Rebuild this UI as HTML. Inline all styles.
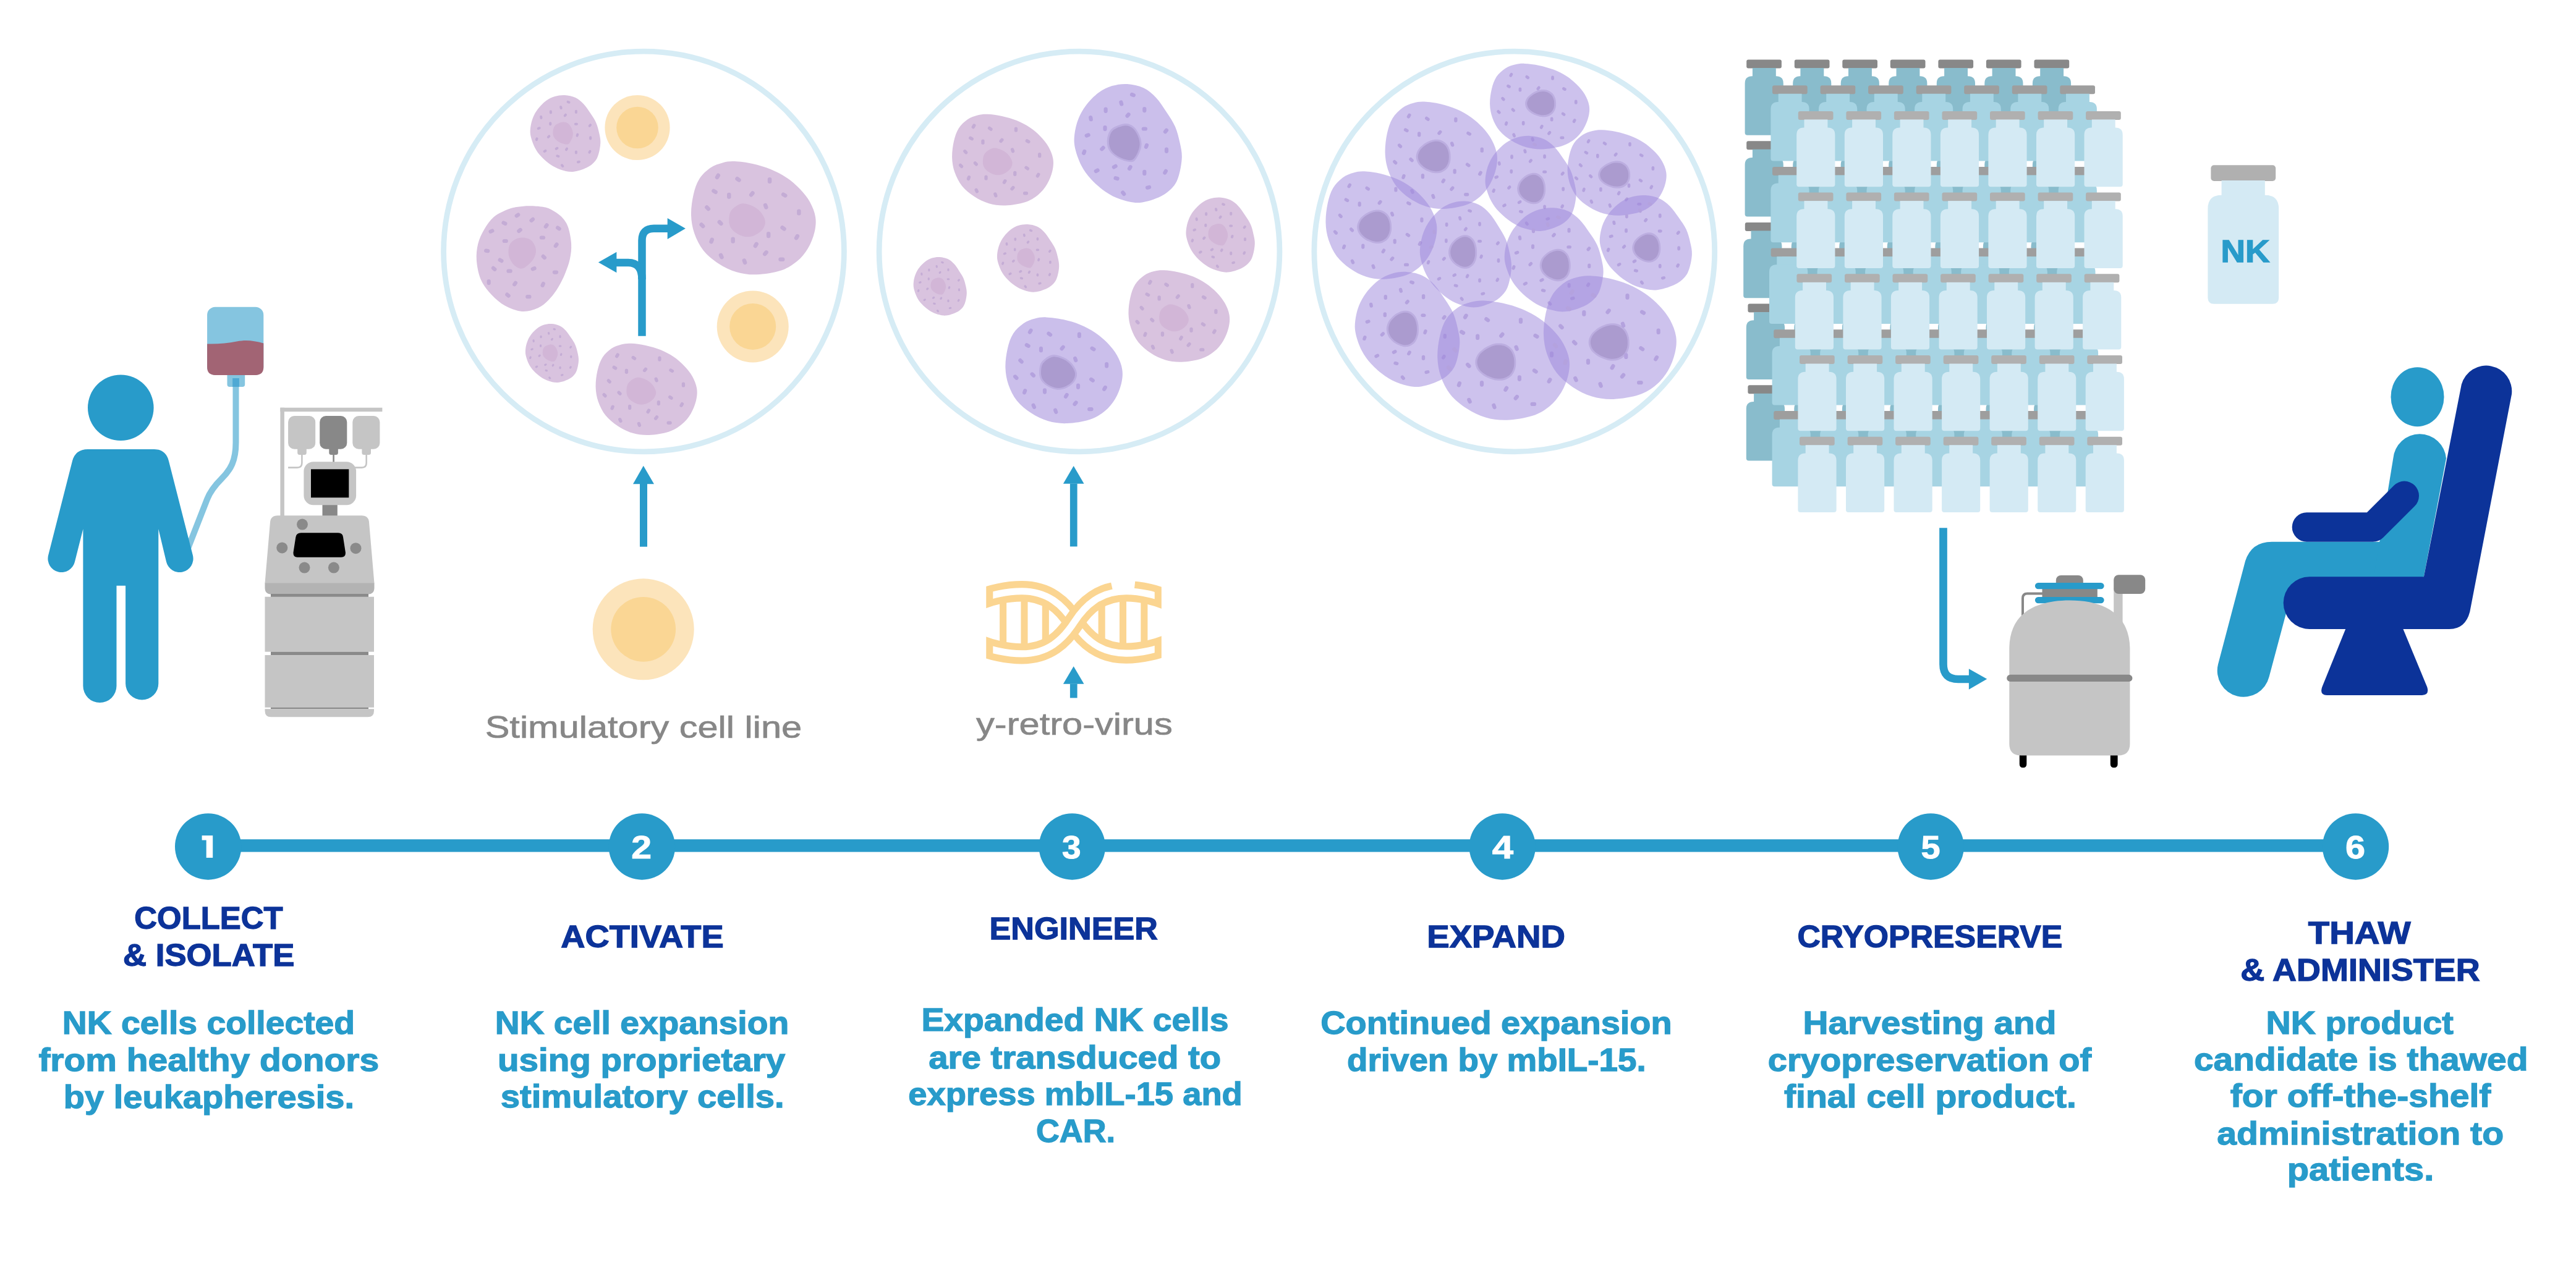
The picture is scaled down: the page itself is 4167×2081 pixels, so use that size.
<!DOCTYPE html><html><head><meta charset="utf-8"><title>NK cell manufacturing process</title>
<style>html,body{margin:0;padding:0;background:#fff;}svg{display:block;}text{font-family:"Liberation Sans",sans-serif;}</style></head><body>
<svg width="4167" height="2081" viewBox="0 0 4167 2081">
<rect width="4167" height="2081" fill="#fff"/>
<path d="M 381.5 620 L 381.5 716 C 381.5 746 373 760 359 774 C 347 786 340 795 335 808 L 303 890" fill="none" stroke="#85c5e0" stroke-width="10"/>
<rect x="367.5" y="603" width="28.7" height="23" rx="4" fill="#85c5e0"/>
<rect x="376.2" y="612" width="10.7" height="14" fill="#4ea9d4"/>
<rect x="335.1" y="496.7" width="91.2" height="110.2" rx="13" fill="#85c5e0"/>
<path d="M 335.1 556.5 C 352 557 368 555.5 383 552.5 C 398 549.5 410 551 426.3 555.5 L 426.3 594 Q 426.3 606.9 413.3 606.9 L 348.1 606.9 Q 335.1 606.9 335.1 594 Z" fill="#a26474"/>
<circle cx="195.3" cy="659.8" r="53.3" fill="#289bca"/>
<path d="M 142 727 L 249 727 Q 268 727 273 746 L 312 899 A 22 22 0 0 1 269 909 L 256.3 856 L 256.3 1106 A 26.6 26.6 0 0 1 203.1 1106 L 203.1 947.7 L 188.5 947.7 L 188.5 1110 A 27 27 0 0 1 134.4 1110 L 134.4 856 L 121 909 A 22 22 0 0 1 78 899 L 117 746 Q 122 727 142 727 Z" fill="#289bca"/>
<rect x="453.4" y="659.7" width="6.5" height="176" fill="#c5c5c5"/>
<rect x="453.4" y="659.7" width="165" height="6.4" fill="#c5c5c5"/>
<rect x="466.1" y="673" width="44.1" height="53.8" rx="10" fill="#c5c5c5"/>
<rect x="481.2" y="722" width="14.6" height="14" rx="3.5" fill="#c5c5c5"/>
<rect x="517.2" y="673" width="44.1" height="53.8" rx="10" fill="#888888"/>
<rect x="532.3" y="722" width="14.6" height="14" rx="3.5" fill="#888888"/>
<rect x="570.3" y="673" width="44.1" height="53.8" rx="10" fill="#c5c5c5"/>
<rect x="585.4" y="722" width="14.6" height="14" rx="3.5" fill="#c5c5c5"/>
<path d="M 488.4 736 L 488.4 749 Q 488.4 756.6 480.8 756.6 L 466.1 756.6" fill="none" stroke="#c5c5c5" stroke-width="2.6"/>
<path d="M 539.6 736 L 539.6 748" fill="none" stroke="#888888" stroke-width="2.6"/>
<path d="M 592.7 736 L 592.7 749 Q 592.7 756.6 585.1 756.6 L 573.6 756.6" fill="none" stroke="#c5c5c5" stroke-width="2.6"/>
<rect x="521.5" y="812" width="24.3" height="24" fill="#888888"/>
<rect x="491.4" y="747.2" width="84.7" height="70" rx="15.5" fill="#c5c5c5"/>
<rect x="503" y="759.3" width="61.3" height="45.9" fill="#000"/>
<path d="M 449 834.2 L 585 834.2 Q 596 834.2 597 845 L 605.5 944 L 428.5 944 L 437 845 Q 438 834.2 449 834.2 Z" fill="#c5c5c5"/>
<path d="M 428.5 943.5 L 605.5 943.5 L 605.5 951 Q 605.5 961.6 595 961.6 L 439 961.6 Q 428.5 961.6 428.5 951 Z" fill="#b3b3b3"/>
<rect x="438" y="961" width="158" height="5" fill="#8a8a8a"/>
<rect x="428.5" y="965.7" width="176.5" height="89" fill="#c5c5c5"/>
<rect x="438" y="1054.7" width="158" height="5.4" fill="#8a8a8a"/>
<rect x="428.5" y="1060.1" width="176.5" height="84.7" fill="#c5c5c5"/>
<rect x="438" y="1144.8" width="158" height="2.6" fill="#8a8a8a"/>
<path d="M 428.5 1147.3 L 605 1147.3 L 605 1150.3 Q 605 1160.3 595 1160.3 L 438.5 1160.3 Q 428.5 1160.3 428.5 1150.3 Z" fill="#c5c5c5"/>
<path d="M 487 862.2 L 547 862.2 Q 554.3 862.2 555 869 L 558.9 894 Q 559.5 901.7 552 901.7 L 481 901.7 Q 474 901.7 474.5 894 L 478.4 869 Q 479.4 862.2 487 862.2 Z" fill="#000"/>
<circle cx="489" cy="848.6" r="9" fill="#8a8a8a"/>
<circle cx="456.3" cy="886.4" r="9" fill="#8a8a8a"/>
<circle cx="575.5" cy="887.2" r="9" fill="#8a8a8a"/>
<circle cx="492.5" cy="918.6" r="9" fill="#8a8a8a"/>
<circle cx="539.9" cy="918.6" r="9" fill="#8a8a8a"/>
<circle cx="1041.5" cy="407" r="323.9" fill="none" stroke="#d6ecf5" stroke-width="8.8"/>
<circle cx="1746" cy="407" r="323.9" fill="none" stroke="#d6ecf5" stroke-width="8.8"/>
<circle cx="2449.8" cy="407" r="323.9" fill="none" stroke="#d6ecf5" stroke-width="8.8"/>
<g><path d="M 913.7 154 C 919.2 154.3 925.8 155.7 930.9 158 C 935.9 160.4 940 163.9 944 168.2 C 948.1 172.4 951.8 178.3 955.1 183.3 C 958.5 188.4 961.9 193.1 964.2 198.5 C 966.6 203.9 968.1 210.3 969.3 215.7 C 970.5 221.1 971.5 225.3 971.3 230.9 C 971.1 236.4 969.8 244 968.3 249.1 C 966.8 254.1 965.4 257.5 962.2 261.2 C 959 264.9 955 268.5 949.1 271.3 C 943.2 274.1 933.9 277.4 926.8 277.9 C 919.8 278.4 912.7 276.3 906.6 274.4 C 900.6 272.4 895.7 269.8 890.4 266.3 C 885.2 262.7 879.5 257.7 875.3 253.1 C 871.1 248.6 868 244.4 865.2 239 C 862.4 233.6 859.8 226.1 858.6 220.8 C 857.4 215.4 857.5 211.7 858.1 206.6 C 858.7 201.5 860.1 195.5 862.1 190.4 C 864.2 185.4 866.7 180.8 870.2 176.3 C 873.8 171.7 878.8 166.5 883.4 163.1 C 887.9 159.7 892.5 157.5 897.5 156 C 902.6 154.5 908.1 153.7 913.7 154 Z" fill="#d9c3df"/><path d="M 910.7 197.5 C 914.2 197.2 917.2 198.3 919.8 200.5 C 922.3 202.7 924.7 207.3 925.8 210.6 C 926.9 214 927.2 217.2 926.3 220.8 C 925.5 224.3 922.7 229.8 920.8 231.9 C 918.8 234 917.4 233.7 914.7 233.4 C 912 233.1 907.6 231.6 904.6 229.9 C 901.6 228.1 898.2 225.6 896.5 222.8 C 894.8 219.9 894.1 216 894.5 212.7 C 894.8 209.3 895.8 205.1 898.5 202.5 C 901.2 200 907.1 197.8 910.7 197.5 Z" fill="#d2b6d7"/><rect x="916.5" y="163.3" width="6.1" height="4" rx="2" transform="rotate(20 919.6 165.3)" fill="#c4acd5"/><rect x="904.4" y="171.9" width="6.1" height="4" rx="2" transform="rotate(75 907.4 173.9)" fill="#c4acd5"/><rect x="887.9" y="179.3" width="6.1" height="4" rx="2" transform="rotate(90 890.9 181.3)" fill="#c4acd5"/><rect x="928.9" y="178.8" width="6.1" height="4" rx="2" transform="rotate(90 931.9 180.8)" fill="#c4acd5"/><rect x="872.2" y="187.9" width="6.1" height="4" rx="2" transform="rotate(80 875.3 189.9)" fill="#c4acd5"/><rect x="911.4" y="184.5" width="6.1" height="4" rx="2" transform="rotate(-50 914.4 186.6)" fill="#c4acd5"/><rect x="887.2" y="198.2" width="6.1" height="4" rx="2" transform="rotate(90 890.2 200.2)" fill="#c4acd5"/><rect x="928.9" y="198.8" width="6.1" height="4" rx="2" transform="rotate(0 931.9 200.8)" fill="#c4acd5"/><rect x="951.4" y="201" width="6.1" height="4" rx="2" transform="rotate(-50 954.4 203.1)" fill="#c4acd5"/><rect x="868.7" y="205.6" width="6.1" height="4" rx="2" transform="rotate(-20 871.7 207.6)" fill="#c4acd5"/><rect x="884.6" y="219.2" width="6.1" height="4" rx="2" transform="rotate(-45 887.6 221.3)" fill="#c4acd5"/><rect x="930.9" y="216.7" width="6.1" height="4" rx="2" transform="rotate(-70 933.9 218.7)" fill="#c4acd5"/><rect x="952.1" y="221.3" width="6.1" height="4" rx="2" transform="rotate(90 955.1 223.3)" fill="#c4acd5"/><rect x="865.2" y="223.3" width="6.1" height="4" rx="2" transform="rotate(-70 868.2 225.3)" fill="#c4acd5"/><rect x="897.5" y="238.3" width="6.1" height="4" rx="2" transform="rotate(-30 900.5 240.3)" fill="#c4acd5"/><rect x="913.5" y="239.5" width="6.1" height="4" rx="2" transform="rotate(-60 916.5 241.5)" fill="#c4acd5"/><rect x="878.5" y="242.5" width="6.1" height="4" rx="2" transform="rotate(-30 881.5 244.5)" fill="#c4acd5"/><rect x="928.9" y="244.5" width="6.1" height="4" rx="2" transform="rotate(90 931.9 246.5)" fill="#c4acd5"/><rect x="950.9" y="243.8" width="6.1" height="4" rx="2" transform="rotate(-60 953.9 245.8)" fill="#c4acd5"/><rect x="899.3" y="250.6" width="6.1" height="4" rx="2" transform="rotate(15 902.4 252.6)" fill="#c4acd5"/><rect x="932.9" y="260" width="6.1" height="4" rx="2" transform="rotate(-15 935.9 262)" fill="#c4acd5"/><rect x="906.6" y="266.1" width="6.1" height="4" rx="2" transform="rotate(50 909.6 268.1)" fill="#c4acd5"/></g>
<circle cx="1031" cy="206.5" r="52.6" fill="#fce4bb"/><circle cx="1031" cy="206.5" r="33.8" fill="#fad694"/>
<g><path d="M 856.4 333.2 C 863.2 333.2 872.3 333.7 878.2 334.8 C 884.2 335.8 887.3 336.8 892.2 339.4 C 897.1 342 903.4 345.8 907.8 350.3 C 912.2 354.9 915.9 359.3 918.7 366.7 C 921.4 374 923.6 385.9 924.1 394.7 C 924.6 403.5 923.5 411.5 921.8 419.6 C 920.1 427.6 917.1 435.4 914 442.9 C 910.9 450.4 907 458.2 903.1 464.7 C 899.2 471.2 895.3 476.6 890.7 481.8 C 886 487 881.3 492.2 875.1 495.8 C 868.9 499.5 860.1 502.6 853.3 503.6 C 846.6 504.6 841.7 504.1 834.7 502 C 827.7 500 818.6 496.1 811.3 491.2 C 804.1 486.2 796.8 479.2 791.1 472.5 C 785.4 465.7 780.5 459.2 777.1 450.7 C 773.8 442.1 771.5 430.5 770.9 421.1 C 770.3 411.8 771.2 403 773.2 394.7 C 775.3 386.4 779.1 378.6 783.3 371.3 C 787.6 364.1 792.4 356.5 798.9 351.1 C 805.4 345.6 815.7 341.4 822.2 338.6 C 828.7 335.9 832.1 335.7 837.8 334.8 C 843.5 333.8 849.7 333.2 856.4 333.2 Z" fill="#d9c3df"/><path d="M 845.6 384.6 C 850.2 384.7 856 386 859.6 389.2 C 863.1 392.5 866.5 398.9 867 404 C 867.5 409.1 865.5 414.9 862.7 419.6 C 859.9 424.2 853.9 429.6 850.2 432 C 846.6 434.5 844.3 435.1 840.9 434.4 C 837.5 433.6 833 430.8 830 427.3 C 827 423.8 824 418.3 823 413.3 C 822 408.4 822.4 401.9 823.8 397.8 C 825.2 393.6 827.9 390.6 831.6 388.4 C 835.2 386.2 840.9 384.4 845.6 384.6 Z" fill="#d2b6d7"/><rect x="832.3" y="345.2" width="9.3" height="6.2" rx="3.1" transform="rotate(-35 837 348.3)" fill="#c4acd5"/><rect x="856.1" y="352.7" width="9.3" height="6.2" rx="3.1" transform="rotate(-40 860.8 355.8)" fill="#c4acd5"/><rect x="811.3" y="358.1" width="9.3" height="6.2" rx="3.1" transform="rotate(25 816 361.2)" fill="#c4acd5"/><rect x="790.3" y="371" width="9.3" height="6.2" rx="3.1" transform="rotate(-25 795 374.1)" fill="#c4acd5"/><rect x="835.9" y="369.8" width="9.3" height="6.2" rx="3.1" transform="rotate(-40 840.6 372.9)" fill="#c4acd5"/><rect x="879" y="362.3" width="9.3" height="6.2" rx="3.1" transform="rotate(-55 883.7 365.4)" fill="#c4acd5"/><rect x="898.7" y="366.3" width="9.3" height="6.2" rx="3.1" transform="rotate(35 903.4 369.5)" fill="#c4acd5"/><rect x="872.8" y="381.4" width="9.3" height="6.2" rx="3.1" transform="rotate(0 877.4 384.6)" fill="#c4acd5"/><rect x="812.6" y="386.9" width="9.3" height="6.2" rx="3.1" transform="rotate(0 817.2 390)" fill="#c4acd5"/><rect x="783" y="402.8" width="9.3" height="6.2" rx="3.1" transform="rotate(10 787.7 405.9)" fill="#c4acd5"/><rect x="895" y="393.6" width="9.3" height="6.2" rx="3.1" transform="rotate(-55 899.7 396.7)" fill="#c4acd5"/><rect x="805.4" y="418.3" width="9.3" height="6.2" rx="3.1" transform="rotate(30 810.1 421.4)" fill="#c4acd5"/><rect x="875.1" y="412.9" width="9.3" height="6.2" rx="3.1" transform="rotate(45 879.8 416)" fill="#c4acd5"/><rect x="794.5" y="431.7" width="9.3" height="6.2" rx="3.1" transform="rotate(40 799.2 434.8)" fill="#c4acd5"/><rect x="819.4" y="435.6" width="9.3" height="6.2" rx="3.1" transform="rotate(0 824.1 438.7)" fill="#c4acd5"/><rect x="858.5" y="431.7" width="9.3" height="6.2" rx="3.1" transform="rotate(-20 863.1 434.8)" fill="#c4acd5"/><rect x="893.8" y="437.5" width="9.3" height="6.2" rx="3.1" transform="rotate(0 898.4 440.6)" fill="#c4acd5"/><rect x="786" y="453.5" width="9.3" height="6.2" rx="3.1" transform="rotate(90 790.7 456.6)" fill="#c4acd5"/><rect x="828.4" y="455.8" width="9.3" height="6.2" rx="3.1" transform="rotate(-55 833.1 458.9)" fill="#c4acd5"/><rect x="873.6" y="457.4" width="9.3" height="6.2" rx="3.1" transform="rotate(-65 878.2 460.5)" fill="#c4acd5"/><rect x="816.8" y="474.5" width="9.3" height="6.2" rx="3.1" transform="rotate(40 821.4 477.6)" fill="#c4acd5"/><rect x="850.2" y="477.1" width="9.3" height="6.2" rx="3.1" transform="rotate(0 854.9 480.3)" fill="#c4acd5"/></g>
<g><path d="M 1188.2 261.1 C 1196.4 261.4 1207.7 262.9 1217.5 265 C 1227.3 267.2 1237.6 270.2 1246.8 274 C 1256 277.8 1264.9 282.5 1272.8 287.8 C 1280.6 293.1 1287.7 299.2 1293.9 305.8 C 1300.1 312.3 1306 319.3 1310.2 326.9 C 1314.4 334.6 1317.9 343.2 1319.1 351.4 C 1320.3 359.5 1319.5 367.4 1317.5 375.8 C 1315.5 384.3 1311.7 394 1306.9 401.9 C 1302.2 409.8 1296.4 417.1 1289 423.1 C 1281.7 429.1 1273.9 434.2 1263 437.8 C 1252.2 441.3 1235.9 443.9 1224 444.3 C 1212.1 444.7 1201.8 443.2 1191.5 440.2 C 1181.2 437.2 1171.2 432.2 1162.2 426.4 C 1153.3 420.5 1144.3 413.3 1137.8 405.2 C 1131.3 397 1126.5 387 1123.2 377.5 C 1119.9 368 1118.3 358.5 1118 348.1 C 1117.7 337.8 1119.4 325.3 1121.6 315.5 C 1123.8 305.8 1126.7 296.8 1131.3 289.5 C 1135.9 282.1 1143 275.9 1149.2 271.5 C 1155.4 267.2 1162.2 265.1 1168.7 263.4 C 1175.2 261.6 1180.1 260.8 1188.2 261.1 Z" fill="#d9c3df"/><path d="M 1199.6 329.4 C 1205.3 328.3 1212.4 331.2 1217.5 333.5 C 1222.6 335.8 1227.1 339.2 1230.5 343.2 C 1233.9 347.3 1237.3 353.3 1237.8 357.9 C 1238.4 362.5 1236.6 367.2 1233.8 371 C 1230.9 374.8 1225.4 378.7 1220.8 380.7 C 1216.1 382.8 1211 383.7 1206.1 383.2 C 1201.2 382.6 1195.6 380.1 1191.5 377.5 C 1187.4 374.9 1183.8 371.5 1181.7 367.7 C 1179.7 363.9 1179 359.3 1179.3 354.7 C 1179.6 350 1180 344.2 1183.4 340 C 1186.7 335.8 1193.9 330.5 1199.6 329.4 Z" fill="#d2b6d7"/><rect x="1155.9" y="282.1" width="10.1" height="6.5" rx="3.3" transform="rotate(-60 1160.9 285.4)" fill="#c4acd5"/><rect x="1188.9" y="287" width="10.1" height="6.5" rx="3.3" transform="rotate(35 1193.9 290.3)" fill="#c4acd5"/><rect x="1240.1" y="288.7" width="10.1" height="6.5" rx="3.3" transform="rotate(90 1245.1 291.9)" fill="#c4acd5"/><rect x="1151" y="306.6" width="10.1" height="6.5" rx="3.3" transform="rotate(30 1156 309.8)" fill="#c4acd5"/><rect x="1174.3" y="313.6" width="10.1" height="6.5" rx="3.3" transform="rotate(90 1179.3 316.8)" fill="#c4acd5"/><rect x="1211.2" y="310.7" width="10.1" height="6.5" rx="3.3" transform="rotate(-50 1216.2 313.9)" fill="#c4acd5"/><rect x="1263.7" y="312.3" width="10.1" height="6.5" rx="3.3" transform="rotate(30 1268.7 315.5)" fill="#c4acd5"/><rect x="1139.6" y="333.5" width="10.1" height="6.5" rx="3.3" transform="rotate(45 1144.7 336.7)" fill="#c4acd5"/><rect x="1233.6" y="330.5" width="10.1" height="6.5" rx="3.3" transform="rotate(70 1238.6 333.8)" fill="#c4acd5"/><rect x="1287.2" y="340.3" width="10.1" height="6.5" rx="3.3" transform="rotate(90 1292.3 343.6)" fill="#c4acd5"/><rect x="1130.8" y="361.5" width="10.1" height="6.5" rx="3.3" transform="rotate(45 1135.9 364.8)" fill="#c4acd5"/><rect x="1160.1" y="357.3" width="10.1" height="6.5" rx="3.3" transform="rotate(45 1165.1 360.5)" fill="#c4acd5"/><rect x="1262" y="366.1" width="10.1" height="6.5" rx="3.3" transform="rotate(35 1267.1 369.3)" fill="#c4acd5"/><rect x="1238.1" y="377" width="10.1" height="6.5" rx="3.3" transform="rotate(90 1243.2 380.2)" fill="#c4acd5"/><rect x="1284" y="380.4" width="10.1" height="6.5" rx="3.3" transform="rotate(-60 1289 383.7)" fill="#c4acd5"/><rect x="1146.1" y="386.1" width="10.1" height="6.5" rx="3.3" transform="rotate(-70 1151.2 389.4)" fill="#c4acd5"/><rect x="1180.6" y="385.3" width="10.1" height="6.5" rx="3.3" transform="rotate(90 1185.6 388.6)" fill="#c4acd5"/><rect x="1217.7" y="393.3" width="10.1" height="6.5" rx="3.3" transform="rotate(-60 1222.7 396.5)" fill="#c4acd5"/><rect x="1233.3" y="406.5" width="10.1" height="6.5" rx="3.3" transform="rotate(-50 1238.3 409.7)" fill="#c4acd5"/><rect x="1161.7" y="411.4" width="10.1" height="6.5" rx="3.3" transform="rotate(65 1166.8 414.6)" fill="#c4acd5"/><rect x="1199.5" y="419.9" width="10.1" height="6.5" rx="3.3" transform="rotate(70 1204.5 423.1)" fill="#c4acd5"/><rect x="1259.3" y="416.6" width="10.1" height="6.5" rx="3.3" transform="rotate(0 1264.3 419.9)" fill="#c4acd5"/></g>
<circle cx="1217.7" cy="528.4" r="58" fill="#fce4bb"/><circle cx="1217.7" cy="528.4" r="37.5" fill="#fad694"/>
<g><path d="M 892.3 524.1 C 896.5 524.4 901.5 525.4 905.4 527.2 C 909.2 529 912.3 531.7 915.3 534.9 C 918.4 538.2 921.2 542.7 923.7 546.6 C 926.3 550.4 928.9 554.1 930.6 558.2 C 932.4 562.3 933.6 567.2 934.5 571.4 C 935.4 575.5 936.1 578.7 936 583 C 935.9 587.2 934.9 593 933.7 596.9 C 932.6 600.8 931.5 603.4 929.1 606.2 C 926.7 609.1 923.6 611.8 919.1 614 C 914.7 616.1 907.7 618.6 902.3 619 C 896.9 619.4 891.6 617.8 887 616.3 C 882.4 614.8 878.7 612.8 874.7 610.1 C 870.8 607.4 866.4 603.5 863.2 600 C 860 596.5 857.7 593.3 855.6 589.2 C 853.5 585 851.5 579.4 850.6 575.2 C 849.7 571.1 849.8 568.3 850.2 564.4 C 850.6 560.5 851.7 555.9 853.3 552 C 854.8 548.1 856.7 544.6 859.4 541.1 C 862.1 537.7 865.9 533.7 869.4 531.1 C 872.8 528.5 876.2 526.8 880.1 525.6 C 883.9 524.5 888.1 523.8 892.3 524.1 Z" fill="#d9c3df"/><path d="M 890 557.4 C 892.7 557.2 895 558.1 896.9 559.7 C 898.8 561.4 900.7 564.9 901.5 567.5 C 902.4 570.1 902.5 572.5 901.9 575.2 C 901.3 577.9 899.2 582.1 897.7 583.8 C 896.2 585.4 895.1 585.2 893.1 584.9 C 891.1 584.7 887.7 583.6 885.4 582.2 C 883.1 580.8 880.6 579 879.3 576.8 C 878 574.6 877.5 571.6 877.8 569 C 878 566.4 878.8 563.2 880.8 561.3 C 882.9 559.3 887.4 557.7 890 557.4 Z" fill="#d2b6d7"/><rect x="894.5" y="531.2" width="4.6" height="3.1" rx="1.5" transform="rotate(20 896.8 532.8)" fill="#c4acd5"/><rect x="885.3" y="537.8" width="4.6" height="3.1" rx="1.5" transform="rotate(75 887.6 539.4)" fill="#c4acd5"/><rect x="872.8" y="543.5" width="4.6" height="3.1" rx="1.5" transform="rotate(90 875.1 545)" fill="#c4acd5"/><rect x="903.8" y="543.1" width="4.6" height="3.1" rx="1.5" transform="rotate(90 906.1 544.6)" fill="#c4acd5"/><rect x="860.9" y="550.1" width="4.6" height="3.1" rx="1.5" transform="rotate(80 863.2 551.6)" fill="#c4acd5"/><rect x="890.6" y="547.5" width="4.6" height="3.1" rx="1.5" transform="rotate(-50 892.9 549)" fill="#c4acd5"/><rect x="872.3" y="558" width="4.6" height="3.1" rx="1.5" transform="rotate(90 874.6 559.5)" fill="#c4acd5"/><rect x="903.8" y="558.4" width="4.6" height="3.1" rx="1.5" transform="rotate(0 906.1 560)" fill="#c4acd5"/><rect x="920.9" y="560.1" width="4.6" height="3.1" rx="1.5" transform="rotate(-50 923.2 561.7)" fill="#c4acd5"/><rect x="858.2" y="563.6" width="4.6" height="3.1" rx="1.5" transform="rotate(-20 860.5 565.2)" fill="#c4acd5"/><rect x="870.3" y="574.1" width="4.6" height="3.1" rx="1.5" transform="rotate(-45 872.6 575.6)" fill="#c4acd5"/><rect x="905.4" y="572.1" width="4.6" height="3.1" rx="1.5" transform="rotate(-70 907.7 573.7)" fill="#c4acd5"/><rect x="921.4" y="575.6" width="4.6" height="3.1" rx="1.5" transform="rotate(90 923.7 577.2)" fill="#c4acd5"/><rect x="855.6" y="577.2" width="4.6" height="3.1" rx="1.5" transform="rotate(-70 857.9 578.7)" fill="#c4acd5"/><rect x="880.1" y="588.6" width="4.6" height="3.1" rx="1.5" transform="rotate(-30 882.4 590.2)" fill="#c4acd5"/><rect x="892.2" y="589.6" width="4.6" height="3.1" rx="1.5" transform="rotate(-60 894.5 591.1)" fill="#c4acd5"/><rect x="865.7" y="591.9" width="4.6" height="3.1" rx="1.5" transform="rotate(-30 868 593.4)" fill="#c4acd5"/><rect x="903.8" y="593.5" width="4.6" height="3.1" rx="1.5" transform="rotate(90 906.1 595)" fill="#c4acd5"/><rect x="920.5" y="592.9" width="4.6" height="3.1" rx="1.5" transform="rotate(-60 922.8 594.4)" fill="#c4acd5"/><rect x="881.5" y="598.1" width="4.6" height="3.1" rx="1.5" transform="rotate(15 883.8 599.6)" fill="#c4acd5"/><rect x="906.9" y="605.3" width="4.6" height="3.1" rx="1.5" transform="rotate(-15 909.2 606.8)" fill="#c4acd5"/><rect x="887" y="610" width="4.6" height="3.1" rx="1.5" transform="rotate(50 889.3 611.5)" fill="#c4acd5"/></g>
<g><path d="M 1020.7 555.7 C 1027.3 555.9 1036.6 557.1 1044.5 558.9 C 1052.5 560.6 1060.9 563 1068.3 566.1 C 1075.8 569.2 1083.1 573.1 1089.5 577.3 C 1095.9 581.6 1101.6 586.6 1106.7 591.9 C 1111.8 597.1 1116.5 602.8 1119.9 609 C 1123.3 615.2 1126.2 622.2 1127.2 628.8 C 1128.2 635.4 1127.5 641.8 1125.9 648.6 C 1124.2 655.4 1121.1 663.3 1117.3 669.7 C 1113.4 676.1 1108.7 682 1102.7 686.8 C 1096.8 691.7 1090.4 695.9 1081.6 698.7 C 1072.8 701.6 1059.5 703.7 1049.8 704 C 1040.1 704.3 1031.8 703.1 1023.4 700.7 C 1015 698.3 1006.8 694.2 999.6 689.5 C 992.3 684.8 985 678.9 979.7 672.3 C 974.4 665.7 970.5 657.6 967.8 649.9 C 965.1 642.2 963.8 634.5 963.6 626.2 C 963.4 617.8 964.7 607.7 966.5 599.8 C 968.3 591.9 970.7 584.6 974.4 578.7 C 978.2 572.7 983.9 567.7 989 564.1 C 994.1 560.6 999.6 559 1004.9 557.5 C 1010.2 556.1 1014.1 555.5 1020.7 555.7 Z" fill="#d9c3df"/><path d="M 1030 611 C 1034.6 610.1 1040.4 612.4 1044.5 614.3 C 1048.7 616.2 1052.4 618.9 1055.1 622.2 C 1057.9 625.5 1060.6 630.3 1061.1 634.1 C 1061.5 637.8 1060.1 641.5 1057.8 644.6 C 1055.5 647.7 1050.9 650.9 1047.2 652.5 C 1043.4 654.2 1039.3 655 1035.3 654.5 C 1031.3 654.1 1026.7 652 1023.4 649.9 C 1020.1 647.8 1017.1 645.1 1015.4 642 C 1013.8 638.9 1013.2 635.2 1013.5 631.4 C 1013.7 627.7 1014 623 1016.8 619.6 C 1019.5 616.2 1025.4 611.9 1030 611 Z" fill="#d2b6d7"/><rect x="994.4" y="572.7" width="8.2" height="5.3" rx="2.6" transform="rotate(-60 998.5 575.4)" fill="#c4acd5"/><rect x="1021.3" y="576.7" width="8.2" height="5.3" rx="2.6" transform="rotate(35 1025.4 579.3)" fill="#c4acd5"/><rect x="1062.9" y="578" width="8.2" height="5.3" rx="2.6" transform="rotate(90 1067 580.6)" fill="#c4acd5"/><rect x="990.4" y="592.5" width="8.2" height="5.3" rx="2.6" transform="rotate(30 994.5 595.1)" fill="#c4acd5"/><rect x="1009.4" y="598.2" width="8.2" height="5.3" rx="2.6" transform="rotate(90 1013.5 600.8)" fill="#c4acd5"/><rect x="1039.4" y="595.8" width="8.2" height="5.3" rx="2.6" transform="rotate(-50 1043.5 598.4)" fill="#c4acd5"/><rect x="1082.1" y="597.1" width="8.2" height="5.3" rx="2.6" transform="rotate(30 1086.2 599.8)" fill="#c4acd5"/><rect x="981.2" y="614.3" width="8.2" height="5.3" rx="2.6" transform="rotate(45 985.3 616.9)" fill="#c4acd5"/><rect x="1057.6" y="611.9" width="8.2" height="5.3" rx="2.6" transform="rotate(70 1061.7 614.5)" fill="#c4acd5"/><rect x="1101.3" y="619.8" width="8.2" height="5.3" rx="2.6" transform="rotate(90 1105.4 622.5)" fill="#c4acd5"/><rect x="974" y="637" width="8.2" height="5.3" rx="2.6" transform="rotate(45 978.1 639.6)" fill="#c4acd5"/><rect x="997.9" y="633.5" width="8.2" height="5.3" rx="2.6" transform="rotate(45 1002 636.2)" fill="#c4acd5"/><rect x="1080.8" y="640.7" width="8.2" height="5.3" rx="2.6" transform="rotate(35 1084.9 643.3)" fill="#c4acd5"/><rect x="1061.3" y="649.5" width="8.2" height="5.3" rx="2.6" transform="rotate(90 1065.4 652.1)" fill="#c4acd5"/><rect x="1098.6" y="652.3" width="8.2" height="5.3" rx="2.6" transform="rotate(-60 1102.7 654.9)" fill="#c4acd5"/><rect x="986.5" y="656.9" width="8.2" height="5.3" rx="2.6" transform="rotate(-70 990.6 659.5)" fill="#c4acd5"/><rect x="1014.5" y="656.2" width="8.2" height="5.3" rx="2.6" transform="rotate(90 1018.6 658.9)" fill="#c4acd5"/><rect x="1044.7" y="662.7" width="8.2" height="5.3" rx="2.6" transform="rotate(-60 1048.8 665.3)" fill="#c4acd5"/><rect x="1057.4" y="673.4" width="8.2" height="5.3" rx="2.6" transform="rotate(-50 1061.5 676)" fill="#c4acd5"/><rect x="999.2" y="677.3" width="8.2" height="5.3" rx="2.6" transform="rotate(65 1003.3 680)" fill="#c4acd5"/><rect x="1029.9" y="684.2" width="8.2" height="5.3" rx="2.6" transform="rotate(70 1034 686.8)" fill="#c4acd5"/><rect x="1078.5" y="681.6" width="8.2" height="5.3" rx="2.6" transform="rotate(0 1082.6 684.2)" fill="#c4acd5"/></g>
<path d="M 1038.5 543.8 L 1038.5 389 Q 1038.5 369.8 1057.7 369.8 L 1082 369.8" fill="none" stroke="#289bca" stroke-width="12.5"/>
<path d="M 1038.5 452 Q 1038.5 424.9 1016 424.9 L 995 424.9" fill="none" stroke="#289bca" stroke-width="12.5"/>
<path d="M 1079.7 352.9 L 1108.9 369.7 L 1079.7 386.9 Z" fill="#289bca"/>
<path d="M 997.4 407.8 L 967.9 424.5 L 997.4 441.3 Z" fill="#289bca"/>
<g><path d="M 1597.2 184.7 C 1603.8 184.9 1613 186.1 1620.9 187.9 C 1628.9 189.6 1637.2 192 1644.7 195.1 C 1652.2 198.2 1659.5 202 1665.9 206.3 C 1672.2 210.5 1678 215.5 1683 220.7 C 1688.1 226 1692.8 231.7 1696.2 237.8 C 1699.7 244 1702.5 251 1703.5 257.5 C 1704.5 264.1 1703.8 270.5 1702.2 277.3 C 1700.5 284.1 1697.4 292 1693.6 298.3 C 1689.7 304.7 1685 310.6 1679.1 315.4 C 1673.1 320.2 1666.7 324.4 1657.9 327.2 C 1649.1 330.1 1635.9 332.2 1626.2 332.5 C 1616.5 332.8 1608.2 331.6 1599.8 329.2 C 1591.4 326.8 1583.3 322.7 1576 318 C 1568.8 313.3 1561.5 307.5 1556.2 300.9 C 1550.9 294.4 1547 286.3 1544.3 278.6 C 1541.6 270.9 1540.3 263.2 1540.1 254.9 C 1539.9 246.6 1541.2 236.5 1543 228.6 C 1544.8 220.7 1547.2 213.5 1550.9 207.6 C 1554.7 201.7 1560.4 196.6 1565.5 193.1 C 1570.5 189.6 1576 187.9 1581.3 186.5 C 1586.6 185.1 1590.6 184.5 1597.2 184.7 Z" fill="#d9c3df"/><path d="M 1606.4 239.8 C 1611 238.9 1616.8 241.2 1620.9 243.1 C 1625.1 244.9 1628.8 247.7 1631.5 251 C 1634.3 254.3 1637 259.1 1637.5 262.8 C 1637.9 266.5 1636.5 270.3 1634.2 273.3 C 1631.8 276.4 1627.3 279.6 1623.6 281.2 C 1619.8 282.9 1615.7 283.6 1611.7 283.2 C 1607.7 282.8 1603.1 280.7 1599.8 278.6 C 1596.5 276.5 1593.5 273.8 1591.9 270.7 C 1590.2 267.6 1589.7 263.9 1589.9 260.2 C 1590.1 256.5 1590.5 251.7 1593.2 248.3 C 1596 244.9 1601.8 240.7 1606.4 239.8 Z" fill="#d2b6d7"/><rect x="1570.9" y="201.7" width="8.2" height="5.3" rx="2.6" transform="rotate(-60 1575 204.3)" fill="#c4acd5"/><rect x="1597.7" y="205.6" width="8.2" height="5.3" rx="2.6" transform="rotate(35 1601.8 208.2)" fill="#c4acd5"/><rect x="1639.3" y="206.9" width="8.2" height="5.3" rx="2.6" transform="rotate(90 1643.4 209.6)" fill="#c4acd5"/><rect x="1566.9" y="221.4" width="8.2" height="5.3" rx="2.6" transform="rotate(30 1571 224)" fill="#c4acd5"/><rect x="1585.8" y="227" width="8.2" height="5.3" rx="2.6" transform="rotate(90 1589.9 229.7)" fill="#c4acd5"/><rect x="1615.8" y="224.7" width="8.2" height="5.3" rx="2.6" transform="rotate(-50 1619.9 227.3)" fill="#c4acd5"/><rect x="1658.5" y="226" width="8.2" height="5.3" rx="2.6" transform="rotate(30 1662.6 228.6)" fill="#c4acd5"/><rect x="1557.7" y="243.1" width="8.2" height="5.3" rx="2.6" transform="rotate(45 1561.8 245.7)" fill="#c4acd5"/><rect x="1634" y="240.7" width="8.2" height="5.3" rx="2.6" transform="rotate(70 1638.1 243.3)" fill="#c4acd5"/><rect x="1677.6" y="248.6" width="8.2" height="5.3" rx="2.6" transform="rotate(90 1681.7 251.2)" fill="#c4acd5"/><rect x="1550.5" y="265.7" width="8.2" height="5.3" rx="2.6" transform="rotate(45 1554.6 268.3)" fill="#c4acd5"/><rect x="1574.3" y="262.3" width="8.2" height="5.3" rx="2.6" transform="rotate(45 1578.4 264.9)" fill="#c4acd5"/><rect x="1657.1" y="269.4" width="8.2" height="5.3" rx="2.6" transform="rotate(35 1661.2 272)" fill="#c4acd5"/><rect x="1637.7" y="278.2" width="8.2" height="5.3" rx="2.6" transform="rotate(90 1641.8 280.8)" fill="#c4acd5"/><rect x="1675" y="280.9" width="8.2" height="5.3" rx="2.6" transform="rotate(-60 1679.1 283.6)" fill="#c4acd5"/><rect x="1563" y="285.5" width="8.2" height="5.3" rx="2.6" transform="rotate(-70 1567 288.2)" fill="#c4acd5"/><rect x="1591" y="284.9" width="8.2" height="5.3" rx="2.6" transform="rotate(90 1595.1 287.5)" fill="#c4acd5"/><rect x="1621.1" y="291.3" width="8.2" height="5.3" rx="2.6" transform="rotate(-60 1625.2 294)" fill="#c4acd5"/><rect x="1633.8" y="302" width="8.2" height="5.3" rx="2.6" transform="rotate(-50 1637.9 304.6)" fill="#c4acd5"/><rect x="1575.6" y="305.9" width="8.2" height="5.3" rx="2.6" transform="rotate(65 1579.7 308.6)" fill="#c4acd5"/><rect x="1606.3" y="312.8" width="8.2" height="5.3" rx="2.6" transform="rotate(70 1610.4 315.4)" fill="#c4acd5"/><rect x="1654.9" y="310.1" width="8.2" height="5.3" rx="2.6" transform="rotate(0 1659 312.8)" fill="#c4acd5"/></g>
<g><path d="M 1823.5 136 C 1832 136.5 1842 138.6 1849.8 142.3 C 1857.5 145.9 1863.8 151.4 1870 157.9 C 1876.2 164.5 1881.8 173.6 1887 181.4 C 1892.2 189.3 1897.3 196.6 1901 204.9 C 1904.6 213.3 1906.9 223.2 1908.7 231.6 C 1910.5 239.9 1912.1 246.4 1911.8 255.1 C 1911.5 263.7 1909.5 275.4 1907.1 283.3 C 1904.8 291.1 1902.8 296.3 1897.8 302.1 C 1892.9 307.8 1886.7 313.4 1877.7 317.7 C 1868.7 322 1854.4 327.1 1843.6 327.9 C 1832.8 328.7 1821.9 325.4 1812.6 322.4 C 1803.3 319.4 1795.8 315.4 1787.8 309.9 C 1779.8 304.4 1771 296.6 1764.5 289.5 C 1758.1 282.5 1753.3 275.9 1749 267.6 C 1744.8 259.2 1740.8 247.7 1739 239.4 C 1737.2 231 1737.3 225.3 1738.2 217.5 C 1739.1 209.6 1741.3 200.2 1744.4 192.4 C 1747.5 184.6 1751.4 177.5 1756.8 170.5 C 1762.2 163.4 1770 155.3 1777 150.1 C 1783.9 144.9 1790.9 141.5 1798.7 139.1 C 1806.4 136.8 1814.9 135.5 1823.5 136 Z" fill="#cbbfeb"/><path d="M 1818.7 200.2 C 1824.8 199.6 1830 201.7 1834.4 205.4 C 1838.7 209.2 1842.9 217 1844.8 222.8 C 1846.7 228.6 1847.1 234.1 1845.7 240.1 C 1844.2 246.2 1839.4 255.6 1836.1 259.2 C 1832.8 262.8 1830.3 262.4 1825.7 261.8 C 1821 261.3 1813.5 258.8 1808.3 255.8 C 1803 252.7 1797.2 248.5 1794.3 243.6 C 1791.4 238.7 1790.3 232 1790.8 226.3 C 1791.4 220.5 1793.2 213.2 1797.8 208.9 C 1802.5 204.6 1812.6 200.8 1818.7 200.2 Z" fill="#bcaee0"/><path d="M 1818.8 203.4 C 1824.2 202.8 1828.9 204.7 1832.8 208.1 C 1836.6 211.5 1840.4 218.5 1842 223.7 C 1843.7 228.9 1844.1 233.9 1842.8 239.4 C 1841.5 244.9 1837.3 253.4 1834.3 256.6 C 1831.3 259.9 1829.1 259.5 1825 259 C 1820.9 258.5 1814.2 256.2 1809.5 253.5 C 1804.8 250.7 1799.7 247 1797.1 242.5 C 1794.5 238.1 1793.5 232.1 1794 226.9 C 1794.5 221.6 1796.1 215.1 1800.2 211.2 C 1804.3 207.3 1813.4 203.9 1818.8 203.4 Z" fill="#ab9bcf"/><rect x="1827.8" y="150.4" width="9.3" height="6.2" rx="3.1" transform="rotate(20 1832.4 153.5)" fill="#b4a2de"/><rect x="1809.2" y="163.8" width="9.3" height="6.2" rx="3.1" transform="rotate(75 1813.8 166.9)" fill="#b4a2de"/><rect x="1783.9" y="175.2" width="9.3" height="6.2" rx="3.1" transform="rotate(90 1788.6 178.3)" fill="#b4a2de"/><rect x="1846.7" y="174.4" width="9.3" height="6.2" rx="3.1" transform="rotate(90 1851.3 177.5)" fill="#b4a2de"/><rect x="1759.9" y="188.5" width="9.3" height="6.2" rx="3.1" transform="rotate(80 1764.5 191.6)" fill="#b4a2de"/><rect x="1819.9" y="183.3" width="9.3" height="6.2" rx="3.1" transform="rotate(-50 1824.5 186.4)" fill="#b4a2de"/><rect x="1782.8" y="204.5" width="9.3" height="6.2" rx="3.1" transform="rotate(90 1787.5 207.6)" fill="#b4a2de"/><rect x="1846.7" y="205.4" width="9.3" height="6.2" rx="3.1" transform="rotate(0 1851.3 208.5)" fill="#b4a2de"/><rect x="1881.3" y="208.9" width="9.3" height="6.2" rx="3.1" transform="rotate(-50 1885.9 212)" fill="#b4a2de"/><rect x="1754.5" y="215.9" width="9.3" height="6.2" rx="3.1" transform="rotate(-20 1759.1 219)" fill="#b4a2de"/><rect x="1778.8" y="237.1" width="9.3" height="6.2" rx="3.1" transform="rotate(-45 1783.5 240.2)" fill="#b4a2de"/><rect x="1849.8" y="233.2" width="9.3" height="6.2" rx="3.1" transform="rotate(-70 1854.5 236.3)" fill="#b4a2de"/><rect x="1882.3" y="240.2" width="9.3" height="6.2" rx="3.1" transform="rotate(90 1887 243.3)" fill="#b4a2de"/><rect x="1749" y="243.3" width="9.3" height="6.2" rx="3.1" transform="rotate(-70 1753.7 246.4)" fill="#b4a2de"/><rect x="1798.6" y="266.5" width="9.3" height="6.2" rx="3.1" transform="rotate(-30 1803.3 269.6)" fill="#b4a2de"/><rect x="1823.1" y="268.4" width="9.3" height="6.2" rx="3.1" transform="rotate(-60 1827.8 271.5)" fill="#b4a2de"/><rect x="1769.5" y="273.1" width="9.3" height="6.2" rx="3.1" transform="rotate(-30 1774.2 276.2)" fill="#b4a2de"/><rect x="1846.7" y="276.2" width="9.3" height="6.2" rx="3.1" transform="rotate(90 1851.3 279.3)" fill="#b4a2de"/><rect x="1880.5" y="275.1" width="9.3" height="6.2" rx="3.1" transform="rotate(-60 1885.1 278.2)" fill="#b4a2de"/><rect x="1801.4" y="285.6" width="9.3" height="6.2" rx="3.1" transform="rotate(15 1806.1 288.7)" fill="#b4a2de"/><rect x="1852.9" y="300.2" width="9.3" height="6.2" rx="3.1" transform="rotate(-15 1857.5 303.3)" fill="#b4a2de"/><rect x="1812.6" y="309.6" width="9.3" height="6.2" rx="3.1" transform="rotate(50 1817.2 312.7)" fill="#b4a2de"/></g>
<g><path d="M 1973.4 319.6 C 1978.8 319.9 1985.2 321.2 1990.2 323.6 C 1995.1 325.9 1999.1 329.3 2003.1 333.4 C 2007 337.5 2010.7 343.3 2014 348.2 C 2017.3 353.2 2020.6 357.8 2022.9 363.1 C 2025.2 368.3 2026.7 374.6 2027.8 379.9 C 2029 385.1 2030 389.2 2029.8 394.7 C 2029.6 400.1 2028.3 407.5 2026.8 412.4 C 2025.3 417.4 2024 420.7 2020.9 424.3 C 2017.8 427.9 2013.8 431.5 2008 434.2 C 2002.2 436.9 1993.2 440.1 1986.2 440.6 C 1979.3 441.1 1972.4 439 1966.4 437.1 C 1960.5 435.2 1955.7 432.7 1950.6 429.2 C 1945.5 425.8 1939.9 420.8 1935.7 416.4 C 1931.6 412 1928.6 407.8 1925.8 402.6 C 1923.1 397.3 1920.6 390.1 1919.4 384.8 C 1918.2 379.5 1918.3 375.9 1918.9 371 C 1919.5 366 1920.9 360.1 1922.9 355.2 C 1924.8 350.2 1927.3 345.8 1930.8 341.3 C 1934.2 336.9 1939.2 331.8 1943.7 328.5 C 1948.1 325.2 1952.6 323.1 1957.5 321.6 C 1962.5 320.1 1967.9 319.3 1973.4 319.6 Z" fill="#d9c3df"/><path d="M 1970.4 362.1 C 1973.9 361.7 1976.8 362.9 1979.3 365 C 1981.8 367.2 1984.2 371.6 1985.2 374.9 C 1986.3 378.2 1986.6 381.3 1985.7 384.8 C 1984.9 388.2 1982.2 393.6 1980.3 395.7 C 1978.4 397.7 1977 397.5 1974.3 397.1 C 1971.7 396.8 1967.4 395.4 1964.4 393.7 C 1961.5 392 1958.2 389.6 1956.5 386.8 C 1954.9 384 1954.2 380.2 1954.5 376.9 C 1954.9 373.6 1955.9 369.5 1958.5 367 C 1961.1 364.5 1966.9 362.4 1970.4 362.1 Z" fill="#d2b6d7"/><rect x="1976.1" y="328.7" width="5.9" height="4" rx="2" transform="rotate(20 1979.1 330.7)" fill="#c4acd5"/><rect x="1964.3" y="337.1" width="5.9" height="4" rx="2" transform="rotate(75 1967.2 339.1)" fill="#c4acd5"/><rect x="1948.1" y="344.3" width="5.9" height="4" rx="2" transform="rotate(90 1951.1 346.3)" fill="#c4acd5"/><rect x="1988.2" y="343.8" width="5.9" height="4" rx="2" transform="rotate(90 1991.2 345.8)" fill="#c4acd5"/><rect x="1932.8" y="352.7" width="5.9" height="4" rx="2" transform="rotate(80 1935.7 354.7)" fill="#c4acd5"/><rect x="1971.1" y="349.4" width="5.9" height="4" rx="2" transform="rotate(-50 1974.1 351.4)" fill="#c4acd5"/><rect x="1947.4" y="362.8" width="5.9" height="4" rx="2" transform="rotate(90 1950.4 364.7)" fill="#c4acd5"/><rect x="1988.2" y="363.4" width="5.9" height="4" rx="2" transform="rotate(0 1991.2 365.3)" fill="#c4acd5"/><rect x="2010.3" y="365.5" width="5.9" height="4" rx="2" transform="rotate(-50 2013.3 367.5)" fill="#c4acd5"/><rect x="1929.3" y="370" width="5.9" height="4" rx="2" transform="rotate(-20 1932.3 372)" fill="#c4acd5"/><rect x="1944.8" y="383.3" width="5.9" height="4" rx="2" transform="rotate(-45 1947.8 385.3)" fill="#c4acd5"/><rect x="1990.2" y="380.8" width="5.9" height="4" rx="2" transform="rotate(-70 1993.2 382.8)" fill="#c4acd5"/><rect x="2011" y="385.3" width="5.9" height="4" rx="2" transform="rotate(90 2014 387.3)" fill="#c4acd5"/><rect x="1925.8" y="387.3" width="5.9" height="4" rx="2" transform="rotate(-70 1928.8 389.2)" fill="#c4acd5"/><rect x="1957.5" y="401.9" width="5.9" height="4" rx="2" transform="rotate(-30 1960.5 403.9)" fill="#c4acd5"/><rect x="1973.2" y="403.1" width="5.9" height="4" rx="2" transform="rotate(-60 1976.1 405)" fill="#c4acd5"/><rect x="1938.9" y="406" width="5.9" height="4" rx="2" transform="rotate(-30 1941.9 408)" fill="#c4acd5"/><rect x="1988.2" y="408" width="5.9" height="4" rx="2" transform="rotate(90 1991.2 410)" fill="#c4acd5"/><rect x="2009.8" y="407.3" width="5.9" height="4" rx="2" transform="rotate(-60 2012.8 409.3)" fill="#c4acd5"/><rect x="1959.3" y="413.9" width="5.9" height="4" rx="2" transform="rotate(15 1962.3 415.9)" fill="#c4acd5"/><rect x="1992.2" y="423.1" width="5.9" height="4" rx="2" transform="rotate(-15 1995.1 425.1)" fill="#c4acd5"/><rect x="1966.4" y="429" width="5.9" height="4" rx="2" transform="rotate(50 1969.4 431)" fill="#c4acd5"/></g>
<g><path d="M 1662.4 363 C 1667.3 363.3 1673.1 364.5 1677.5 366.6 C 1682 368.7 1685.5 371.8 1689.1 375.5 C 1692.7 379.3 1696 384.5 1698.9 388.9 C 1701.9 393.4 1704.9 397.6 1707 402.4 C 1709 407.1 1710.4 412.8 1711.4 417.6 C 1712.5 422.3 1713.3 426.1 1713.2 431 C 1713.1 435.9 1711.9 442.6 1710.5 447.1 C 1709.2 451.6 1708 454.6 1705.2 457.8 C 1702.3 461.1 1698.8 464.3 1693.6 466.8 C 1688.4 469.2 1680.2 472.2 1674 472.6 C 1667.7 473 1661.5 471.2 1656.1 469.5 C 1650.8 467.8 1646.5 465.4 1641.8 462.3 C 1637.2 459.2 1632.2 454.7 1628.5 450.7 C 1624.7 446.7 1622 442.9 1619.5 438.2 C 1617.1 433.4 1614.8 426.8 1613.7 422 C 1612.7 417.3 1612.8 414 1613.3 409.5 C 1613.8 405.1 1615.1 399.7 1616.9 395.2 C 1618.7 390.7 1620.9 386.7 1624 382.7 C 1627.1 378.7 1631.6 374 1635.6 371.1 C 1639.6 368.1 1643.6 366.1 1648.1 364.8 C 1652.5 363.4 1657.5 362.7 1662.4 363 Z" fill="#d9c3df"/><path d="M 1659.7 401.5 C 1662.8 401.2 1665.5 402.2 1667.7 404.2 C 1669.9 406.1 1672.1 410.1 1673.1 413.1 C 1674 416.1 1674.3 418.9 1673.5 422 C 1672.8 425.2 1670.3 430 1668.6 431.9 C 1666.9 433.8 1665.6 433.5 1663.2 433.2 C 1660.9 432.9 1657 431.7 1654.3 430.1 C 1651.7 428.5 1648.7 426.4 1647.2 423.8 C 1645.7 421.3 1645.1 417.9 1645.4 414.9 C 1645.7 411.9 1646.6 408.2 1649 405.9 C 1651.4 403.7 1656.6 401.8 1659.7 401.5 Z" fill="#d2b6d7"/><rect x="1664.9" y="371.2" width="5.4" height="3.6" rx="1.8" transform="rotate(20 1667.5 373)" fill="#c4acd5"/><rect x="1654.2" y="378.8" width="5.4" height="3.6" rx="1.8" transform="rotate(75 1656.8 380.6)" fill="#c4acd5"/><rect x="1639.6" y="385.4" width="5.4" height="3.6" rx="1.8" transform="rotate(90 1642.3 387.2)" fill="#c4acd5"/><rect x="1675.7" y="384.9" width="5.4" height="3.6" rx="1.8" transform="rotate(90 1678.4 386.7)" fill="#c4acd5"/><rect x="1625.8" y="393" width="5.4" height="3.6" rx="1.8" transform="rotate(80 1628.5 394.8)" fill="#c4acd5"/><rect x="1660.3" y="390" width="5.4" height="3.6" rx="1.8" transform="rotate(-50 1663 391.8)" fill="#c4acd5"/><rect x="1639" y="402.1" width="5.4" height="3.6" rx="1.8" transform="rotate(90 1641.7 403.9)" fill="#c4acd5"/><rect x="1675.7" y="402.6" width="5.4" height="3.6" rx="1.8" transform="rotate(0 1678.4 404.4)" fill="#c4acd5"/><rect x="1695.6" y="404.6" width="5.4" height="3.6" rx="1.8" transform="rotate(-50 1698.3 406.4)" fill="#c4acd5"/><rect x="1622.7" y="408.6" width="5.4" height="3.6" rx="1.8" transform="rotate(-20 1625.3 410.4)" fill="#c4acd5"/><rect x="1636.7" y="420.7" width="5.4" height="3.6" rx="1.8" transform="rotate(-45 1639.3 422.5)" fill="#c4acd5"/><rect x="1677.5" y="418.5" width="5.4" height="3.6" rx="1.8" transform="rotate(-70 1680.2 420.3)" fill="#c4acd5"/><rect x="1696.3" y="422.5" width="5.4" height="3.6" rx="1.8" transform="rotate(90 1698.9 424.3)" fill="#c4acd5"/><rect x="1619.5" y="424.3" width="5.4" height="3.6" rx="1.8" transform="rotate(-70 1622.2 426.1)" fill="#c4acd5"/><rect x="1648.1" y="437.5" width="5.4" height="3.6" rx="1.8" transform="rotate(-30 1650.8 439.3)" fill="#c4acd5"/><rect x="1662.2" y="438.6" width="5.4" height="3.6" rx="1.8" transform="rotate(-60 1664.9 440.4)" fill="#c4acd5"/><rect x="1631.3" y="441.3" width="5.4" height="3.6" rx="1.8" transform="rotate(-30 1634 443.1)" fill="#c4acd5"/><rect x="1675.7" y="443.1" width="5.4" height="3.6" rx="1.8" transform="rotate(90 1678.4 444.9)" fill="#c4acd5"/><rect x="1695.2" y="442.5" width="5.4" height="3.6" rx="1.8" transform="rotate(-60 1697.9 444.2)" fill="#c4acd5"/><rect x="1649.7" y="448.4" width="5.4" height="3.6" rx="1.8" transform="rotate(15 1652.4 450.2)" fill="#c4acd5"/><rect x="1679.3" y="456.8" width="5.4" height="3.6" rx="1.8" transform="rotate(-15 1682 458.6)" fill="#c4acd5"/><rect x="1656.1" y="462.1" width="5.4" height="3.6" rx="1.8" transform="rotate(50 1658.8 463.9)" fill="#c4acd5"/></g>
<g><path d="M 1520.1 416 C 1524.3 416.3 1529.3 417.3 1533.1 419.1 C 1537 420.9 1540 423.6 1543.1 426.8 C 1546.2 430 1549 434.5 1551.5 438.4 C 1554.1 442.3 1556.6 445.9 1558.4 450 C 1560.2 454.1 1561.4 459 1562.3 463.1 C 1563.2 467.2 1563.9 470.4 1563.8 474.7 C 1563.7 478.9 1562.6 484.7 1561.5 488.6 C 1560.3 492.5 1559.3 495 1556.9 497.9 C 1554.5 500.7 1551.4 503.5 1546.9 505.6 C 1542.5 507.7 1535.4 510.2 1530.1 510.6 C 1524.7 511 1519.3 509.4 1514.7 507.9 C 1510.1 506.4 1506.4 504.4 1502.4 501.7 C 1498.5 499 1494.1 495.2 1490.9 491.7 C 1487.7 488.2 1485.4 485 1483.3 480.9 C 1481.2 476.7 1479.2 471.1 1478.3 467 C 1477.4 462.8 1477.5 460 1477.9 456.2 C 1478.3 452.3 1479.4 447.7 1481 443.8 C 1482.5 439.9 1484.4 436.5 1487.1 433 C 1489.8 429.5 1493.6 425.5 1497.1 423 C 1500.5 420.4 1504 418.7 1507.8 417.5 C 1511.6 416.4 1515.9 415.7 1520.1 416 Z" fill="#d9c3df"/><path d="M 1517.8 449.2 C 1520.5 448.9 1522.8 449.9 1524.7 451.5 C 1526.6 453.2 1528.5 456.7 1529.3 459.2 C 1530.1 461.8 1530.3 464.3 1529.7 467 C 1529 469.7 1526.9 473.9 1525.5 475.5 C 1524 477.1 1522.9 476.9 1520.8 476.6 C 1518.8 476.4 1515.5 475.3 1513.2 473.9 C 1510.9 472.6 1508.3 470.7 1507 468.5 C 1505.8 466.3 1505.3 463.4 1505.5 460.8 C 1505.8 458.2 1506.5 455 1508.6 453.1 C 1510.6 451.1 1515.1 449.5 1517.8 449.2 Z" fill="#d2b6d7"/><rect x="1522.2" y="423.1" width="4.6" height="3.1" rx="1.5" transform="rotate(20 1524.5 424.6)" fill="#c4acd5"/><rect x="1513" y="429.7" width="4.6" height="3.1" rx="1.5" transform="rotate(75 1515.3 431.2)" fill="#c4acd5"/><rect x="1500.5" y="435.3" width="4.6" height="3.1" rx="1.5" transform="rotate(90 1502.8 436.9)" fill="#c4acd5"/><rect x="1531.6" y="434.9" width="4.6" height="3.1" rx="1.5" transform="rotate(90 1533.9 436.5)" fill="#c4acd5"/><rect x="1488.6" y="441.9" width="4.6" height="3.1" rx="1.5" transform="rotate(80 1490.9 443.4)" fill="#c4acd5"/><rect x="1518.3" y="439.3" width="4.6" height="3.1" rx="1.5" transform="rotate(-50 1520.6 440.9)" fill="#c4acd5"/><rect x="1500" y="449.8" width="4.6" height="3.1" rx="1.5" transform="rotate(90 1502.3 451.3)" fill="#c4acd5"/><rect x="1531.6" y="450.2" width="4.6" height="3.1" rx="1.5" transform="rotate(0 1533.9 451.8)" fill="#c4acd5"/><rect x="1548.7" y="451.9" width="4.6" height="3.1" rx="1.5" transform="rotate(-50 1551 453.5)" fill="#c4acd5"/><rect x="1486" y="455.4" width="4.6" height="3.1" rx="1.5" transform="rotate(-20 1488.3 456.9)" fill="#c4acd5"/><rect x="1498" y="465.8" width="4.6" height="3.1" rx="1.5" transform="rotate(-45 1500.3 467.4)" fill="#c4acd5"/><rect x="1533.1" y="463.9" width="4.6" height="3.1" rx="1.5" transform="rotate(-70 1535.4 465.4)" fill="#c4acd5"/><rect x="1549.2" y="467.4" width="4.6" height="3.1" rx="1.5" transform="rotate(90 1551.5 468.9)" fill="#c4acd5"/><rect x="1483.3" y="468.9" width="4.6" height="3.1" rx="1.5" transform="rotate(-70 1485.6 470.4)" fill="#c4acd5"/><rect x="1507.8" y="480.3" width="4.6" height="3.1" rx="1.5" transform="rotate(-30 1510.1 481.9)" fill="#c4acd5"/><rect x="1519.9" y="481.3" width="4.6" height="3.1" rx="1.5" transform="rotate(-60 1522.2 482.8)" fill="#c4acd5"/><rect x="1493.4" y="483.6" width="4.6" height="3.1" rx="1.5" transform="rotate(-30 1495.7 485.1)" fill="#c4acd5"/><rect x="1531.6" y="485.1" width="4.6" height="3.1" rx="1.5" transform="rotate(90 1533.9 486.7)" fill="#c4acd5"/><rect x="1548.3" y="484.6" width="4.6" height="3.1" rx="1.5" transform="rotate(-60 1550.6 486.1)" fill="#c4acd5"/><rect x="1509.2" y="489.8" width="4.6" height="3.1" rx="1.5" transform="rotate(15 1511.5 491.3)" fill="#c4acd5"/><rect x="1534.7" y="496.9" width="4.6" height="3.1" rx="1.5" transform="rotate(-15 1537 498.5)" fill="#c4acd5"/><rect x="1514.7" y="501.6" width="4.6" height="3.1" rx="1.5" transform="rotate(50 1517 503.1)" fill="#c4acd5"/></g>
<g><path d="M 1882.5 437.2 C 1889.1 437.4 1898.3 438.6 1906.2 440.4 C 1914.2 442.1 1922.5 444.6 1930 447.6 C 1937.5 450.7 1944.7 454.6 1951.1 458.9 C 1957.5 463.2 1963.2 468.1 1968.3 473.4 C 1973.3 478.7 1978 484.4 1981.4 490.6 C 1984.9 496.8 1987.7 503.8 1988.7 510.4 C 1989.7 517.1 1989 523.4 1987.4 530.3 C 1985.7 537.1 1982.7 545 1978.8 551.4 C 1975 557.8 1970.2 563.8 1964.3 568.6 C 1958.4 573.5 1952 577.6 1943.2 580.5 C 1934.4 583.4 1921.2 585.5 1911.5 585.8 C 1901.8 586.1 1893.5 584.9 1885.1 582.5 C 1876.8 580.1 1868.6 576 1861.4 571.3 C 1854.1 566.5 1846.9 560.7 1841.6 554.1 C 1836.3 547.5 1832.4 539.3 1829.7 531.6 C 1827 523.9 1825.7 516.2 1825.5 507.8 C 1825.3 499.4 1826.6 489.3 1828.4 481.4 C 1830.2 473.4 1832.6 466.2 1836.3 460.2 C 1840.1 454.3 1845.8 449.2 1850.8 445.7 C 1855.9 442.1 1861.4 440.5 1866.7 439.1 C 1871.9 437.6 1875.9 437 1882.5 437.2 Z" fill="#d9c3df"/><path d="M 1891.7 492.6 C 1896.3 491.7 1902.1 494 1906.2 495.9 C 1910.4 497.8 1914.1 500.5 1916.8 503.8 C 1919.5 507.1 1922.3 512 1922.7 515.7 C 1923.2 519.5 1921.7 523.2 1919.4 526.3 C 1917.1 529.4 1912.6 532.6 1908.9 534.2 C 1905.1 535.9 1901 536.7 1897 536.2 C 1893.1 535.8 1888.4 533.7 1885.1 531.6 C 1881.8 529.5 1878.9 526.7 1877.2 523.7 C 1875.6 520.6 1875 516.8 1875.2 513.1 C 1875.5 509.3 1875.8 504.6 1878.5 501.2 C 1881.3 497.8 1887.1 493.5 1891.7 492.6 Z" fill="#d2b6d7"/><rect x="1856.2" y="454.3" width="8.2" height="5.3" rx="2.6" transform="rotate(-60 1860.3 456.9)" fill="#c4acd5"/><rect x="1883" y="458.2" width="8.2" height="5.3" rx="2.6" transform="rotate(35 1887.1 460.9)" fill="#c4acd5"/><rect x="1924.6" y="459.5" width="8.2" height="5.3" rx="2.6" transform="rotate(90 1928.7 462.2)" fill="#c4acd5"/><rect x="1852.3" y="474.1" width="8.2" height="5.3" rx="2.6" transform="rotate(30 1856.4 476.7)" fill="#c4acd5"/><rect x="1871.1" y="479.8" width="8.2" height="5.3" rx="2.6" transform="rotate(90 1875.2 482.4)" fill="#c4acd5"/><rect x="1901.1" y="477.4" width="8.2" height="5.3" rx="2.6" transform="rotate(-50 1905.2 480)" fill="#c4acd5"/><rect x="1943.7" y="478.7" width="8.2" height="5.3" rx="2.6" transform="rotate(30 1947.8 481.4)" fill="#c4acd5"/><rect x="1843" y="495.9" width="8.2" height="5.3" rx="2.6" transform="rotate(45 1847.1 498.5)" fill="#c4acd5"/><rect x="1919.3" y="493.5" width="8.2" height="5.3" rx="2.6" transform="rotate(70 1923.4 496.2)" fill="#c4acd5"/><rect x="1962.8" y="501.5" width="8.2" height="5.3" rx="2.6" transform="rotate(90 1966.9 504.1)" fill="#c4acd5"/><rect x="1835.9" y="518.6" width="8.2" height="5.3" rx="2.6" transform="rotate(45 1840 521.3)" fill="#c4acd5"/><rect x="1859.7" y="515.2" width="8.2" height="5.3" rx="2.6" transform="rotate(45 1863.8 517.8)" fill="#c4acd5"/><rect x="1942.4" y="522.3" width="8.2" height="5.3" rx="2.6" transform="rotate(35 1946.5 525)" fill="#c4acd5"/><rect x="1923" y="531.2" width="8.2" height="5.3" rx="2.6" transform="rotate(90 1927.1 533.8)" fill="#c4acd5"/><rect x="1960.2" y="534" width="8.2" height="5.3" rx="2.6" transform="rotate(-60 1964.3 536.6)" fill="#c4acd5"/><rect x="1848.3" y="538.6" width="8.2" height="5.3" rx="2.6" transform="rotate(-70 1852.4 541.2)" fill="#c4acd5"/><rect x="1876.3" y="537.9" width="8.2" height="5.3" rx="2.6" transform="rotate(90 1880.4 540.6)" fill="#c4acd5"/><rect x="1906.4" y="544.4" width="8.2" height="5.3" rx="2.6" transform="rotate(-60 1910.5 547.1)" fill="#c4acd5"/><rect x="1919" y="555.1" width="8.2" height="5.3" rx="2.6" transform="rotate(-50 1923.1 557.8)" fill="#c4acd5"/><rect x="1861" y="559.1" width="8.2" height="5.3" rx="2.6" transform="rotate(65 1865.1 561.7)" fill="#c4acd5"/><rect x="1891.6" y="566" width="8.2" height="5.3" rx="2.6" transform="rotate(70 1895.7 568.6)" fill="#c4acd5"/><rect x="1940.2" y="563.3" width="8.2" height="5.3" rx="2.6" transform="rotate(0 1944.2 566)" fill="#c4acd5"/></g>
<g><path d="M 1692.4 513.4 C 1700 513.7 1710.7 515.1 1719.9 517.1 C 1729 519.1 1738.7 521.9 1747.4 525.5 C 1756 529 1764.4 533.5 1771.8 538.5 C 1779.2 543.4 1785.8 549.1 1791.7 555.3 C 1797.5 561.4 1803 568 1806.9 575.1 C 1810.9 582.2 1814.2 590.4 1815.3 598 C 1816.5 605.7 1815.7 613 1813.8 620.9 C 1811.9 628.8 1808.3 638 1803.9 645.4 C 1799.4 652.8 1794 659.6 1787.1 665.2 C 1780.2 670.8 1772.8 675.7 1762.6 679 C 1752.5 682.3 1737.2 684.7 1726 685.1 C 1714.8 685.5 1705.1 684.1 1695.4 681.3 C 1685.8 678.5 1676.3 673.8 1667.9 668.3 C 1659.5 662.8 1651.1 656.1 1645 648.4 C 1638.9 640.8 1634.4 631.4 1631.3 622.5 C 1628.2 613.6 1626.7 604.6 1626.4 595 C 1626.1 585.3 1627.7 573.6 1629.8 564.4 C 1631.8 555.3 1634.6 546.9 1638.9 540 C 1643.3 533.1 1649.9 527.3 1655.7 523.2 C 1661.6 519.1 1667.9 517.2 1674.1 515.5 C 1680.2 513.9 1684.7 513.1 1692.4 513.4 Z" fill="#cbbfeb"/><path d="M 1702.3 574.2 C 1708.2 573.1 1715.5 576.1 1720.9 578.5 C 1726.3 580.9 1730.9 584.5 1734.5 588.7 C 1738 593 1741.5 599.3 1742.1 604.1 C 1742.6 609 1740.8 613.8 1737.8 617.8 C 1734.9 621.8 1729.1 625.9 1724.3 628.1 C 1719.5 630.2 1714.1 631.2 1709 630.6 C 1704 630 1698 627.3 1693.8 624.6 C 1689.6 621.9 1685.8 618.4 1683.6 614.4 C 1681.5 610.4 1680.8 605.5 1681.1 600.7 C 1681.4 595.9 1681.8 589.7 1685.3 585.3 C 1688.9 580.9 1696.3 575.3 1702.3 574.2 Z" fill="#bcaee0"/><path d="M 1703.1 577.4 C 1708.4 576.4 1715 579.1 1719.9 581.2 C 1724.7 583.4 1728.9 586.6 1732.1 590.4 C 1735.3 594.2 1738.5 599.8 1739 604.1 C 1739.5 608.5 1737.8 612.8 1735.2 616.4 C 1732.5 619.9 1727.3 623.6 1722.9 625.5 C 1718.6 627.4 1713.8 628.3 1709.2 627.8 C 1704.6 627.3 1699.3 624.9 1695.4 622.5 C 1691.6 620.1 1688.2 616.9 1686.3 613.3 C 1684.4 609.7 1683.7 605.4 1684 601.1 C 1684.2 596.8 1684.6 591.3 1687.8 587.3 C 1691 583.4 1697.7 578.4 1703.1 577.4 Z" fill="#ab9bcf"/><rect x="1662" y="533.1" width="9.5" height="6.1" rx="3.1" transform="rotate(-60 1666.7 536.2)" fill="#b4a2de"/><rect x="1693" y="537.7" width="9.5" height="6.1" rx="3.1" transform="rotate(35 1697.7 540.7)" fill="#b4a2de"/><rect x="1741.1" y="539.2" width="9.5" height="6.1" rx="3.1" transform="rotate(90 1745.8 542.3)" fill="#b4a2de"/><rect x="1657.4" y="556" width="9.5" height="6.1" rx="3.1" transform="rotate(30 1662.1 559.1)" fill="#b4a2de"/><rect x="1679.2" y="562.6" width="9.5" height="6.1" rx="3.1" transform="rotate(90 1684 565.6)" fill="#b4a2de"/><rect x="1713.9" y="559.8" width="9.5" height="6.1" rx="3.1" transform="rotate(-50 1718.7 562.9)" fill="#b4a2de"/><rect x="1763.3" y="561.4" width="9.5" height="6.1" rx="3.1" transform="rotate(30 1768 564.4)" fill="#b4a2de"/><rect x="1646.7" y="581.2" width="9.5" height="6.1" rx="3.1" transform="rotate(45 1651.4 584.3)" fill="#b4a2de"/><rect x="1735" y="578.5" width="9.5" height="6.1" rx="3.1" transform="rotate(70 1739.7 581.5)" fill="#b4a2de"/><rect x="1785.4" y="587.6" width="9.5" height="6.1" rx="3.1" transform="rotate(90 1790.1 590.7)" fill="#b4a2de"/><rect x="1638.5" y="607.5" width="9.5" height="6.1" rx="3.1" transform="rotate(45 1643.2 610.6)" fill="#b4a2de"/><rect x="1666" y="603.5" width="9.5" height="6.1" rx="3.1" transform="rotate(45 1670.7 606.6)" fill="#b4a2de"/><rect x="1761.7" y="611.8" width="9.5" height="6.1" rx="3.1" transform="rotate(35 1766.5 614.8)" fill="#b4a2de"/><rect x="1739.3" y="622" width="9.5" height="6.1" rx="3.1" transform="rotate(90 1744 625.1)" fill="#b4a2de"/><rect x="1782.3" y="625.2" width="9.5" height="6.1" rx="3.1" transform="rotate(-60 1787.1 628.3)" fill="#b4a2de"/><rect x="1652.8" y="630.6" width="9.5" height="6.1" rx="3.1" transform="rotate(-70 1657.6 633.6)" fill="#b4a2de"/><rect x="1685.2" y="629.8" width="9.5" height="6.1" rx="3.1" transform="rotate(90 1689.9 632.9)" fill="#b4a2de"/><rect x="1720" y="637.3" width="9.5" height="6.1" rx="3.1" transform="rotate(-60 1724.8 640.3)" fill="#b4a2de"/><rect x="1734.7" y="649.7" width="9.5" height="6.1" rx="3.1" transform="rotate(-50 1739.4 652.7)" fill="#b4a2de"/><rect x="1667.5" y="654.2" width="9.5" height="6.1" rx="3.1" transform="rotate(65 1672.2 657.3)" fill="#b4a2de"/><rect x="1702.9" y="662.2" width="9.5" height="6.1" rx="3.1" transform="rotate(70 1707.7 665.2)" fill="#b4a2de"/><rect x="1759.1" y="659.1" width="9.5" height="6.1" rx="3.1" transform="rotate(0 1763.9 662.2)" fill="#b4a2de"/></g>
<g><path d="M 2466.2 102.9 C 2472.7 103.1 2481.8 104.2 2489.6 105.9 C 2497.4 107.5 2505.6 109.8 2512.9 112.6 C 2520.3 115.5 2527.4 119.1 2533.7 123.1 C 2540 127.1 2545.6 131.7 2550.6 136.7 C 2555.6 141.6 2560.2 146.9 2563.6 152.7 C 2566.9 158.4 2569.7 165 2570.7 171.2 C 2571.7 177.3 2571 183.3 2569.4 189.6 C 2567.8 196 2564.8 203.4 2561 209.4 C 2557.2 215.3 2552.5 220.9 2546.7 225.4 C 2540.8 229.9 2534.6 233.8 2525.9 236.5 C 2517.3 239.1 2504.3 241.1 2494.8 241.4 C 2485.2 241.7 2477 240.6 2468.8 238.3 C 2460.6 236.1 2452.6 232.3 2445.4 227.8 C 2438.3 223.4 2431.1 218 2425.9 211.8 C 2420.7 205.7 2416.9 198.1 2414.3 190.9 C 2411.6 183.7 2410.3 176.5 2410.1 168.7 C 2409.9 160.9 2411.2 151.4 2413 144.1 C 2414.7 136.7 2417.1 129.9 2420.7 124.3 C 2424.4 118.8 2430.1 114.1 2435 110.8 C 2440 107.5 2445.4 105.9 2450.6 104.6 C 2455.8 103.3 2459.7 102.7 2466.2 102.9 Z" fill="#9c86dc" fill-opacity="0.5"/><path d="M 2517.1 167.3 C 2517.1 170.1 2517 172.9 2516.1 175.6 C 2515.2 178.3 2513.8 181.3 2511.7 183.5 C 2509.5 185.6 2506.3 187.6 2503.3 188.5 C 2500.2 189.4 2496.5 189.5 2493.3 189.1 C 2490.1 188.8 2487.1 187.8 2484.2 186.6 C 2481.3 185.5 2478.6 184.2 2476.2 182.4 C 2473.7 180.6 2471.1 178.4 2469.6 175.9 C 2468.1 173.4 2467 170.2 2467.1 167.3 C 2467.1 164.4 2468.4 161.3 2469.9 158.8 C 2471.5 156.3 2474 154.2 2476.3 152.4 C 2478.7 150.5 2481.3 149.1 2484.1 147.8 C 2487 146.6 2490.1 145.5 2493.3 145.1 C 2496.5 144.8 2500.3 145 2503.3 146 C 2506.4 147 2509.4 149.1 2511.5 151.3 C 2513.6 153.5 2514.9 156.4 2515.8 159.1 C 2516.7 161.8 2517 164.5 2517.1 167.3 Z" fill="#bcaee0"/><path d="M 2514.2 167.3 C 2514.3 169.7 2514.2 172.2 2513.4 174.5 C 2512.6 176.8 2511.4 179.4 2509.5 181.3 C 2507.6 183.1 2504.8 184.8 2502.1 185.6 C 2499.4 186.4 2496.1 186.4 2493.3 186.2 C 2490.5 185.9 2487.8 185 2485.3 184 C 2482.8 183 2480.3 181.9 2478.2 180.3 C 2476.1 178.8 2473.8 176.9 2472.5 174.8 C 2471.1 172.6 2470.2 169.8 2470.2 167.3 C 2470.3 164.8 2471.4 162.1 2472.7 159.9 C 2474.1 157.8 2476.3 156 2478.4 154.4 C 2480.5 152.8 2482.8 151.5 2485.2 150.5 C 2487.7 149.5 2490.5 148.4 2493.3 148.2 C 2496.1 147.9 2499.5 148 2502.1 148.9 C 2504.8 149.8 2507.5 151.6 2509.3 153.5 C 2511.2 155.3 2512.3 157.9 2513.1 160.2 C 2513.9 162.5 2514.2 164.9 2514.2 167.3 Z" fill="#ab9bcf"/><rect x="2440.8" y="118.9" width="7.2" height="4.7" rx="2.3" transform="rotate(-60 2444.4 121.3)" fill="#b4a2de"/><rect x="2467.1" y="122.6" width="7.2" height="4.7" rx="2.3" transform="rotate(35 2470.7 125)" fill="#b4a2de"/><rect x="2508" y="123.9" width="7.2" height="4.7" rx="2.3" transform="rotate(90 2511.6 126.2)" fill="#b4a2de"/><rect x="2436.9" y="137.4" width="7.2" height="4.7" rx="2.3" transform="rotate(30 2440.5 139.7)" fill="#b4a2de"/><rect x="2455.4" y="142.7" width="7.2" height="4.7" rx="2.3" transform="rotate(90 2459 145)" fill="#b4a2de"/><rect x="2484.9" y="140.5" width="7.2" height="4.7" rx="2.3" transform="rotate(-50 2488.5 142.8)" fill="#b4a2de"/><rect x="2526.8" y="141.7" width="7.2" height="4.7" rx="2.3" transform="rotate(30 2530.5 144.1)" fill="#b4a2de"/><rect x="2427.8" y="157.7" width="7.2" height="4.7" rx="2.3" transform="rotate(45 2431.4 160.1)" fill="#b4a2de"/><rect x="2545.7" y="162.9" width="7.2" height="4.7" rx="2.3" transform="rotate(90 2549.3 165.2)" fill="#b4a2de"/><rect x="2420.8" y="178.9" width="7.2" height="4.7" rx="2.3" transform="rotate(45 2424.4 181.3)" fill="#b4a2de"/><rect x="2444.1" y="175.7" width="7.2" height="4.7" rx="2.3" transform="rotate(45 2447.8 178.1)" fill="#b4a2de"/><rect x="2525.5" y="182.4" width="7.2" height="4.7" rx="2.3" transform="rotate(35 2529.2 184.7)" fill="#b4a2de"/><rect x="2506.5" y="190.6" width="7.2" height="4.7" rx="2.3" transform="rotate(90 2510.1 193)" fill="#b4a2de"/><rect x="2543.1" y="193.2" width="7.2" height="4.7" rx="2.3" transform="rotate(-60 2546.7 195.6)" fill="#b4a2de"/><rect x="2433" y="197.5" width="7.2" height="4.7" rx="2.3" transform="rotate(-70 2436.6 199.9)" fill="#b4a2de"/><rect x="2460.5" y="196.9" width="7.2" height="4.7" rx="2.3" transform="rotate(90 2464.1 199.3)" fill="#b4a2de"/><rect x="2490.1" y="203" width="7.2" height="4.7" rx="2.3" transform="rotate(-60 2493.7 205.3)" fill="#b4a2de"/><rect x="2502.6" y="212.9" width="7.2" height="4.7" rx="2.3" transform="rotate(-50 2506.2 215.3)" fill="#b4a2de"/><rect x="2445.4" y="216.6" width="7.2" height="4.7" rx="2.3" transform="rotate(65 2449.1 219)" fill="#b4a2de"/><rect x="2475.6" y="223" width="7.2" height="4.7" rx="2.3" transform="rotate(70 2479.2 225.4)" fill="#b4a2de"/><rect x="2523.3" y="220.6" width="7.2" height="4.7" rx="2.3" transform="rotate(0 2527 222.9)" fill="#b4a2de"/></g>
<g><path d="M 2303.8 164.6 C 2311.1 164.9 2321.3 166.3 2330.1 168.3 C 2338.9 170.3 2348.1 173.2 2356.4 176.8 C 2364.7 180.4 2372.7 184.9 2379.8 189.9 C 2386.9 194.9 2393.2 200.7 2398.8 206.8 C 2404.4 213 2409.6 219.7 2413.4 226.9 C 2417.2 234.1 2420.4 242.3 2421.5 250 C 2422.6 257.7 2421.8 265.2 2420 273.1 C 2418.2 281.1 2414.8 290.4 2410.5 297.8 C 2406.2 305.3 2401 312.2 2394.4 317.9 C 2387.8 323.5 2380.8 328.4 2371 331.7 C 2361.3 335.1 2346.7 337.5 2335.9 337.9 C 2325.2 338.3 2315.9 336.9 2306.7 334 C 2297.4 331.2 2288.4 326.5 2280.4 320.9 C 2272.3 315.4 2264.3 308.6 2258.4 300.9 C 2252.6 293.2 2248.3 283.7 2245.3 274.7 C 2242.3 265.7 2240.8 256.7 2240.6 246.9 C 2240.4 237.2 2241.8 225.3 2243.8 216.1 C 2245.8 206.8 2248.4 198.4 2252.6 191.4 C 2256.7 184.5 2263.1 178.6 2268.7 174.5 C 2274.3 170.4 2280.4 168.4 2286.2 166.8 C 2292.1 165.1 2296.5 164.3 2303.8 164.6 Z" fill="#9c86dc" fill-opacity="0.5"/><path d="M 2346.6 253.2 C 2346.7 256.6 2346.6 260.1 2345.5 263.4 C 2344.5 266.7 2343 270.4 2340.6 273.1 C 2338.2 275.7 2334.6 278.1 2331.2 279.2 C 2327.7 280.4 2323.6 280.4 2320 280 C 2316.4 279.6 2313 278.3 2309.8 276.9 C 2306.6 275.6 2303.5 273.9 2300.8 271.7 C 2298.1 269.5 2295.2 266.9 2293.5 263.8 C 2291.8 260.7 2290.6 256.7 2290.6 253.2 C 2290.7 249.7 2292.1 245.8 2293.8 242.7 C 2295.5 239.7 2298.3 237.1 2301 234.9 C 2303.6 232.6 2306.6 230.8 2309.7 229.3 C 2312.9 227.9 2316.4 226.4 2320 226 C 2323.6 225.6 2327.8 225.8 2331.2 227 C 2334.6 228.3 2338.1 230.9 2340.4 233.5 C 2342.7 236.2 2344.2 239.9 2345.2 243.1 C 2346.2 246.4 2346.6 249.8 2346.6 253.2 Z" fill="#bcaee0"/><path d="M 2343.8 253.2 C 2343.8 256.2 2343.7 259.3 2342.8 262.3 C 2341.9 265.2 2340.5 268.5 2338.4 270.8 C 2336.2 273.2 2333 275.3 2330 276.3 C 2326.9 277.4 2323.2 277.4 2320 277 C 2316.8 276.7 2313.8 275.5 2310.9 274.3 C 2308 273.1 2305.3 271.6 2302.9 269.7 C 2300.4 267.7 2297.8 265.4 2296.3 262.6 C 2294.8 259.9 2293.7 256.3 2293.8 253.2 C 2293.8 250.1 2295.1 246.6 2296.6 243.9 C 2298.2 241.2 2300.7 238.9 2303 236.9 C 2305.4 234.9 2308 233.3 2310.8 232 C 2313.7 230.7 2316.8 229.4 2320 229 C 2323.2 228.7 2327 228.8 2330 230 C 2333.1 231.1 2336.1 233.3 2338.2 235.7 C 2340.3 238.1 2341.6 241.3 2342.5 244.2 C 2343.4 247.2 2343.7 250.2 2343.8 253.2 Z" fill="#ab9bcf"/><rect x="2275.1" y="184.9" width="8.2" height="5.3" rx="2.6" transform="rotate(-60 2279.2 187.6)" fill="#b4a2de"/><rect x="2304.8" y="189.6" width="8.2" height="5.3" rx="2.6" transform="rotate(35 2308.9 192.2)" fill="#b4a2de"/><rect x="2350.9" y="191.1" width="8.2" height="5.3" rx="2.6" transform="rotate(90 2354.9 193.7)" fill="#b4a2de"/><rect x="2270.7" y="208.1" width="8.2" height="5.3" rx="2.6" transform="rotate(30 2274.8 210.7)" fill="#b4a2de"/><rect x="2291.6" y="214.7" width="8.2" height="5.3" rx="2.6" transform="rotate(90 2295.7 217.3)" fill="#b4a2de"/><rect x="2324.8" y="211.9" width="8.2" height="5.3" rx="2.6" transform="rotate(-50 2328.9 214.6)" fill="#b4a2de"/><rect x="2372.1" y="213.5" width="8.2" height="5.3" rx="2.6" transform="rotate(30 2376.1 216.1)" fill="#b4a2de"/><rect x="2260.5" y="233.5" width="8.2" height="5.3" rx="2.6" transform="rotate(45 2264.6 236.1)" fill="#b4a2de"/><rect x="2345" y="230.7" width="8.2" height="5.3" rx="2.6" transform="rotate(70 2349.1 233.4)" fill="#b4a2de"/><rect x="2393.3" y="240" width="8.2" height="5.3" rx="2.6" transform="rotate(90 2397.3 242.6)" fill="#b4a2de"/><rect x="2252.6" y="260" width="8.2" height="5.3" rx="2.6" transform="rotate(45 2256.7 262.7)" fill="#b4a2de"/><rect x="2278.9" y="256" width="8.2" height="5.3" rx="2.6" transform="rotate(45 2283 258.7)" fill="#b4a2de"/><rect x="2370.6" y="264.3" width="8.2" height="5.3" rx="2.6" transform="rotate(35 2374.7 267)" fill="#b4a2de"/><rect x="2349.1" y="274.7" width="8.2" height="5.3" rx="2.6" transform="rotate(90 2353.2 277.3)" fill="#b4a2de"/><rect x="2390.3" y="277.9" width="8.2" height="5.3" rx="2.6" transform="rotate(-60 2394.4 280.5)" fill="#b4a2de"/><rect x="2266.3" y="283.3" width="8.2" height="5.3" rx="2.6" transform="rotate(-70 2270.4 285.9)" fill="#b4a2de"/><rect x="2297.3" y="282.5" width="8.2" height="5.3" rx="2.6" transform="rotate(90 2301.4 285.2)" fill="#b4a2de"/><rect x="2330.7" y="290.1" width="8.2" height="5.3" rx="2.6" transform="rotate(-60 2334.8 292.7)" fill="#b4a2de"/><rect x="2344.7" y="302.6" width="8.2" height="5.3" rx="2.6" transform="rotate(-50 2348.8 305.2)" fill="#b4a2de"/><rect x="2280.4" y="307.2" width="8.2" height="5.3" rx="2.6" transform="rotate(65 2284.5 309.8)" fill="#b4a2de"/><rect x="2314.3" y="315.2" width="8.2" height="5.3" rx="2.6" transform="rotate(70 2318.4 317.9)" fill="#b4a2de"/><rect x="2368.1" y="312.1" width="8.2" height="5.3" rx="2.6" transform="rotate(0 2372.2 314.8)" fill="#b4a2de"/></g>
<g><path d="M 2475 219.9 C 2482.2 220.3 2490.7 222 2497.3 224.9 C 2503.8 227.9 2509.1 232.3 2514.3 237.5 C 2519.5 242.7 2524.3 250.1 2528.7 256.4 C 2533 262.6 2537.4 268.5 2540.4 275.2 C 2543.5 281.9 2545.5 289.9 2547 296.6 C 2548.5 303.3 2549.8 308.5 2549.6 315.4 C 2549.4 322.4 2547.6 331.8 2545.7 338.1 C 2543.7 344.4 2542 348.5 2537.8 353.2 C 2533.7 357.8 2528.5 362.3 2520.8 365.7 C 2513.2 369.2 2501.2 373.3 2492 373.9 C 2482.9 374.5 2473.7 371.9 2465.9 369.5 C 2458 367.1 2451.7 363.8 2445 359.4 C 2438.2 355 2430.8 348.8 2425.3 343.1 C 2419.9 337.4 2415.9 332.2 2412.3 325.5 C 2408.7 318.8 2405.3 309.6 2403.8 302.9 C 2402.2 296.2 2402.3 291.6 2403.1 285.3 C 2403.9 279 2405.7 271.4 2408.3 265.2 C 2410.9 258.9 2414.2 253.2 2418.8 247.6 C 2423.4 241.9 2429.9 235.4 2435.8 231.2 C 2441.7 227 2447.6 224.3 2454.1 222.4 C 2460.7 220.5 2467.8 219.5 2475 219.9 Z" fill="#9c86dc" fill-opacity="0.5"/><path d="M 2500.2 305.2 C 2500.2 308.3 2500.1 311.6 2499.3 314.6 C 2498.5 317.7 2497.2 321.1 2495.2 323.6 C 2493.2 326 2490.3 328.2 2487.5 329.3 C 2484.7 330.4 2481.2 330.4 2478.3 330 C 2475.4 329.7 2472.6 328.5 2469.9 327.2 C 2467.3 325.9 2464.8 324.4 2462.5 322.3 C 2460.3 320.3 2457.9 317.9 2456.5 315 C 2455.1 312.2 2454.1 308.4 2454.2 305.2 C 2454.2 302 2455.4 298.3 2456.8 295.5 C 2458.2 292.7 2460.5 290.3 2462.7 288.2 C 2464.9 286.2 2467.3 284.5 2469.9 283.1 C 2472.5 281.7 2475.4 280.4 2478.3 280 C 2481.2 279.7 2484.7 279.8 2487.5 281 C 2490.3 282.1 2493.1 284.5 2495.1 287 C 2497 289.5 2498.2 292.8 2499 295.9 C 2499.9 298.9 2500.1 302.1 2500.2 305.2 Z" fill="#bcaee0"/><path d="M 2497.3 305.2 C 2497.4 308 2497.3 310.8 2496.5 313.5 C 2495.8 316.2 2494.7 319.2 2493 321.4 C 2491.3 323.5 2488.7 325.5 2486.3 326.4 C 2483.8 327.3 2480.8 327.4 2478.3 327 C 2475.8 326.7 2473.3 325.7 2471 324.5 C 2468.7 323.4 2466.5 322.1 2464.6 320.3 C 2462.6 318.5 2460.6 316.3 2459.4 313.8 C 2458.1 311.3 2457.3 308.1 2457.3 305.2 C 2457.4 302.3 2458.4 299.2 2459.6 296.7 C 2460.8 294.2 2462.8 292.1 2464.7 290.3 C 2466.6 288.4 2468.7 287 2471 285.7 C 2473.2 284.5 2475.7 283.4 2478.3 283 C 2480.9 282.7 2483.9 282.9 2486.3 283.9 C 2488.8 284.9 2491.2 287 2492.9 289.2 C 2494.5 291.4 2495.6 294.3 2496.3 297 C 2497 299.7 2497.3 302.4 2497.3 305.2 Z" fill="#ab9bcf"/><rect x="2479.1" y="231.6" width="7.1" height="4.7" rx="2.4" transform="rotate(20 2482.6 234)" fill="#b4a2de"/><rect x="2463.4" y="242.3" width="7.1" height="4.7" rx="2.4" transform="rotate(75 2466.9 244.7)" fill="#b4a2de"/><rect x="2442.1" y="251.5" width="7.1" height="4.7" rx="2.4" transform="rotate(90 2445.6 253.8)" fill="#b4a2de"/><rect x="2495.1" y="250.9" width="7.1" height="4.7" rx="2.4" transform="rotate(90 2498.6 253.2)" fill="#b4a2de"/><rect x="2421.8" y="262.2" width="7.1" height="4.7" rx="2.4" transform="rotate(80 2425.3 264.5)" fill="#b4a2de"/><rect x="2472.4" y="258" width="7.1" height="4.7" rx="2.4" transform="rotate(-50 2476 260.4)" fill="#b4a2de"/><rect x="2441.2" y="275" width="7.1" height="4.7" rx="2.4" transform="rotate(90 2444.7 277.4)" fill="#b4a2de"/><rect x="2495.1" y="275.8" width="7.1" height="4.7" rx="2.4" transform="rotate(0 2498.6 278.1)" fill="#b4a2de"/><rect x="2524.2" y="278.5" width="7.1" height="4.7" rx="2.4" transform="rotate(-50 2527.8 280.9)" fill="#b4a2de"/><rect x="2417.2" y="284.2" width="7.1" height="4.7" rx="2.4" transform="rotate(-20 2420.8 286.5)" fill="#b4a2de"/><rect x="2437.8" y="301.1" width="7.1" height="4.7" rx="2.4" transform="rotate(-45 2441.3 303.5)" fill="#b4a2de"/><rect x="2525.1" y="303.7" width="7.1" height="4.7" rx="2.4" transform="rotate(90 2528.7 306)" fill="#b4a2de"/><rect x="2412.6" y="306.2" width="7.1" height="4.7" rx="2.4" transform="rotate(-70 2416.2 308.5)" fill="#b4a2de"/><rect x="2454.5" y="324.8" width="7.1" height="4.7" rx="2.4" transform="rotate(-30 2458 327.1)" fill="#b4a2de"/><rect x="2429.9" y="330.1" width="7.1" height="4.7" rx="2.4" transform="rotate(-30 2433.4 332.4)" fill="#b4a2de"/><rect x="2495.1" y="332.6" width="7.1" height="4.7" rx="2.4" transform="rotate(90 2498.6 334.9)" fill="#b4a2de"/><rect x="2523.6" y="331.7" width="7.1" height="4.7" rx="2.4" transform="rotate(-60 2527.1 334)" fill="#b4a2de"/><rect x="2456.9" y="340.1" width="7.1" height="4.7" rx="2.4" transform="rotate(15 2460.4 342.5)" fill="#b4a2de"/><rect x="2500.3" y="351.8" width="7.1" height="4.7" rx="2.4" transform="rotate(-15 2503.8 354.2)" fill="#b4a2de"/><rect x="2466.3" y="359.4" width="7.1" height="4.7" rx="2.4" transform="rotate(50 2469.8 361.7)" fill="#b4a2de"/></g>
<g><path d="M 2591.4 210.2 C 2597.9 210.4 2606.9 211.5 2614.6 213.2 C 2622.4 214.8 2630.5 217.1 2637.8 219.9 C 2645.1 222.8 2652.2 226.4 2658.5 230.4 C 2664.7 234.4 2670.3 239 2675.2 244 C 2680.2 248.9 2684.8 254.2 2688.1 260 C 2691.5 265.7 2694.2 272.3 2695.2 278.5 C 2696.2 284.6 2695.5 290.6 2693.9 296.9 C 2692.3 303.3 2689.3 310.7 2685.5 316.7 C 2681.8 322.6 2677.2 328.2 2671.4 332.7 C 2665.6 337.2 2659.3 341.1 2650.7 343.8 C 2642.1 346.4 2629.2 348.4 2619.8 348.7 C 2610.3 349 2602.2 347.9 2594 345.6 C 2585.8 343.4 2577.9 339.6 2570.8 335.1 C 2563.7 330.7 2556.6 325.3 2551.4 319.1 C 2546.3 313 2542.4 305.4 2539.8 298.2 C 2537.2 291 2535.9 283.8 2535.7 276 C 2535.5 268.2 2536.8 258.7 2538.5 251.4 C 2540.3 244 2542.6 237.2 2546.3 231.6 C 2549.9 226.1 2555.5 221.4 2560.5 218.1 C 2565.4 214.8 2570.8 213.2 2575.9 211.9 C 2581.1 210.6 2585 210 2591.4 210.2 Z" fill="#9c86dc" fill-opacity="0.5"/><path d="M 2637.1 282.7 C 2637.2 285.5 2637.1 288.3 2636.1 291 C 2635.2 293.7 2633.7 296.7 2631.5 298.9 C 2629.3 301 2626 303 2622.8 303.9 C 2619.6 304.8 2615.7 304.9 2612.4 304.5 C 2609.1 304.2 2605.9 303.2 2602.9 302 C 2600 300.9 2597.1 299.6 2594.6 297.8 C 2592 296 2589.3 293.8 2587.8 291.3 C 2586.2 288.8 2585.1 285.6 2585.1 282.7 C 2585.2 279.8 2586.5 276.7 2588.1 274.2 C 2589.7 271.7 2592.3 269.6 2594.8 267.8 C 2597.2 265.9 2599.9 264.5 2602.9 263.2 C 2605.8 262 2609.1 260.9 2612.4 260.5 C 2615.7 260.2 2619.7 260.4 2622.8 261.4 C 2626 262.4 2629.2 264.5 2631.3 266.7 C 2633.5 268.9 2634.8 271.8 2635.8 274.5 C 2636.8 277.2 2637.1 279.9 2637.1 282.7 Z" fill="#bcaee0"/><path d="M 2634.3 282.7 C 2634.3 285.1 2634.2 287.6 2633.4 289.9 C 2632.6 292.2 2631.3 294.8 2629.3 296.7 C 2627.3 298.5 2624.4 300.2 2621.6 301 C 2618.8 301.8 2615.3 301.8 2612.4 301.6 C 2609.5 301.3 2606.7 300.4 2604 299.4 C 2601.4 298.4 2598.9 297.3 2596.6 295.7 C 2594.4 294.2 2592 292.3 2590.6 290.2 C 2589.2 288 2588.2 285.2 2588.3 282.7 C 2588.3 280.2 2589.5 277.5 2590.9 275.3 C 2592.3 273.2 2594.6 271.4 2596.8 269.8 C 2599 268.2 2601.4 266.9 2604 265.9 C 2606.6 264.9 2609.5 263.8 2612.4 263.6 C 2615.3 263.3 2618.8 263.4 2621.6 264.3 C 2624.4 265.2 2627.2 267 2629.2 268.9 C 2631.1 270.7 2632.3 273.3 2633.1 275.6 C 2634 277.9 2634.2 280.3 2634.3 282.7 Z" fill="#ab9bcf"/><rect x="2566.1" y="226.2" width="7.2" height="4.6" rx="2.3" transform="rotate(-60 2569.7 228.6)" fill="#b4a2de"/><rect x="2592.3" y="229.9" width="7.2" height="4.6" rx="2.3" transform="rotate(35 2595.9 232.3)" fill="#b4a2de"/><rect x="2632.9" y="231.2" width="7.2" height="4.6" rx="2.3" transform="rotate(90 2636.5 233.5)" fill="#b4a2de"/><rect x="2562.3" y="244.7" width="7.2" height="4.6" rx="2.3" transform="rotate(30 2565.9 247)" fill="#b4a2de"/><rect x="2580.7" y="250" width="7.2" height="4.6" rx="2.3" transform="rotate(90 2584.3 252.3)" fill="#b4a2de"/><rect x="2610" y="247.8" width="7.2" height="4.6" rx="2.3" transform="rotate(-50 2613.6 250.1)" fill="#b4a2de"/><rect x="2651.6" y="249" width="7.2" height="4.6" rx="2.3" transform="rotate(30 2655.2 251.4)" fill="#b4a2de"/><rect x="2553.3" y="265.1" width="7.2" height="4.6" rx="2.3" transform="rotate(45 2556.8 267.4)" fill="#b4a2de"/><rect x="2670.3" y="270.2" width="7.2" height="4.6" rx="2.3" transform="rotate(90 2673.9 272.5)" fill="#b4a2de"/><rect x="2546.3" y="286.2" width="7.2" height="4.6" rx="2.3" transform="rotate(45 2549.9 288.6)" fill="#b4a2de"/><rect x="2569.5" y="283" width="7.2" height="4.6" rx="2.3" transform="rotate(45 2573.1 285.4)" fill="#b4a2de"/><rect x="2650.4" y="289.7" width="7.2" height="4.6" rx="2.3" transform="rotate(35 2653.9 292)" fill="#b4a2de"/><rect x="2631.4" y="298" width="7.2" height="4.6" rx="2.3" transform="rotate(90 2635 300.3)" fill="#b4a2de"/><rect x="2667.8" y="300.5" width="7.2" height="4.6" rx="2.3" transform="rotate(-60 2671.4 302.9)" fill="#b4a2de"/><rect x="2558.4" y="304.9" width="7.2" height="4.6" rx="2.3" transform="rotate(-70 2562 307.2)" fill="#b4a2de"/><rect x="2585.7" y="304.2" width="7.2" height="4.6" rx="2.3" transform="rotate(90 2589.3 306.6)" fill="#b4a2de"/><rect x="2615.1" y="310.3" width="7.2" height="4.6" rx="2.3" transform="rotate(-60 2618.7 312.6)" fill="#b4a2de"/><rect x="2627.5" y="320.3" width="7.2" height="4.6" rx="2.3" transform="rotate(-50 2631.1 322.6)" fill="#b4a2de"/><rect x="2570.8" y="324" width="7.2" height="4.6" rx="2.3" transform="rotate(65 2574.4 326.3)" fill="#b4a2de"/><rect x="2600.7" y="330.4" width="7.2" height="4.6" rx="2.3" transform="rotate(70 2604.3 332.7)" fill="#b4a2de"/><rect x="2648.2" y="327.9" width="7.2" height="4.6" rx="2.3" transform="rotate(0 2651.8 330.2)" fill="#b4a2de"/></g>
<g><path d="M 2207.1 277.3 C 2214.4 277.6 2224.5 279 2233.2 281 C 2241.9 283.1 2251.1 285.9 2259.3 289.6 C 2267.6 293.2 2275.5 297.7 2282.5 302.7 C 2289.5 307.8 2295.8 313.6 2301.4 319.8 C 2306.9 326 2312.1 332.7 2315.9 340 C 2319.6 347.2 2322.8 355.5 2323.9 363.3 C 2325 371 2324.2 378.5 2322.4 386.5 C 2320.6 394.5 2317.2 403.9 2313 411.4 C 2308.8 418.9 2303.6 425.8 2297 431.5 C 2290.5 437.2 2283.5 442.1 2273.8 445.5 C 2264.2 448.9 2249.7 451.3 2239 451.7 C 2228.4 452.1 2219.2 450.7 2210 447.8 C 2200.9 445 2191.9 440.2 2183.9 434.6 C 2176 429.1 2168 422.2 2162.2 414.5 C 2156.4 406.7 2152.1 397.1 2149.1 388.1 C 2146.2 379 2144.7 370 2144.5 360.2 C 2144.3 350.3 2145.7 338.4 2147.7 329.1 C 2149.7 319.8 2152.3 311.3 2156.4 304.3 C 2160.5 297.3 2166.8 291.4 2172.3 287.2 C 2177.9 283.1 2183.9 281.1 2189.7 279.5 C 2195.5 277.8 2199.9 277 2207.1 277.3 Z" fill="#9c86dc" fill-opacity="0.5"/><path d="M 2251.1 366.9 C 2251.2 370.3 2251.1 373.8 2250 377.1 C 2249 380.4 2247.5 384.1 2245.1 386.8 C 2242.7 389.4 2239.1 391.8 2235.7 392.9 C 2232.2 394.1 2228.1 394.1 2224.5 393.7 C 2220.9 393.3 2217.5 392 2214.3 390.6 C 2211.1 389.3 2208 387.6 2205.3 385.4 C 2202.6 383.2 2199.7 380.6 2198 377.5 C 2196.3 374.4 2195.1 370.4 2195.1 366.9 C 2195.2 363.4 2196.6 359.5 2198.3 356.4 C 2200 353.4 2202.8 350.8 2205.5 348.6 C 2208.1 346.3 2211.1 344.5 2214.2 343 C 2217.4 341.6 2220.9 340.1 2224.5 339.7 C 2228.1 339.3 2232.3 339.5 2235.7 340.7 C 2239.1 342 2242.6 344.6 2244.9 347.2 C 2247.2 349.9 2248.7 353.6 2249.7 356.8 C 2250.7 360.1 2251.1 363.5 2251.1 366.9 Z" fill="#bcaee0"/><path d="M 2248.3 366.9 C 2248.3 369.9 2248.2 373 2247.3 376 C 2246.4 378.9 2245 382.2 2242.9 384.5 C 2240.7 386.9 2237.5 389 2234.5 390 C 2231.4 391.1 2227.7 391.1 2224.5 390.7 C 2221.3 390.4 2218.3 389.2 2215.4 388 C 2212.5 386.8 2209.8 385.3 2207.4 383.4 C 2204.9 381.4 2202.3 379.1 2200.8 376.3 C 2199.3 373.6 2198.2 370 2198.3 366.9 C 2198.3 363.8 2199.6 360.3 2201.1 357.6 C 2202.7 354.9 2205.2 352.6 2207.5 350.6 C 2209.9 348.6 2212.5 347 2215.3 345.7 C 2218.2 344.4 2221.3 343.1 2224.5 342.7 C 2227.7 342.4 2231.5 342.5 2234.5 343.7 C 2237.6 344.8 2240.6 347 2242.7 349.4 C 2244.8 351.8 2246.1 355 2247 357.9 C 2247.9 360.9 2248.2 363.9 2248.3 366.9 Z" fill="#ab9bcf"/><rect x="2178.7" y="297.8" width="8.1" height="5.2" rx="2.6" transform="rotate(-60 2182.8 300.4)" fill="#b4a2de"/><rect x="2208.2" y="302.5" width="8.1" height="5.2" rx="2.6" transform="rotate(35 2212.2 305.1)" fill="#b4a2de"/><rect x="2253.8" y="304" width="8.1" height="5.2" rx="2.6" transform="rotate(90 2257.9 306.6)" fill="#b4a2de"/><rect x="2174.4" y="321.1" width="8.1" height="5.2" rx="2.6" transform="rotate(30 2178.4 323.7)" fill="#b4a2de"/><rect x="2195.1" y="327.8" width="8.1" height="5.2" rx="2.6" transform="rotate(90 2199.2 330.4)" fill="#b4a2de"/><rect x="2228" y="325" width="8.1" height="5.2" rx="2.6" transform="rotate(-50 2232.1 327.6)" fill="#b4a2de"/><rect x="2274.9" y="326.5" width="8.1" height="5.2" rx="2.6" transform="rotate(30 2278.9 329.1)" fill="#b4a2de"/><rect x="2164.2" y="346.7" width="8.1" height="5.2" rx="2.6" transform="rotate(45 2168.3 349.3)" fill="#b4a2de"/><rect x="2248" y="343.9" width="8.1" height="5.2" rx="2.6" transform="rotate(70 2252.1 346.5)" fill="#b4a2de"/><rect x="2295.9" y="353.2" width="8.1" height="5.2" rx="2.6" transform="rotate(90 2299.9 355.8)" fill="#b4a2de"/><rect x="2156.4" y="373.4" width="8.1" height="5.2" rx="2.6" transform="rotate(45 2160.4 376)" fill="#b4a2de"/><rect x="2182.5" y="369.3" width="8.1" height="5.2" rx="2.6" transform="rotate(45 2186.6 371.9)" fill="#b4a2de"/><rect x="2273.4" y="377.7" width="8.1" height="5.2" rx="2.6" transform="rotate(35 2277.5 380.3)" fill="#b4a2de"/><rect x="2252.1" y="388.1" width="8.1" height="5.2" rx="2.6" transform="rotate(90 2256.2 390.7)" fill="#b4a2de"/><rect x="2293" y="391.4" width="8.1" height="5.2" rx="2.6" transform="rotate(-60 2297 394)" fill="#b4a2de"/><rect x="2170" y="396.8" width="8.1" height="5.2" rx="2.6" transform="rotate(-70 2174.1 399.4)" fill="#b4a2de"/><rect x="2200.8" y="396" width="8.1" height="5.2" rx="2.6" transform="rotate(90 2204.8 398.6)" fill="#b4a2de"/><rect x="2233.8" y="403.6" width="8.1" height="5.2" rx="2.6" transform="rotate(-60 2237.9 406.2)" fill="#b4a2de"/><rect x="2247.8" y="416.2" width="8.1" height="5.2" rx="2.6" transform="rotate(-50 2251.8 418.8)" fill="#b4a2de"/><rect x="2184" y="420.9" width="8.1" height="5.2" rx="2.6" transform="rotate(65 2188 423.5)" fill="#b4a2de"/><rect x="2217.6" y="428.9" width="8.1" height="5.2" rx="2.6" transform="rotate(70 2221.6 431.5)" fill="#b4a2de"/><rect x="2271" y="425.8" width="8.1" height="5.2" rx="2.6" transform="rotate(0 2275 428.4)" fill="#b4a2de"/></g>
<g><path d="M 2369.9 325.6 C 2377.1 326.1 2385.7 327.9 2392.3 331.2 C 2398.9 334.5 2404.1 339.4 2409.4 345.2 C 2414.7 351.1 2419.5 359.2 2423.9 366.2 C 2428.3 373.3 2432.7 379.8 2435.8 387.3 C 2438.9 394.7 2440.8 403.6 2442.4 411.1 C 2443.9 418.6 2445.2 424.4 2445 432.1 C 2444.8 439.8 2443 450.3 2441 457.4 C 2439.1 464.4 2437.3 469 2433.1 474.2 C 2429 479.3 2423.7 484.3 2416 488.2 C 2408.3 492 2396.2 496.6 2387 497.3 C 2377.8 498 2368.6 495.1 2360.7 492.4 C 2352.8 489.7 2346.4 486.1 2339.6 481.2 C 2332.8 476.3 2325.3 469.3 2319.8 463 C 2314.3 456.7 2310.2 450.8 2306.6 443.3 C 2303 435.9 2299.6 425.6 2298.1 418.1 C 2296.5 410.6 2296.6 405.5 2297.4 398.5 C 2298.2 391.5 2300 383.1 2302.7 376.1 C 2305.3 369.1 2308.6 362.7 2313.2 356.4 C 2317.8 350.1 2324.4 342.9 2330.3 338.2 C 2336.3 333.5 2342.2 330.5 2348.8 328.4 C 2355.4 326.3 2362.6 325.1 2369.9 325.6 Z" fill="#9c86dc" fill-opacity="0.5"/><path d="M 2389.1 407.7 C 2389.1 411.1 2389 414.6 2388.2 417.9 C 2387.4 421.2 2386.1 424.9 2384.1 427.6 C 2382.1 430.2 2379.2 432.6 2376.4 433.7 C 2373.6 434.9 2370.1 434.9 2367.2 434.5 C 2364.3 434.1 2361.5 432.8 2358.8 431.4 C 2356.2 430.1 2353.7 428.4 2351.4 426.2 C 2349.2 424 2346.8 421.4 2345.4 418.3 C 2344 415.2 2343 411.2 2343.1 407.7 C 2343.1 404.2 2344.3 400.3 2345.7 397.2 C 2347.1 394.2 2349.4 391.6 2351.6 389.4 C 2353.8 387.1 2356.2 385.3 2358.8 383.8 C 2361.4 382.4 2364.3 380.9 2367.2 380.5 C 2370.1 380.1 2373.6 380.3 2376.4 381.5 C 2379.2 382.8 2382 385.4 2384 388 C 2385.9 390.7 2387.1 394.4 2387.9 397.6 C 2388.8 400.9 2389 404.3 2389.1 407.7 Z" fill="#bcaee0"/><path d="M 2386.2 407.7 C 2386.3 410.7 2386.2 413.8 2385.4 416.8 C 2384.7 419.7 2383.6 423 2381.9 425.3 C 2380.2 427.7 2377.6 429.8 2375.2 430.8 C 2372.7 431.9 2369.7 431.9 2367.2 431.5 C 2364.7 431.2 2362.2 430 2359.9 428.8 C 2357.6 427.6 2355.4 426.1 2353.5 424.2 C 2351.5 422.2 2349.5 419.9 2348.3 417.1 C 2347 414.4 2346.2 410.8 2346.2 407.7 C 2346.3 404.6 2347.3 401.1 2348.5 398.4 C 2349.7 395.7 2351.7 393.4 2353.6 391.4 C 2355.5 389.4 2357.6 387.8 2359.9 386.5 C 2362.1 385.2 2364.6 383.9 2367.2 383.5 C 2369.8 383.2 2372.8 383.3 2375.2 384.5 C 2377.7 385.6 2380.1 387.8 2381.8 390.2 C 2383.4 392.6 2384.5 395.8 2385.2 398.7 C 2385.9 401.7 2386.2 404.7 2386.2 407.7 Z" fill="#ab9bcf"/><rect x="2374" y="338.9" width="7.1" height="4.7" rx="2.4" transform="rotate(20 2377.5 341.3)" fill="#b4a2de"/><rect x="2358.2" y="350.8" width="7.1" height="4.7" rx="2.4" transform="rotate(75 2361.7 353.2)" fill="#b4a2de"/><rect x="2336.7" y="361.1" width="7.1" height="4.7" rx="2.4" transform="rotate(90 2340.2 363.4)" fill="#b4a2de"/><rect x="2390" y="360.4" width="7.1" height="4.7" rx="2.4" transform="rotate(90 2393.6 362.7)" fill="#b4a2de"/><rect x="2316.2" y="373" width="7.1" height="4.7" rx="2.4" transform="rotate(80 2319.8 375.4)" fill="#b4a2de"/><rect x="2367.2" y="368.4" width="7.1" height="4.7" rx="2.4" transform="rotate(-50 2370.8 370.7)" fill="#b4a2de"/><rect x="2335.7" y="387.3" width="7.1" height="4.7" rx="2.4" transform="rotate(90 2339.3 389.7)" fill="#b4a2de"/><rect x="2390" y="388.1" width="7.1" height="4.7" rx="2.4" transform="rotate(0 2393.6 390.5)" fill="#b4a2de"/><rect x="2419.4" y="391.2" width="7.1" height="4.7" rx="2.4" transform="rotate(-50 2423 393.6)" fill="#b4a2de"/><rect x="2311.6" y="397.5" width="7.1" height="4.7" rx="2.4" transform="rotate(-20 2315.2 399.9)" fill="#b4a2de"/><rect x="2332.3" y="416.4" width="7.1" height="4.7" rx="2.4" transform="rotate(-45 2335.9 418.8)" fill="#b4a2de"/><rect x="2392.7" y="412.9" width="7.1" height="4.7" rx="2.4" transform="rotate(-70 2396.2 415.3)" fill="#b4a2de"/><rect x="2420.4" y="419.2" width="7.1" height="4.7" rx="2.4" transform="rotate(90 2423.9 421.6)" fill="#b4a2de"/><rect x="2307" y="422" width="7.1" height="4.7" rx="2.4" transform="rotate(-70 2310.6 424.4)" fill="#b4a2de"/><rect x="2349.2" y="442.8" width="7.1" height="4.7" rx="2.4" transform="rotate(-30 2352.8 445.2)" fill="#b4a2de"/><rect x="2370" y="444.5" width="7.1" height="4.7" rx="2.4" transform="rotate(-60 2373.6 446.8)" fill="#b4a2de"/><rect x="2324.4" y="448.7" width="7.1" height="4.7" rx="2.4" transform="rotate(-30 2328 451)" fill="#b4a2de"/><rect x="2390" y="451.5" width="7.1" height="4.7" rx="2.4" transform="rotate(90 2393.6 453.8)" fill="#b4a2de"/><rect x="2418.8" y="450.5" width="7.1" height="4.7" rx="2.4" transform="rotate(-60 2422.3 452.9)" fill="#b4a2de"/><rect x="2351.6" y="459.9" width="7.1" height="4.7" rx="2.4" transform="rotate(15 2355.1 462.3)" fill="#b4a2de"/><rect x="2395.3" y="472.9" width="7.1" height="4.7" rx="2.4" transform="rotate(-15 2398.9 475.3)" fill="#b4a2de"/><rect x="2361.1" y="481.3" width="7.1" height="4.7" rx="2.4" transform="rotate(50 2364.6 483.7)" fill="#b4a2de"/></g>
<g><path d="M 2512.5 336.3 C 2520.4 336.8 2529.6 338.6 2536.7 341.8 C 2543.8 345 2549.5 349.8 2555.2 355.5 C 2560.9 361.2 2566.1 369.2 2570.8 376.1 C 2575.6 382.9 2580.3 389.3 2583.6 396.6 C 2587 404 2589.1 412.6 2590.8 420 C 2592.4 427.3 2593.8 433 2593.6 440.5 C 2593.4 448.1 2591.5 458.4 2589.3 465.2 C 2587.2 472.1 2585.3 476.6 2580.8 481.7 C 2576.3 486.7 2570.6 491.6 2562.3 495.4 C 2554 499.2 2541 503.6 2531 504.3 C 2521.1 505 2511.1 502.1 2502.6 499.5 C 2494 496.9 2487.2 493.3 2479.8 488.5 C 2472.5 483.7 2464.4 476.9 2458.5 470.7 C 2452.6 464.5 2448.2 458.8 2444.3 451.5 C 2440.3 444.2 2436.7 434.1 2435 426.8 C 2433.4 419.5 2433.5 414.5 2434.3 407.6 C 2435.1 400.8 2437.1 392.5 2440 385.7 C 2442.8 378.8 2446.4 372.6 2451.4 366.5 C 2456.3 360.3 2463.5 353.2 2469.9 348.6 C 2476.3 344.1 2482.7 341.1 2489.8 339 C 2496.9 337 2504.7 335.8 2512.5 336.3 Z" fill="#9c86dc" fill-opacity="0.5"/><path d="M 2540.7 429.1 C 2540.7 432.4 2540.6 435.7 2539.7 438.9 C 2538.8 442.1 2537.4 445.7 2535.3 448.2 C 2533.1 450.8 2529.9 453 2526.9 454.2 C 2523.8 455.3 2520.1 455.3 2516.9 454.9 C 2513.7 454.6 2510.7 453.3 2507.8 452 C 2504.9 450.6 2502.2 449 2499.8 446.9 C 2497.3 444.8 2494.7 442.3 2493.2 439.3 C 2491.7 436.3 2490.6 432.5 2490.7 429.1 C 2490.7 425.7 2492 422 2493.5 419 C 2495.1 416.1 2497.6 413.6 2499.9 411.5 C 2502.3 409.3 2504.9 407.5 2507.7 406.1 C 2510.6 404.7 2513.7 403.3 2516.9 402.9 C 2520.1 402.6 2523.9 402.7 2526.9 403.9 C 2530 405.1 2533 407.6 2535.1 410.2 C 2537.2 412.7 2538.5 416.2 2539.4 419.4 C 2540.3 422.6 2540.6 425.8 2540.7 429.1 Z" fill="#bcaee0"/><path d="M 2537.8 429.1 C 2537.9 432 2537.8 435 2537 437.8 C 2536.2 440.6 2535 443.8 2533.1 446 C 2531.2 448.3 2528.4 450.3 2525.7 451.3 C 2523 452.3 2519.7 452.3 2516.9 451.9 C 2514.1 451.6 2511.4 450.5 2508.9 449.3 C 2506.4 448.1 2503.9 446.7 2501.8 444.9 C 2499.7 443 2497.4 440.8 2496.1 438.1 C 2494.7 435.5 2493.8 432.1 2493.8 429.1 C 2493.9 426.1 2495 422.8 2496.3 420.2 C 2497.7 417.6 2499.9 415.4 2502 413.5 C 2504.1 411.6 2506.4 410 2508.8 408.8 C 2511.3 407.5 2514.1 406.3 2516.9 405.9 C 2519.7 405.6 2523.1 405.8 2525.7 406.8 C 2528.4 407.9 2531.1 410.1 2532.9 412.3 C 2534.8 414.6 2535.9 417.7 2536.7 420.5 C 2537.5 423.3 2537.8 426.2 2537.8 429.1 Z" fill="#ab9bcf"/><rect x="2516.9" y="349.1" width="7.7" height="5.1" rx="2.6" transform="rotate(20 2520.8 351.7)" fill="#b4a2de"/><rect x="2499.9" y="360.8" width="7.7" height="5.1" rx="2.6" transform="rotate(75 2503.7 363.3)" fill="#b4a2de"/><rect x="2476.7" y="370.8" width="7.7" height="5.1" rx="2.6" transform="rotate(90 2480.5 373.3)" fill="#b4a2de"/><rect x="2534.3" y="370.1" width="7.7" height="5.1" rx="2.6" transform="rotate(90 2538.1 372.6)" fill="#b4a2de"/><rect x="2454.6" y="382.4" width="7.7" height="5.1" rx="2.6" transform="rotate(80 2458.5 385)" fill="#b4a2de"/><rect x="2509.7" y="377.9" width="7.7" height="5.1" rx="2.6" transform="rotate(-50 2513.5 380.5)" fill="#b4a2de"/><rect x="2475.7" y="396.4" width="7.7" height="5.1" rx="2.6" transform="rotate(90 2479.5 399)" fill="#b4a2de"/><rect x="2534.3" y="397.2" width="7.7" height="5.1" rx="2.6" transform="rotate(0 2538.1 399.8)" fill="#b4a2de"/><rect x="2566" y="400.3" width="7.7" height="5.1" rx="2.6" transform="rotate(-50 2569.8 402.8)" fill="#b4a2de"/><rect x="2449.7" y="406.4" width="7.7" height="5.1" rx="2.6" transform="rotate(-20 2453.5 409)" fill="#b4a2de"/><rect x="2472" y="424.9" width="7.7" height="5.1" rx="2.6" transform="rotate(-45 2475.8 427.5)" fill="#b4a2de"/><rect x="2567" y="427.7" width="7.7" height="5.1" rx="2.6" transform="rotate(90 2570.8 430.2)" fill="#b4a2de"/><rect x="2444.7" y="430.4" width="7.7" height="5.1" rx="2.6" transform="rotate(-70 2448.5 433)" fill="#b4a2de"/><rect x="2490.2" y="450.7" width="7.7" height="5.1" rx="2.6" transform="rotate(-30 2494 453.3)" fill="#b4a2de"/><rect x="2463.5" y="456.5" width="7.7" height="5.1" rx="2.6" transform="rotate(-30 2467.3 459)" fill="#b4a2de"/><rect x="2534.3" y="459.2" width="7.7" height="5.1" rx="2.6" transform="rotate(90 2538.1 461.8)" fill="#b4a2de"/><rect x="2565.3" y="458.3" width="7.7" height="5.1" rx="2.6" transform="rotate(-60 2569.1 460.8)" fill="#b4a2de"/><rect x="2492.8" y="467.5" width="7.7" height="5.1" rx="2.6" transform="rotate(15 2496.6 470)" fill="#b4a2de"/><rect x="2540" y="480.2" width="7.7" height="5.1" rx="2.6" transform="rotate(-15 2543.8 482.8)" fill="#b4a2de"/><rect x="2503" y="488.4" width="7.7" height="5.1" rx="2.6" transform="rotate(50 2506.8 491)" fill="#b4a2de"/></g>
<g><path d="M 2661.3 316 C 2668.6 316.4 2677.2 318.1 2683.8 321 C 2690.5 323.9 2695.8 328.3 2701.1 333.5 C 2706.4 338.7 2711.2 346.1 2715.7 352.3 C 2720.1 358.6 2724.5 364.4 2727.6 371.1 C 2730.7 377.8 2732.7 385.7 2734.2 392.4 C 2735.8 399.1 2737.1 404.3 2736.9 411.2 C 2736.7 418.1 2734.9 427.4 2732.9 433.7 C 2730.9 440 2729.2 444.1 2725 448.7 C 2720.8 453.3 2715.5 457.8 2707.7 461.3 C 2700 464.7 2687.8 468.8 2678.5 469.4 C 2669.2 470 2659.9 467.4 2652 465 C 2644 462.6 2637.6 459.4 2630.8 455 C 2623.9 450.6 2616.4 444.4 2610.9 438.7 C 2605.3 433.1 2601.2 427.9 2597.6 421.2 C 2593.9 414.5 2590.5 405.3 2589 398.6 C 2587.4 392 2587.5 387.4 2588.3 381.1 C 2589.1 374.9 2591 367.3 2593.6 361.1 C 2596.3 354.8 2599.6 349.2 2604.2 343.5 C 2608.9 337.9 2615.5 331.4 2621.5 327.3 C 2627.4 323.1 2633.4 320.4 2640 318.5 C 2646.7 316.6 2654 315.6 2661.3 316 Z" fill="#9c86dc" fill-opacity="0.5"/><path d="M 2686.3 400.7 C 2686.3 403.7 2686.2 406.8 2685.4 409.8 C 2684.6 412.7 2683.3 416 2681.3 418.3 C 2679.3 420.7 2676.4 422.8 2673.6 423.8 C 2670.8 424.9 2667.3 424.9 2664.4 424.5 C 2661.5 424.2 2658.7 423 2656 421.8 C 2653.4 420.6 2650.9 419.1 2648.6 417.2 C 2646.4 415.2 2644 412.9 2642.6 410.1 C 2641.2 407.4 2640.2 403.8 2640.3 400.7 C 2640.3 397.6 2641.5 394.1 2642.9 391.4 C 2644.3 388.7 2646.6 386.4 2648.8 384.4 C 2651 382.4 2653.4 380.8 2656 379.5 C 2658.6 378.2 2661.5 376.9 2664.4 376.5 C 2667.3 376.2 2670.8 376.3 2673.6 377.5 C 2676.4 378.6 2679.2 380.8 2681.2 383.2 C 2683.1 385.6 2684.3 388.8 2685.1 391.7 C 2686 394.7 2686.2 397.7 2686.3 400.7 Z" fill="#bcaee0"/><path d="M 2683.4 400.7 C 2683.5 403.3 2683.4 406.1 2682.6 408.6 C 2681.9 411.2 2680.8 414.1 2679.1 416.1 C 2677.4 418.2 2674.8 420 2672.4 420.9 C 2669.9 421.8 2666.9 421.8 2664.4 421.6 C 2661.9 421.3 2659.4 420.2 2657.1 419.2 C 2654.8 418.1 2652.6 416.8 2650.7 415.1 C 2648.7 413.4 2646.7 411.3 2645.5 408.9 C 2644.2 406.5 2643.4 403.4 2643.4 400.7 C 2643.5 398 2644.5 394.9 2645.7 392.6 C 2646.9 390.2 2648.9 388.2 2650.8 386.4 C 2652.7 384.7 2654.8 383.3 2657.1 382.1 C 2659.3 381 2661.8 379.8 2664.4 379.6 C 2667 379.3 2670 379.4 2672.4 380.4 C 2674.9 381.3 2677.3 383.3 2679 385.4 C 2680.6 387.5 2681.7 390.3 2682.4 392.9 C 2683.1 395.4 2683.4 398.1 2683.4 400.7 Z" fill="#ab9bcf"/><rect x="2665.4" y="327.6" width="7.2" height="4.8" rx="2.4" transform="rotate(20 2669 330)" fill="#b4a2de"/><rect x="2649.5" y="338.3" width="7.2" height="4.8" rx="2.4" transform="rotate(75 2653 340.7)" fill="#b4a2de"/><rect x="2627.8" y="347.4" width="7.2" height="4.8" rx="2.4" transform="rotate(90 2631.4 349.8)" fill="#b4a2de"/><rect x="2681.6" y="346.8" width="7.2" height="4.8" rx="2.4" transform="rotate(90 2685.2 349.2)" fill="#b4a2de"/><rect x="2607.3" y="358.1" width="7.2" height="4.8" rx="2.4" transform="rotate(80 2610.9 360.5)" fill="#b4a2de"/><rect x="2658.6" y="353.9" width="7.2" height="4.8" rx="2.4" transform="rotate(-50 2662.2 356.3)" fill="#b4a2de"/><rect x="2626.9" y="370.8" width="7.2" height="4.8" rx="2.4" transform="rotate(90 2630.5 373.2)" fill="#b4a2de"/><rect x="2681.6" y="371.6" width="7.2" height="4.8" rx="2.4" transform="rotate(0 2685.2 374)" fill="#b4a2de"/><rect x="2711.2" y="374.3" width="7.2" height="4.8" rx="2.4" transform="rotate(-50 2714.7 376.7)" fill="#b4a2de"/><rect x="2602.6" y="380" width="7.2" height="4.8" rx="2.4" transform="rotate(-20 2606.2 382.4)" fill="#b4a2de"/><rect x="2623.5" y="396.9" width="7.2" height="4.8" rx="2.4" transform="rotate(-45 2627 399.3)" fill="#b4a2de"/><rect x="2712.1" y="399.4" width="7.2" height="4.8" rx="2.4" transform="rotate(90 2715.7 401.8)" fill="#b4a2de"/><rect x="2598" y="401.9" width="7.2" height="4.8" rx="2.4" transform="rotate(-70 2601.6 404.3)" fill="#b4a2de"/><rect x="2640.4" y="420.4" width="7.2" height="4.8" rx="2.4" transform="rotate(-30 2644 422.8)" fill="#b4a2de"/><rect x="2615.5" y="425.7" width="7.2" height="4.8" rx="2.4" transform="rotate(-30 2619.1 428.1)" fill="#b4a2de"/><rect x="2681.6" y="428.2" width="7.2" height="4.8" rx="2.4" transform="rotate(90 2685.2 430.6)" fill="#b4a2de"/><rect x="2710.5" y="427.3" width="7.2" height="4.8" rx="2.4" transform="rotate(-60 2714.1 429.7)" fill="#b4a2de"/><rect x="2642.8" y="435.7" width="7.2" height="4.8" rx="2.4" transform="rotate(15 2646.4 438.1)" fill="#b4a2de"/><rect x="2686.9" y="447.4" width="7.2" height="4.8" rx="2.4" transform="rotate(-15 2690.5 449.7)" fill="#b4a2de"/><rect x="2652.4" y="454.9" width="7.2" height="4.8" rx="2.4" transform="rotate(50 2656 457.3)" fill="#b4a2de"/></g>
<g><path d="M 2275.3 439.9 C 2283.6 440.4 2293.4 442.4 2300.9 446 C 2308.5 449.5 2314.5 454.8 2320.6 461.2 C 2326.6 467.5 2332.1 476.4 2337.2 484 C 2342.2 491.6 2347.2 498.6 2350.7 506.7 C 2354.3 514.8 2356.5 524.5 2358.3 532.6 C 2360 540.7 2361.6 547 2361.3 555.4 C 2361 563.7 2359 575.1 2356.8 582.7 C 2354.5 590.3 2352.5 595.4 2347.7 600.9 C 2342.9 606.5 2336.9 611.9 2328.1 616.1 C 2319.3 620.3 2305.5 625.2 2294.9 626 C 2284.3 626.8 2273.8 623.6 2264.7 620.7 C 2255.7 617.8 2248.4 613.8 2240.6 608.5 C 2232.8 603.2 2224.2 595.6 2218 588.8 C 2211.7 581.9 2207 575.6 2202.9 567.5 C 2198.7 559.4 2194.8 548.3 2193.1 540.2 C 2191.3 532.1 2191.4 526.5 2192.3 518.9 C 2193.2 511.3 2195.3 502.2 2198.3 494.6 C 2201.4 487 2205.1 480.2 2210.4 473.3 C 2215.7 466.5 2223.2 458.6 2230 453.6 C 2236.8 448.5 2243.6 445.2 2251.1 442.9 C 2258.7 440.7 2267 439.4 2275.3 439.9 Z" fill="#9c86dc" fill-opacity="0.5"/><path d="M 2294.8 532.1 C 2294.9 535.7 2294.8 539.5 2293.8 543.1 C 2292.9 546.6 2291.4 550.6 2289.2 553.4 C 2287 556.3 2283.7 558.8 2280.5 560 C 2277.3 561.3 2273.4 561.3 2270.1 560.9 C 2266.8 560.5 2263.6 559.1 2260.6 557.6 C 2257.7 556.1 2254.8 554.3 2252.3 552 C 2249.7 549.6 2247 546.8 2245.5 543.5 C 2243.9 540.2 2242.8 535.9 2242.8 532.1 C 2242.9 528.3 2244.2 524.1 2245.8 520.9 C 2247.4 517.6 2250 514.8 2252.5 512.4 C 2254.9 510 2257.6 508 2260.6 506.5 C 2263.5 504.9 2266.8 503.3 2270.1 502.9 C 2273.4 502.5 2277.4 502.7 2280.5 504 C 2283.7 505.4 2286.9 508.1 2289 511 C 2291.2 513.9 2292.5 517.8 2293.5 521.3 C 2294.5 524.8 2294.8 528.5 2294.8 532.1 Z" fill="#bcaee0"/><path d="M 2292 532.1 C 2292 535.4 2291.9 538.7 2291.1 541.9 C 2290.3 545.1 2289 548.7 2287 551.2 C 2285 553.8 2282.1 556 2279.3 557.2 C 2276.5 558.3 2273 558.3 2270.1 557.9 C 2267.2 557.6 2264.4 556.3 2261.7 555 C 2259.1 553.6 2256.6 552 2254.3 549.9 C 2252.1 547.8 2249.7 545.3 2248.3 542.3 C 2246.9 539.3 2245.9 535.5 2246 532.1 C 2246 528.7 2247.2 525 2248.6 522 C 2250 519.1 2252.3 516.6 2254.5 514.5 C 2256.7 512.3 2259.1 510.5 2261.7 509.1 C 2264.3 507.7 2267.2 506.3 2270.1 505.9 C 2273 505.6 2276.5 505.7 2279.3 506.9 C 2282.1 508.1 2284.9 510.6 2286.9 513.2 C 2288.8 515.7 2290 519.2 2290.8 522.4 C 2291.7 525.6 2291.9 528.8 2292 532.1 Z" fill="#ab9bcf"/><rect x="2280" y="454.2" width="8.1" height="5.4" rx="2.7" transform="rotate(20 2284 456.9)" fill="#b4a2de"/><rect x="2261.9" y="467.1" width="8.1" height="5.4" rx="2.7" transform="rotate(75 2265.9 469.8)" fill="#b4a2de"/><rect x="2237.3" y="478.2" width="8.1" height="5.4" rx="2.7" transform="rotate(90 2241.3 480.9)" fill="#b4a2de"/><rect x="2298.4" y="477.4" width="8.1" height="5.4" rx="2.7" transform="rotate(90 2302.5 480.2)" fill="#b4a2de"/><rect x="2213.9" y="491.1" width="8.1" height="5.4" rx="2.7" transform="rotate(80 2218 493.8)" fill="#b4a2de"/><rect x="2272.3" y="486.1" width="8.1" height="5.4" rx="2.7" transform="rotate(-50 2276.3 488.8)" fill="#b4a2de"/><rect x="2236.2" y="506.6" width="8.1" height="5.4" rx="2.7" transform="rotate(90 2240.3 509.3)" fill="#b4a2de"/><rect x="2298.4" y="507.5" width="8.1" height="5.4" rx="2.7" transform="rotate(0 2302.5 510.2)" fill="#b4a2de"/><rect x="2332" y="510.9" width="8.1" height="5.4" rx="2.7" transform="rotate(-50 2336.1 513.6)" fill="#b4a2de"/><rect x="2208.6" y="517.7" width="8.1" height="5.4" rx="2.7" transform="rotate(-20 2212.7 520.4)" fill="#b4a2de"/><rect x="2232.3" y="538.2" width="8.1" height="5.4" rx="2.7" transform="rotate(-45 2236.4 540.9)" fill="#b4a2de"/><rect x="2301.4" y="534.4" width="8.1" height="5.4" rx="2.7" transform="rotate(-70 2305.5 537.1)" fill="#b4a2de"/><rect x="2333.1" y="541.2" width="8.1" height="5.4" rx="2.7" transform="rotate(90 2337.2 544)" fill="#b4a2de"/><rect x="2203.3" y="544.3" width="8.1" height="5.4" rx="2.7" transform="rotate(-70 2207.4 547)" fill="#b4a2de"/><rect x="2251.6" y="566.8" width="8.1" height="5.4" rx="2.7" transform="rotate(-30 2255.7 569.5)" fill="#b4a2de"/><rect x="2275.4" y="568.6" width="8.1" height="5.4" rx="2.7" transform="rotate(-60 2279.5 571.3)" fill="#b4a2de"/><rect x="2223.2" y="573.2" width="8.1" height="5.4" rx="2.7" transform="rotate(-30 2227.3 575.9)" fill="#b4a2de"/><rect x="2298.4" y="576.2" width="8.1" height="5.4" rx="2.7" transform="rotate(90 2302.5 578.9)" fill="#b4a2de"/><rect x="2331.3" y="575.1" width="8.1" height="5.4" rx="2.7" transform="rotate(-60 2335.3 577.8)" fill="#b4a2de"/><rect x="2254.3" y="585.3" width="8.1" height="5.4" rx="2.7" transform="rotate(15 2258.4 588)" fill="#b4a2de"/><rect x="2304.4" y="599.4" width="8.1" height="5.4" rx="2.7" transform="rotate(-15 2308.5 602.1)" fill="#b4a2de"/><rect x="2265.2" y="608.5" width="8.1" height="5.4" rx="2.7" transform="rotate(50 2269.3 611.3)" fill="#b4a2de"/></g>
<g><path d="M 2399.7 486.5 C 2408.3 486.8 2420.4 488.4 2430.7 490.6 C 2441.1 492.9 2452 496.1 2461.7 500.1 C 2471.5 504.1 2481 509.1 2489.3 514.7 C 2497.6 520.3 2505.1 526.7 2511.7 533.6 C 2518.3 540.5 2524.5 547.9 2528.9 555.9 C 2533.4 564 2537.1 573.1 2538.4 581.7 C 2539.7 590.3 2538.8 598.6 2536.7 607.5 C 2534.5 616.4 2530.5 626.7 2525.5 635 C 2520.4 643.3 2514.3 651.1 2506.5 657.4 C 2498.8 663.7 2490.4 669.1 2479 672.8 C 2467.5 676.5 2450.2 679.3 2437.6 679.7 C 2425 680.1 2414.1 678.6 2403.2 675.4 C 2392.3 672.3 2381.6 667 2372.2 660.8 C 2362.7 654.6 2353.2 647 2346.3 638.4 C 2339.4 629.9 2334.3 619.3 2330.8 609.2 C 2327.3 599.2 2325.6 589.2 2325.3 578.3 C 2325 567.4 2326.7 554.2 2329.1 543.9 C 2331.4 533.6 2334.5 524.1 2339.4 516.4 C 2344.3 508.7 2351.8 502.1 2358.4 497.5 C 2365 492.9 2372.2 490.7 2379 488.9 C 2385.9 487.1 2391.1 486.2 2399.7 486.5 Z" fill="#9c86dc" fill-opacity="0.5"/><path d="M 2452.3 585.8 C 2452.3 589.6 2452.2 593.5 2451 597.1 C 2449.8 600.8 2448 604.9 2445.2 607.9 C 2442.3 610.8 2438.1 613.4 2434.1 614.7 C 2430 616 2425.1 616 2420.9 615.6 C 2416.7 615.2 2412.7 613.7 2408.9 612.2 C 2405.1 610.6 2401.5 608.8 2398.3 606.4 C 2395.1 603.9 2391.6 601 2389.6 597.6 C 2387.6 594.1 2386.2 589.7 2386.3 585.8 C 2386.3 581.9 2388 577.6 2390 574.2 C 2392.1 570.8 2395.4 567.9 2398.5 565.4 C 2401.6 563 2405.1 560.9 2408.8 559.3 C 2412.5 557.6 2416.7 556 2420.9 555.6 C 2425.1 555.2 2430.1 555.3 2434.1 556.7 C 2438.1 558.1 2442.2 561 2444.9 564 C 2447.7 566.9 2449.4 571 2450.6 574.6 C 2451.8 578.3 2452.2 582 2452.3 585.8 Z" fill="#bcaee0"/><path d="M 2449.4 585.8 C 2449.5 589.2 2449.3 592.7 2448.3 596 C 2447.2 599.3 2445.5 603 2443 605.7 C 2440.4 608.3 2436.6 610.7 2432.9 611.8 C 2429.2 613 2424.7 613 2420.9 612.6 C 2417.1 612.2 2413.4 610.9 2410 609.5 C 2406.5 608.2 2403.2 606.5 2400.3 604.3 C 2397.4 602.1 2394.3 599.5 2392.5 596.4 C 2390.7 593.3 2389.4 589.3 2389.4 585.8 C 2389.5 582.3 2391 578.4 2392.8 575.3 C 2394.7 572.3 2397.7 569.7 2400.5 567.5 C 2403.4 565.2 2406.5 563.4 2409.9 561.9 C 2413.3 560.5 2417.1 559 2420.9 558.6 C 2424.7 558.2 2429.3 558.4 2432.9 559.6 C 2436.6 560.9 2440.3 563.5 2442.7 566.1 C 2445.2 568.8 2446.8 572.5 2447.9 575.7 C 2449 579 2449.4 582.4 2449.4 585.8 Z" fill="#ab9bcf"/><rect x="2366" y="509" width="9.6" height="6.2" rx="3.1" transform="rotate(-60 2370.8 512.1)" fill="#b4a2de"/><rect x="2400.9" y="514.2" width="9.6" height="6.2" rx="3.1" transform="rotate(35 2405.7 517.3)" fill="#b4a2de"/><rect x="2455.2" y="515.9" width="9.6" height="6.2" rx="3.1" transform="rotate(90 2460 519)" fill="#b4a2de"/><rect x="2360.8" y="534.8" width="9.6" height="6.2" rx="3.1" transform="rotate(30 2365.6 537.9)" fill="#b4a2de"/><rect x="2385.4" y="542.2" width="9.6" height="6.2" rx="3.1" transform="rotate(90 2390.2 545.3)" fill="#b4a2de"/><rect x="2424.5" y="539.1" width="9.6" height="6.2" rx="3.1" transform="rotate(-50 2429.3 542.2)" fill="#b4a2de"/><rect x="2480.2" y="540.8" width="9.6" height="6.2" rx="3.1" transform="rotate(30 2485 543.9)" fill="#b4a2de"/><rect x="2348.7" y="563.2" width="9.6" height="6.2" rx="3.1" transform="rotate(45 2353.6 566.3)" fill="#b4a2de"/><rect x="2448.3" y="560.1" width="9.6" height="6.2" rx="3.1" transform="rotate(70 2453.1 563.2)" fill="#b4a2de"/><rect x="2505.2" y="570.4" width="9.6" height="6.2" rx="3.1" transform="rotate(90 2510 573.5)" fill="#b4a2de"/><rect x="2339.4" y="592.7" width="9.6" height="6.2" rx="3.1" transform="rotate(45 2344.2 595.8)" fill="#b4a2de"/><rect x="2370.4" y="588.2" width="9.6" height="6.2" rx="3.1" transform="rotate(45 2375.3 591.4)" fill="#b4a2de"/><rect x="2478.5" y="597.5" width="9.6" height="6.2" rx="3.1" transform="rotate(35 2483.3 600.6)" fill="#b4a2de"/><rect x="2453.1" y="609" width="9.6" height="6.2" rx="3.1" transform="rotate(90 2457.9 612.1)" fill="#b4a2de"/><rect x="2501.7" y="612.7" width="9.6" height="6.2" rx="3.1" transform="rotate(-60 2506.5 615.8)" fill="#b4a2de"/><rect x="2355.6" y="618.7" width="9.6" height="6.2" rx="3.1" transform="rotate(-70 2360.4 621.8)" fill="#b4a2de"/><rect x="2392.2" y="617.8" width="9.6" height="6.2" rx="3.1" transform="rotate(90 2397 620.9)" fill="#b4a2de"/><rect x="2431.4" y="626.2" width="9.6" height="6.2" rx="3.1" transform="rotate(-60 2436.2 629.3)" fill="#b4a2de"/><rect x="2448" y="640.2" width="9.6" height="6.2" rx="3.1" transform="rotate(-50 2452.8 643.3)" fill="#b4a2de"/><rect x="2372.2" y="645.3" width="9.6" height="6.2" rx="3.1" transform="rotate(65 2377 648.4)" fill="#b4a2de"/><rect x="2412.1" y="654.3" width="9.6" height="6.2" rx="3.1" transform="rotate(70 2416.9 657.4)" fill="#b4a2de"/><rect x="2475.5" y="650.8" width="9.6" height="6.2" rx="3.1" transform="rotate(0 2480.3 653.9)" fill="#b4a2de"/></g>
<g><path d="M 2571.8 446.3 C 2580.5 446.6 2592.6 448.2 2603 450.6 C 2613.4 452.9 2624.3 456.2 2634.1 460.3 C 2643.9 464.5 2653.5 469.7 2661.8 475.4 C 2670.2 481.2 2677.7 487.9 2684.3 495 C 2691 502.1 2697.2 509.8 2701.7 518 C 2706.1 526.3 2709.9 535.8 2711.2 544.7 C 2712.5 553.6 2711.6 562.1 2709.4 571.3 C 2707.3 580.5 2703.2 591.1 2698.2 599.7 C 2693.1 608.3 2686.9 616.3 2679.1 622.8 C 2671.4 629.3 2663 634.9 2651.4 638.8 C 2639.9 642.6 2622.6 645.5 2609.9 645.9 C 2597.2 646.3 2586.2 644.7 2575.3 641.5 C 2564.3 638.2 2553.6 632.7 2544.1 626.4 C 2534.6 620 2525 612.2 2518.1 603.3 C 2511.2 594.4 2506.1 583.5 2502.5 573.1 C 2499 562.7 2497.3 552.4 2497 541.1 C 2496.7 529.9 2498.4 516.3 2500.8 505.6 C 2503.2 495 2506.3 485.2 2511.2 477.2 C 2516.1 469.2 2523.6 462.4 2530.2 457.7 C 2536.9 452.9 2544.1 450.7 2551 448.8 C 2557.9 446.9 2563.1 446 2571.8 446.3 Z" fill="#9c86dc" fill-opacity="0.5"/><path d="M 2635.7 553.6 C 2635.7 557.4 2635.6 561.3 2634.4 564.9 C 2633.2 568.6 2631.4 572.7 2628.6 575.7 C 2625.7 578.6 2621.5 581.2 2617.5 582.5 C 2613.4 583.8 2608.5 583.8 2604.3 583.4 C 2600.1 583 2596.1 581.5 2592.3 580 C 2588.5 578.4 2584.9 576.6 2581.7 574.2 C 2578.5 571.7 2575 568.8 2573 565.4 C 2571 561.9 2569.6 557.5 2569.7 553.6 C 2569.7 549.7 2571.4 545.4 2573.4 542 C 2575.5 538.6 2578.8 535.7 2581.9 533.2 C 2585 530.8 2588.5 528.7 2592.2 527.1 C 2595.9 525.4 2600.1 523.8 2604.3 523.4 C 2608.5 523 2613.5 523.1 2617.5 524.5 C 2621.5 525.9 2625.6 528.8 2628.3 531.8 C 2631.1 534.7 2632.8 538.8 2634 542.4 C 2635.2 546.1 2635.6 549.8 2635.7 553.6 Z" fill="#bcaee0"/><path d="M 2632.8 553.6 C 2632.9 557 2632.7 560.5 2631.7 563.8 C 2630.6 567.1 2628.9 570.8 2626.4 573.5 C 2623.8 576.1 2620 578.5 2616.3 579.6 C 2612.6 580.8 2608.1 580.8 2604.3 580.4 C 2600.5 580 2596.8 578.7 2593.4 577.3 C 2589.9 576 2586.6 574.3 2583.7 572.1 C 2580.8 569.9 2577.7 567.3 2575.9 564.2 C 2574.1 561.1 2572.8 557.1 2572.8 553.6 C 2572.9 550.1 2574.4 546.2 2576.2 543.1 C 2578.1 540.1 2581.1 537.5 2583.9 535.3 C 2586.8 533 2589.9 531.2 2593.3 529.7 C 2596.7 528.3 2600.5 526.8 2604.3 526.4 C 2608.1 526 2612.7 526.2 2616.3 527.4 C 2620 528.7 2623.7 531.3 2626.1 533.9 C 2628.6 536.6 2630.2 540.3 2631.3 543.5 C 2632.4 546.8 2632.8 550.2 2632.8 553.6 Z" fill="#ab9bcf"/><rect x="2537.9" y="469.6" width="9.7" height="6.2" rx="3.1" transform="rotate(-60 2542.7 472.8)" fill="#b4a2de"/><rect x="2573" y="475" width="9.7" height="6.2" rx="3.1" transform="rotate(35 2577.9 478.1)" fill="#b4a2de"/><rect x="2627.6" y="476.7" width="9.7" height="6.2" rx="3.1" transform="rotate(90 2632.4 479.9)" fill="#b4a2de"/><rect x="2532.7" y="496.3" width="9.7" height="6.2" rx="3.1" transform="rotate(30 2537.5 499.4)" fill="#b4a2de"/><rect x="2557.4" y="503.9" width="9.7" height="6.2" rx="3.1" transform="rotate(90 2562.3 507)" fill="#b4a2de"/><rect x="2596.7" y="500.7" width="9.7" height="6.2" rx="3.1" transform="rotate(-50 2601.6 503.8)" fill="#b4a2de"/><rect x="2652.7" y="502.5" width="9.7" height="6.2" rx="3.1" transform="rotate(30 2657.5 505.6)" fill="#b4a2de"/><rect x="2520.6" y="525.6" width="9.7" height="6.2" rx="3.1" transform="rotate(45 2525.4 528.7)" fill="#b4a2de"/><rect x="2620.6" y="522.4" width="9.7" height="6.2" rx="3.1" transform="rotate(70 2625.5 525.5)" fill="#b4a2de"/><rect x="2677.8" y="533" width="9.7" height="6.2" rx="3.1" transform="rotate(90 2682.6 536.2)" fill="#b4a2de"/><rect x="2511.2" y="556.1" width="9.7" height="6.2" rx="3.1" transform="rotate(45 2516 559.2)" fill="#b4a2de"/><rect x="2542.4" y="551.5" width="9.7" height="6.2" rx="3.1" transform="rotate(45 2547.2 554.6)" fill="#b4a2de"/><rect x="2650.9" y="561.1" width="9.7" height="6.2" rx="3.1" transform="rotate(35 2655.8 564.2)" fill="#b4a2de"/><rect x="2625.5" y="573" width="9.7" height="6.2" rx="3.1" transform="rotate(90 2630.3 576.1)" fill="#b4a2de"/><rect x="2674.3" y="576.7" width="9.7" height="6.2" rx="3.1" transform="rotate(-60 2679.1 579.8)" fill="#b4a2de"/><rect x="2527.5" y="582.9" width="9.7" height="6.2" rx="3.1" transform="rotate(-70 2532.3 586.1)" fill="#b4a2de"/><rect x="2564.2" y="582.1" width="9.7" height="6.2" rx="3.1" transform="rotate(90 2569 585.2)" fill="#b4a2de"/><rect x="2603.7" y="590.8" width="9.7" height="6.2" rx="3.1" transform="rotate(-60 2608.5 593.9)" fill="#b4a2de"/><rect x="2620.3" y="605.1" width="9.7" height="6.2" rx="3.1" transform="rotate(-50 2625.1 608.3)" fill="#b4a2de"/><rect x="2544.1" y="610.5" width="9.7" height="6.2" rx="3.1" transform="rotate(65 2548.9 613.6)" fill="#b4a2de"/><rect x="2584.3" y="619.7" width="9.7" height="6.2" rx="3.1" transform="rotate(70 2589.1 622.8)" fill="#b4a2de"/><rect x="2648" y="616.1" width="9.7" height="6.2" rx="3.1" transform="rotate(0 2652.8 619.3)" fill="#b4a2de"/></g>
<rect x="1035" y="783" width="12" height="101.7" fill="#289bca"/>
<path d="M 1024 783.2 L 1040.8 753.8 L 1058 783.2 Z" fill="#289bca"/>
<circle cx="1040.7" cy="1018.3" r="82" fill="#fce4bb"/><circle cx="1040.7" cy="1018.3" r="52.4" fill="#fad694"/>
<rect x="1730.9" y="782.6" width="11.7" height="101.8" fill="#289bca"/>
<path d="M 1719.9 782.8 L 1736.7 753.9 L 1753.5 782.8 Z" fill="#289bca"/>
<rect x="1730.9" y="1106.5" width="11.7" height="22.9" fill="#289bca"/>
<path d="M 1719.9 1106.7 L 1736.7 1078.2 L 1753.5 1106.7 Z" fill="#289bca"/>
<defs><clipPath id="dnaclip"><rect x="45" y="-100" width="2435" height="1400"/></clipPath><clipPath id="dnaclip2"><rect x="140" y="-100" width="2245" height="1400"/></clipPath></defs>
<g transform="translate(1590 935) scale(0.11646)" fill="none" stroke-linejoin="round">
<path d="M 280 250 L 280 990" stroke="#fbd591" stroke-width="95"/>
<path d="M 575 250 L 575 990" stroke="#fbd591" stroke-width="95"/>
<path d="M 870 250 L 870 990" stroke="#fbd591" stroke-width="95"/>
<path d="M 1650 250 L 1650 990" stroke="#fbd591" stroke-width="95"/>
<path d="M 1945 250 L 1945 990" stroke="#fbd591" stroke-width="95"/>
<path d="M 2240 250 L 2240 990" stroke="#fbd591" stroke-width="95"/>
<path d="M -100 330 C 100 230, 350 187, 540 187 C 900 187, 1110 380, 1265 620 C 1420 860, 1630 1049, 1990 1049 C 2180 1049, 2430 1000, 2630 900" stroke="#fbd591" stroke-width="286" clip-path="url(#dnaclip)"/>
<path d="M -100 330 C 100 230, 350 187, 540 187 C 900 187, 1110 380, 1265 620 C 1420 860, 1630 1049, 1990 1049 C 2180 1049, 2430 1000, 2630 900" stroke="#fff" stroke-width="96" clip-path="url(#dnaclip2)"/>
<path d="M -100 910 C 100 1010, 350 1055, 540 1055 C 900 1055, 1110 860, 1265 620 C 1420 380, 1630 187, 1990 187 C 2180 187, 2430 240, 2630 340" stroke="#fbd591" stroke-width="286" clip-path="url(#dnaclip)"/>
<path d="M -100 910 C 100 1010, 350 1055, 540 1055 C 900 1055, 1110 860, 1265 620 C 1420 380, 1630 187, 1990 187 C 2180 187, 2430 240, 2630 340" stroke="#fff" stroke-width="96" clip-path="url(#dnaclip2)"/>
<path d="M 1790 115 C 1900 90, 2020 80, 2110 90" stroke="#fff" stroke-width="150"/>
</g>
<g><rect x="2825.2" y="96.5" width="56.7" height="14" rx="3" fill="#888888"/><rect x="2834.9" y="110" width="37.9" height="14" fill="#89bccc"/><path d="M 2822.6 134.9 Q 2822.6 123.2 2834.3 123.2 L 2873.1 123.2 Q 2884.8 123.2 2884.8 134.9 L 2884.8 214.8 Q 2884.8 218.8 2880.8 218.8 L 2826.6 218.8 Q 2822.6 218.8 2822.6 214.8 Z" fill="#89bccc"/><rect x="2902.8" y="96.5" width="56.7" height="14" rx="3" fill="#888888"/><rect x="2912.4" y="110" width="37.9" height="14" fill="#89bccc"/><path d="M 2900.2 134.9 Q 2900.2 123.2 2911.8 123.2 L 2950.7 123.2 Q 2962.3 123.2 2962.3 134.9 L 2962.3 214.8 Q 2962.3 218.8 2958.3 218.8 L 2904.2 218.8 Q 2900.2 218.8 2900.2 214.8 Z" fill="#89bccc"/><rect x="2980.3" y="96.5" width="56.7" height="14" rx="3" fill="#888888"/><rect x="2990" y="110" width="37.9" height="14" fill="#89bccc"/><path d="M 2977.7 134.9 Q 2977.7 123.2 2989.4 123.2 L 3028.2 123.2 Q 3039.9 123.2 3039.9 134.9 L 3039.9 214.8 Q 3039.9 218.8 3035.9 218.8 L 2981.7 218.8 Q 2977.7 218.8 2977.7 214.8 Z" fill="#89bccc"/><rect x="3057.8" y="96.5" width="56.7" height="14" rx="3" fill="#888888"/><rect x="3067.5" y="110" width="37.9" height="14" fill="#89bccc"/><path d="M 3055.2 134.9 Q 3055.2 123.2 3066.9 123.2 L 3105.8 123.2 Q 3117.4 123.2 3117.4 134.9 L 3117.4 214.8 Q 3117.4 218.8 3113.4 218.8 L 3059.2 218.8 Q 3055.2 218.8 3055.2 214.8 Z" fill="#89bccc"/><rect x="3135.4" y="96.5" width="56.7" height="14" rx="3" fill="#888888"/><rect x="3145.1" y="110" width="37.9" height="14" fill="#89bccc"/><path d="M 3132.8 134.9 Q 3132.8 123.2 3144.5 123.2 L 3183.3 123.2 Q 3195 123.2 3195 134.9 L 3195 214.8 Q 3195 218.8 3191 218.8 L 3136.8 218.8 Q 3132.8 218.8 3132.8 214.8 Z" fill="#89bccc"/><rect x="3212.9" y="96.5" width="56.7" height="14" rx="3" fill="#888888"/><rect x="3222.6" y="110" width="37.9" height="14" fill="#89bccc"/><path d="M 3210.3 134.9 Q 3210.3 123.2 3222 123.2 L 3260.8 123.2 Q 3272.5 123.2 3272.5 134.9 L 3272.5 214.8 Q 3272.5 218.8 3268.5 218.8 L 3214.3 218.8 Q 3210.3 218.8 3210.3 214.8 Z" fill="#89bccc"/><rect x="3290.5" y="96.5" width="56.7" height="14" rx="3" fill="#888888"/><rect x="3300.2" y="110" width="37.9" height="14" fill="#89bccc"/><path d="M 3287.9 134.9 Q 3287.9 123.2 3299.6 123.2 L 3338.4 123.2 Q 3350.1 123.2 3350.1 134.9 L 3350.1 214.8 Q 3350.1 218.8 3346.1 218.8 L 3291.9 218.8 Q 3287.9 218.8 3287.9 214.8 Z" fill="#89bccc"/><rect x="2825.2" y="228.2" width="56.7" height="14" rx="3" fill="#888888"/><rect x="2834.9" y="241.7" width="37.9" height="14" fill="#89bccc"/><path d="M 2822.6 266.6 Q 2822.6 254.9 2834.3 254.9 L 2873.1 254.9 Q 2884.8 254.9 2884.8 266.6 L 2884.8 346.5 Q 2884.8 350.5 2880.8 350.5 L 2826.6 350.5 Q 2822.6 350.5 2822.6 346.5 Z" fill="#89bccc"/><rect x="2902.8" y="228.2" width="56.7" height="14" rx="3" fill="#888888"/><rect x="2912.4" y="241.7" width="37.9" height="14" fill="#89bccc"/><path d="M 2900.2 266.6 Q 2900.2 254.9 2911.8 254.9 L 2950.7 254.9 Q 2962.3 254.9 2962.3 266.6 L 2962.3 346.5 Q 2962.3 350.5 2958.3 350.5 L 2904.2 350.5 Q 2900.2 350.5 2900.2 346.5 Z" fill="#89bccc"/><rect x="2980.3" y="228.2" width="56.7" height="14" rx="3" fill="#888888"/><rect x="2990" y="241.7" width="37.9" height="14" fill="#89bccc"/><path d="M 2977.7 266.6 Q 2977.7 254.9 2989.4 254.9 L 3028.2 254.9 Q 3039.9 254.9 3039.9 266.6 L 3039.9 346.5 Q 3039.9 350.5 3035.9 350.5 L 2981.7 350.5 Q 2977.7 350.5 2977.7 346.5 Z" fill="#89bccc"/><rect x="3057.8" y="228.2" width="56.7" height="14" rx="3" fill="#888888"/><rect x="3067.5" y="241.7" width="37.9" height="14" fill="#89bccc"/><path d="M 3055.2 266.6 Q 3055.2 254.9 3066.9 254.9 L 3105.8 254.9 Q 3117.4 254.9 3117.4 266.6 L 3117.4 346.5 Q 3117.4 350.5 3113.4 350.5 L 3059.2 350.5 Q 3055.2 350.5 3055.2 346.5 Z" fill="#89bccc"/><rect x="3135.4" y="228.2" width="56.7" height="14" rx="3" fill="#888888"/><rect x="3145.1" y="241.7" width="37.9" height="14" fill="#89bccc"/><path d="M 3132.8 266.6 Q 3132.8 254.9 3144.5 254.9 L 3183.3 254.9 Q 3195 254.9 3195 266.6 L 3195 346.5 Q 3195 350.5 3191 350.5 L 3136.8 350.5 Q 3132.8 350.5 3132.8 346.5 Z" fill="#89bccc"/><rect x="3212.9" y="228.2" width="56.7" height="14" rx="3" fill="#888888"/><rect x="3222.6" y="241.7" width="37.9" height="14" fill="#89bccc"/><path d="M 3210.3 266.6 Q 3210.3 254.9 3222 254.9 L 3260.8 254.9 Q 3272.5 254.9 3272.5 266.6 L 3272.5 346.5 Q 3272.5 350.5 3268.5 350.5 L 3214.3 350.5 Q 3210.3 350.5 3210.3 346.5 Z" fill="#89bccc"/><rect x="3290.5" y="228.2" width="56.7" height="14" rx="3" fill="#888888"/><rect x="3300.2" y="241.7" width="37.9" height="14" fill="#89bccc"/><path d="M 3287.9 266.6 Q 3287.9 254.9 3299.6 254.9 L 3338.4 254.9 Q 3350.1 254.9 3350.1 266.6 L 3350.1 346.5 Q 3350.1 350.5 3346.1 350.5 L 3291.9 350.5 Q 3287.9 350.5 3287.9 346.5 Z" fill="#89bccc"/><rect x="2822.8" y="359.9" width="56.7" height="14" rx="3" fill="#888888"/><rect x="2832.5" y="373.4" width="37.9" height="14" fill="#89bccc"/><path d="M 2820.2 398.3 Q 2820.2 386.6 2831.9 386.6 L 2870.7 386.6 Q 2882.4 386.6 2882.4 398.3 L 2882.4 478.2 Q 2882.4 482.2 2878.4 482.2 L 2824.2 482.2 Q 2820.2 482.2 2820.2 478.2 Z" fill="#89bccc"/><rect x="2900.3" y="359.9" width="56.7" height="14" rx="3" fill="#888888"/><rect x="2910" y="373.4" width="37.9" height="14" fill="#89bccc"/><path d="M 2897.8 398.3 Q 2897.8 386.6 2909.4 386.6 L 2948.2 386.6 Q 2959.9 386.6 2959.9 398.3 L 2959.9 478.2 Q 2959.9 482.2 2955.9 482.2 L 2901.8 482.2 Q 2897.8 482.2 2897.8 478.2 Z" fill="#89bccc"/><rect x="2977.9" y="359.9" width="56.7" height="14" rx="3" fill="#888888"/><rect x="2987.6" y="373.4" width="37.9" height="14" fill="#89bccc"/><path d="M 2975.3 398.3 Q 2975.3 386.6 2987 386.6 L 3025.8 386.6 Q 3037.5 386.6 3037.5 398.3 L 3037.5 478.2 Q 3037.5 482.2 3033.5 482.2 L 2979.3 482.2 Q 2975.3 482.2 2975.3 478.2 Z" fill="#89bccc"/><rect x="3055.4" y="359.9" width="56.7" height="14" rx="3" fill="#888888"/><rect x="3065.1" y="373.4" width="37.9" height="14" fill="#89bccc"/><path d="M 3052.8 398.3 Q 3052.8 386.6 3064.5 386.6 L 3103.3 386.6 Q 3115 386.6 3115 398.3 L 3115 478.2 Q 3115 482.2 3111 482.2 L 3056.8 482.2 Q 3052.8 482.2 3052.8 478.2 Z" fill="#89bccc"/><rect x="3133" y="359.9" width="56.7" height="14" rx="3" fill="#888888"/><rect x="3142.7" y="373.4" width="37.9" height="14" fill="#89bccc"/><path d="M 3130.4 398.3 Q 3130.4 386.6 3142.1 386.6 L 3180.9 386.6 Q 3192.6 386.6 3192.6 398.3 L 3192.6 478.2 Q 3192.6 482.2 3188.6 482.2 L 3134.4 482.2 Q 3130.4 482.2 3130.4 478.2 Z" fill="#89bccc"/><rect x="3210.5" y="359.9" width="56.7" height="14" rx="3" fill="#888888"/><rect x="3220.2" y="373.4" width="37.9" height="14" fill="#89bccc"/><path d="M 3207.9 398.3 Q 3207.9 386.6 3219.6 386.6 L 3258.4 386.6 Q 3270.1 386.6 3270.1 398.3 L 3270.1 478.2 Q 3270.1 482.2 3266.1 482.2 L 3211.9 482.2 Q 3207.9 482.2 3207.9 478.2 Z" fill="#89bccc"/><rect x="3288.1" y="359.9" width="56.7" height="14" rx="3" fill="#888888"/><rect x="3297.8" y="373.4" width="37.9" height="14" fill="#89bccc"/><path d="M 3285.5 398.3 Q 3285.5 386.6 3297.2 386.6 L 3336 386.6 Q 3347.7 386.6 3347.7 398.3 L 3347.7 478.2 Q 3347.7 482.2 3343.7 482.2 L 3289.5 482.2 Q 3285.5 482.2 3285.5 478.2 Z" fill="#89bccc"/><rect x="2827.4" y="491.6" width="56.7" height="14" rx="3" fill="#888888"/><rect x="2837.1" y="505.1" width="37.9" height="14" fill="#89bccc"/><path d="M 2824.8 530 Q 2824.8 518.3 2836.5 518.3 L 2875.3 518.3 Q 2887 518.3 2887 530 L 2887 609.9 Q 2887 613.9 2883 613.9 L 2828.8 613.9 Q 2824.8 613.9 2824.8 609.9 Z" fill="#89bccc"/><rect x="2904.9" y="491.6" width="56.7" height="14" rx="3" fill="#888888"/><rect x="2914.6" y="505.1" width="37.9" height="14" fill="#89bccc"/><path d="M 2902.3 530 Q 2902.3 518.3 2914 518.3 L 2952.8 518.3 Q 2964.5 518.3 2964.5 530 L 2964.5 609.9 Q 2964.5 613.9 2960.5 613.9 L 2906.3 613.9 Q 2902.3 613.9 2902.3 609.9 Z" fill="#89bccc"/><rect x="2982.5" y="491.6" width="56.7" height="14" rx="3" fill="#888888"/><rect x="2992.2" y="505.1" width="37.9" height="14" fill="#89bccc"/><path d="M 2979.9 530 Q 2979.9 518.3 2991.6 518.3 L 3030.4 518.3 Q 3042.1 518.3 3042.1 530 L 3042.1 609.9 Q 3042.1 613.9 3038.1 613.9 L 2983.9 613.9 Q 2979.9 613.9 2979.9 609.9 Z" fill="#89bccc"/><rect x="3060" y="491.6" width="56.7" height="14" rx="3" fill="#888888"/><rect x="3069.7" y="505.1" width="37.9" height="14" fill="#89bccc"/><path d="M 3057.4 530 Q 3057.4 518.3 3069.1 518.3 L 3107.9 518.3 Q 3119.6 518.3 3119.6 530 L 3119.6 609.9 Q 3119.6 613.9 3115.6 613.9 L 3061.4 613.9 Q 3057.4 613.9 3057.4 609.9 Z" fill="#89bccc"/><rect x="3137.6" y="491.6" width="56.7" height="14" rx="3" fill="#888888"/><rect x="3147.3" y="505.1" width="37.9" height="14" fill="#89bccc"/><path d="M 3135 530 Q 3135 518.3 3146.7 518.3 L 3185.5 518.3 Q 3197.2 518.3 3197.2 530 L 3197.2 609.9 Q 3197.2 613.9 3193.2 613.9 L 3139 613.9 Q 3135 613.9 3135 609.9 Z" fill="#89bccc"/><rect x="3215.1" y="491.6" width="56.7" height="14" rx="3" fill="#888888"/><rect x="3224.8" y="505.1" width="37.9" height="14" fill="#89bccc"/><path d="M 3212.5 530 Q 3212.5 518.3 3224.2 518.3 L 3263 518.3 Q 3274.7 518.3 3274.7 530 L 3274.7 609.9 Q 3274.7 613.9 3270.7 613.9 L 3216.5 613.9 Q 3212.5 613.9 3212.5 609.9 Z" fill="#89bccc"/><rect x="3292.7" y="491.6" width="56.7" height="14" rx="3" fill="#888888"/><rect x="3302.4" y="505.1" width="37.9" height="14" fill="#89bccc"/><path d="M 3290.1 530 Q 3290.1 518.3 3301.8 518.3 L 3340.6 518.3 Q 3352.3 518.3 3352.3 530 L 3352.3 609.9 Q 3352.3 613.9 3348.3 613.9 L 3294.1 613.9 Q 3290.1 613.9 3290.1 609.9 Z" fill="#89bccc"/><rect x="2827.4" y="623.3" width="56.7" height="14" rx="3" fill="#888888"/><rect x="2837.1" y="636.8" width="37.9" height="14" fill="#89bccc"/><path d="M 2824.8 661.7 Q 2824.8 650 2836.5 650 L 2875.3 650 Q 2887 650 2887 661.7 L 2887 741.6 Q 2887 745.6 2883 745.6 L 2828.8 745.6 Q 2824.8 745.6 2824.8 741.6 Z" fill="#89bccc"/><rect x="2904.9" y="623.3" width="56.7" height="14" rx="3" fill="#888888"/><rect x="2914.6" y="636.8" width="37.9" height="14" fill="#89bccc"/><path d="M 2902.3 661.7 Q 2902.3 650 2914 650 L 2952.8 650 Q 2964.5 650 2964.5 661.7 L 2964.5 741.6 Q 2964.5 745.6 2960.5 745.6 L 2906.3 745.6 Q 2902.3 745.6 2902.3 741.6 Z" fill="#89bccc"/><rect x="2982.5" y="623.3" width="56.7" height="14" rx="3" fill="#888888"/><rect x="2992.2" y="636.8" width="37.9" height="14" fill="#89bccc"/><path d="M 2979.9 661.7 Q 2979.9 650 2991.6 650 L 3030.4 650 Q 3042.1 650 3042.1 661.7 L 3042.1 741.6 Q 3042.1 745.6 3038.1 745.6 L 2983.9 745.6 Q 2979.9 745.6 2979.9 741.6 Z" fill="#89bccc"/><rect x="3060" y="623.3" width="56.7" height="14" rx="3" fill="#888888"/><rect x="3069.7" y="636.8" width="37.9" height="14" fill="#89bccc"/><path d="M 3057.4 661.7 Q 3057.4 650 3069.1 650 L 3107.9 650 Q 3119.6 650 3119.6 661.7 L 3119.6 741.6 Q 3119.6 745.6 3115.6 745.6 L 3061.4 745.6 Q 3057.4 745.6 3057.4 741.6 Z" fill="#89bccc"/><rect x="3137.6" y="623.3" width="56.7" height="14" rx="3" fill="#888888"/><rect x="3147.3" y="636.8" width="37.9" height="14" fill="#89bccc"/><path d="M 3135 661.7 Q 3135 650 3146.7 650 L 3185.5 650 Q 3197.2 650 3197.2 661.7 L 3197.2 741.6 Q 3197.2 745.6 3193.2 745.6 L 3139 745.6 Q 3135 745.6 3135 741.6 Z" fill="#89bccc"/><rect x="3215.1" y="623.3" width="56.7" height="14" rx="3" fill="#888888"/><rect x="3224.8" y="636.8" width="37.9" height="14" fill="#89bccc"/><path d="M 3212.5 661.7 Q 3212.5 650 3224.2 650 L 3263 650 Q 3274.7 650 3274.7 661.7 L 3274.7 741.6 Q 3274.7 745.6 3270.7 745.6 L 3216.5 745.6 Q 3212.5 745.6 3212.5 741.6 Z" fill="#89bccc"/><rect x="3292.7" y="623.3" width="56.7" height="14" rx="3" fill="#888888"/><rect x="3302.4" y="636.8" width="37.9" height="14" fill="#89bccc"/><path d="M 3290.1 661.7 Q 3290.1 650 3301.8 650 L 3340.6 650 Q 3352.3 650 3352.3 661.7 L 3352.3 741.6 Q 3352.3 745.6 3348.3 745.6 L 3294.1 745.6 Q 3290.1 745.6 3290.1 741.6 Z" fill="#89bccc"/></g>
<g><rect x="2867" y="138.2" width="56.7" height="14" rx="3" fill="#9e9e9e"/><rect x="2876.7" y="151.7" width="37.9" height="14" fill="#a7d4e3"/><path d="M 2864.4 176.6 Q 2864.4 164.9 2876.1 164.9 L 2914.9 164.9 Q 2926.6 164.9 2926.6 176.6 L 2926.6 256.5 Q 2926.6 260.5 2922.6 260.5 L 2868.4 260.5 Q 2864.4 260.5 2864.4 256.5 Z" fill="#a7d4e3"/><rect x="2944.6" y="138.2" width="56.7" height="14" rx="3" fill="#9e9e9e"/><rect x="2954.2" y="151.7" width="37.9" height="14" fill="#a7d4e3"/><path d="M 2942 176.6 Q 2942 164.9 2953.7 164.9 L 2992.5 164.9 Q 3004.2 164.9 3004.2 176.6 L 3004.2 256.5 Q 3004.2 260.5 3000.2 260.5 L 2946 260.5 Q 2942 260.5 2942 256.5 Z" fill="#a7d4e3"/><rect x="3022.1" y="138.2" width="56.7" height="14" rx="3" fill="#9e9e9e"/><rect x="3031.8" y="151.7" width="37.9" height="14" fill="#a7d4e3"/><path d="M 3019.5 176.6 Q 3019.5 164.9 3031.2 164.9 L 3070 164.9 Q 3081.7 164.9 3081.7 176.6 L 3081.7 256.5 Q 3081.7 260.5 3077.7 260.5 L 3023.5 260.5 Q 3019.5 260.5 3019.5 256.5 Z" fill="#a7d4e3"/><rect x="3099.7" y="138.2" width="56.7" height="14" rx="3" fill="#9e9e9e"/><rect x="3109.3" y="151.7" width="37.9" height="14" fill="#a7d4e3"/><path d="M 3097.1 176.6 Q 3097.1 164.9 3108.8 164.9 L 3147.6 164.9 Q 3159.2 164.9 3159.2 176.6 L 3159.2 256.5 Q 3159.2 260.5 3155.2 260.5 L 3101.1 260.5 Q 3097.1 260.5 3097.1 256.5 Z" fill="#a7d4e3"/><rect x="3177.2" y="138.2" width="56.7" height="14" rx="3" fill="#9e9e9e"/><rect x="3186.9" y="151.7" width="37.9" height="14" fill="#a7d4e3"/><path d="M 3174.6 176.6 Q 3174.6 164.9 3186.3 164.9 L 3225.1 164.9 Q 3236.8 164.9 3236.8 176.6 L 3236.8 256.5 Q 3236.8 260.5 3232.8 260.5 L 3178.6 260.5 Q 3174.6 260.5 3174.6 256.5 Z" fill="#a7d4e3"/><rect x="3254.8" y="138.2" width="56.7" height="14" rx="3" fill="#9e9e9e"/><rect x="3264.4" y="151.7" width="37.9" height="14" fill="#a7d4e3"/><path d="M 3252.2 176.6 Q 3252.2 164.9 3263.8 164.9 L 3302.7 164.9 Q 3314.3 164.9 3314.3 176.6 L 3314.3 256.5 Q 3314.3 260.5 3310.3 260.5 L 3256.2 260.5 Q 3252.2 260.5 3252.2 256.5 Z" fill="#a7d4e3"/><rect x="3332.3" y="138.2" width="56.7" height="14" rx="3" fill="#9e9e9e"/><rect x="3342" y="151.7" width="37.9" height="14" fill="#a7d4e3"/><path d="M 3329.7 176.6 Q 3329.7 164.9 3341.4 164.9 L 3380.2 164.9 Q 3391.9 164.9 3391.9 176.6 L 3391.9 256.5 Q 3391.9 260.5 3387.9 260.5 L 3333.7 260.5 Q 3329.7 260.5 3329.7 256.5 Z" fill="#a7d4e3"/><rect x="2867" y="269.9" width="56.7" height="14" rx="3" fill="#9e9e9e"/><rect x="2876.7" y="283.4" width="37.9" height="14" fill="#a7d4e3"/><path d="M 2864.4 308.3 Q 2864.4 296.6 2876.1 296.6 L 2914.9 296.6 Q 2926.6 296.6 2926.6 308.3 L 2926.6 388.2 Q 2926.6 392.2 2922.6 392.2 L 2868.4 392.2 Q 2864.4 392.2 2864.4 388.2 Z" fill="#a7d4e3"/><rect x="2944.6" y="269.9" width="56.7" height="14" rx="3" fill="#9e9e9e"/><rect x="2954.2" y="283.4" width="37.9" height="14" fill="#a7d4e3"/><path d="M 2942 308.3 Q 2942 296.6 2953.7 296.6 L 2992.5 296.6 Q 3004.2 296.6 3004.2 308.3 L 3004.2 388.2 Q 3004.2 392.2 3000.2 392.2 L 2946 392.2 Q 2942 392.2 2942 388.2 Z" fill="#a7d4e3"/><rect x="3022.1" y="269.9" width="56.7" height="14" rx="3" fill="#9e9e9e"/><rect x="3031.8" y="283.4" width="37.9" height="14" fill="#a7d4e3"/><path d="M 3019.5 308.3 Q 3019.5 296.6 3031.2 296.6 L 3070 296.6 Q 3081.7 296.6 3081.7 308.3 L 3081.7 388.2 Q 3081.7 392.2 3077.7 392.2 L 3023.5 392.2 Q 3019.5 392.2 3019.5 388.2 Z" fill="#a7d4e3"/><rect x="3099.7" y="269.9" width="56.7" height="14" rx="3" fill="#9e9e9e"/><rect x="3109.3" y="283.4" width="37.9" height="14" fill="#a7d4e3"/><path d="M 3097.1 308.3 Q 3097.1 296.6 3108.8 296.6 L 3147.6 296.6 Q 3159.2 296.6 3159.2 308.3 L 3159.2 388.2 Q 3159.2 392.2 3155.2 392.2 L 3101.1 392.2 Q 3097.1 392.2 3097.1 388.2 Z" fill="#a7d4e3"/><rect x="3177.2" y="269.9" width="56.7" height="14" rx="3" fill="#9e9e9e"/><rect x="3186.9" y="283.4" width="37.9" height="14" fill="#a7d4e3"/><path d="M 3174.6 308.3 Q 3174.6 296.6 3186.3 296.6 L 3225.1 296.6 Q 3236.8 296.6 3236.8 308.3 L 3236.8 388.2 Q 3236.8 392.2 3232.8 392.2 L 3178.6 392.2 Q 3174.6 392.2 3174.6 388.2 Z" fill="#a7d4e3"/><rect x="3254.8" y="269.9" width="56.7" height="14" rx="3" fill="#9e9e9e"/><rect x="3264.4" y="283.4" width="37.9" height="14" fill="#a7d4e3"/><path d="M 3252.2 308.3 Q 3252.2 296.6 3263.8 296.6 L 3302.7 296.6 Q 3314.3 296.6 3314.3 308.3 L 3314.3 388.2 Q 3314.3 392.2 3310.3 392.2 L 3256.2 392.2 Q 3252.2 392.2 3252.2 388.2 Z" fill="#a7d4e3"/><rect x="3332.3" y="269.9" width="56.7" height="14" rx="3" fill="#9e9e9e"/><rect x="3342" y="283.4" width="37.9" height="14" fill="#a7d4e3"/><path d="M 3329.7 308.3 Q 3329.7 296.6 3341.4 296.6 L 3380.2 296.6 Q 3391.9 296.6 3391.9 308.3 L 3391.9 388.2 Q 3391.9 392.2 3387.9 392.2 L 3333.7 392.2 Q 3329.7 392.2 3329.7 388.2 Z" fill="#a7d4e3"/><rect x="2864.6" y="401.6" width="56.7" height="14" rx="3" fill="#9e9e9e"/><rect x="2874.3" y="415.1" width="37.9" height="14" fill="#a7d4e3"/><path d="M 2862 440 Q 2862 428.3 2873.7 428.3 L 2912.5 428.3 Q 2924.2 428.3 2924.2 440 L 2924.2 519.9 Q 2924.2 523.9 2920.2 523.9 L 2866 523.9 Q 2862 523.9 2862 519.9 Z" fill="#a7d4e3"/><rect x="2942.2" y="401.6" width="56.7" height="14" rx="3" fill="#9e9e9e"/><rect x="2951.8" y="415.1" width="37.9" height="14" fill="#a7d4e3"/><path d="M 2939.6 440 Q 2939.6 428.3 2951.2 428.3 L 2990.1 428.3 Q 3001.8 428.3 3001.8 440 L 3001.8 519.9 Q 3001.8 523.9 2997.8 523.9 L 2943.6 523.9 Q 2939.6 523.9 2939.6 519.9 Z" fill="#a7d4e3"/><rect x="3019.7" y="401.6" width="56.7" height="14" rx="3" fill="#9e9e9e"/><rect x="3029.4" y="415.1" width="37.9" height="14" fill="#a7d4e3"/><path d="M 3017.1 440 Q 3017.1 428.3 3028.8 428.3 L 3067.6 428.3 Q 3079.3 428.3 3079.3 440 L 3079.3 519.9 Q 3079.3 523.9 3075.3 523.9 L 3021.1 523.9 Q 3017.1 523.9 3017.1 519.9 Z" fill="#a7d4e3"/><rect x="3097.2" y="401.6" width="56.7" height="14" rx="3" fill="#9e9e9e"/><rect x="3106.9" y="415.1" width="37.9" height="14" fill="#a7d4e3"/><path d="M 3094.7 440 Q 3094.7 428.3 3106.3 428.3 L 3145.2 428.3 Q 3156.8 428.3 3156.8 440 L 3156.8 519.9 Q 3156.8 523.9 3152.8 523.9 L 3098.7 523.9 Q 3094.7 523.9 3094.7 519.9 Z" fill="#a7d4e3"/><rect x="3174.8" y="401.6" width="56.7" height="14" rx="3" fill="#9e9e9e"/><rect x="3184.5" y="415.1" width="37.9" height="14" fill="#a7d4e3"/><path d="M 3172.2 440 Q 3172.2 428.3 3183.9 428.3 L 3222.7 428.3 Q 3234.4 428.3 3234.4 440 L 3234.4 519.9 Q 3234.4 523.9 3230.4 523.9 L 3176.2 523.9 Q 3172.2 523.9 3172.2 519.9 Z" fill="#a7d4e3"/><rect x="3252.3" y="401.6" width="56.7" height="14" rx="3" fill="#9e9e9e"/><rect x="3262" y="415.1" width="37.9" height="14" fill="#a7d4e3"/><path d="M 3249.8 440 Q 3249.8 428.3 3261.4 428.3 L 3300.2 428.3 Q 3311.9 428.3 3311.9 440 L 3311.9 519.9 Q 3311.9 523.9 3307.9 523.9 L 3253.8 523.9 Q 3249.8 523.9 3249.8 519.9 Z" fill="#a7d4e3"/><rect x="3329.9" y="401.6" width="56.7" height="14" rx="3" fill="#9e9e9e"/><rect x="3339.6" y="415.1" width="37.9" height="14" fill="#a7d4e3"/><path d="M 3327.3 440 Q 3327.3 428.3 3339 428.3 L 3377.8 428.3 Q 3389.5 428.3 3389.5 440 L 3389.5 519.9 Q 3389.5 523.9 3385.5 523.9 L 3331.3 523.9 Q 3327.3 523.9 3327.3 519.9 Z" fill="#a7d4e3"/><rect x="2869.2" y="533.3" width="56.7" height="14" rx="3" fill="#9e9e9e"/><rect x="2878.9" y="546.8" width="37.9" height="14" fill="#a7d4e3"/><path d="M 2866.6 571.7 Q 2866.6 560 2878.3 560 L 2917.1 560 Q 2928.8 560 2928.8 571.7 L 2928.8 651.6 Q 2928.8 655.6 2924.8 655.6 L 2870.6 655.6 Q 2866.6 655.6 2866.6 651.6 Z" fill="#a7d4e3"/><rect x="2946.8" y="533.3" width="56.7" height="14" rx="3" fill="#9e9e9e"/><rect x="2956.4" y="546.8" width="37.9" height="14" fill="#a7d4e3"/><path d="M 2944.2 571.7 Q 2944.2 560 2955.8 560 L 2994.7 560 Q 3006.3 560 3006.3 571.7 L 3006.3 651.6 Q 3006.3 655.6 3002.3 655.6 L 2948.2 655.6 Q 2944.2 655.6 2944.2 651.6 Z" fill="#a7d4e3"/><rect x="3024.3" y="533.3" width="56.7" height="14" rx="3" fill="#9e9e9e"/><rect x="3034" y="546.8" width="37.9" height="14" fill="#a7d4e3"/><path d="M 3021.7 571.7 Q 3021.7 560 3033.4 560 L 3072.2 560 Q 3083.9 560 3083.9 571.7 L 3083.9 651.6 Q 3083.9 655.6 3079.9 655.6 L 3025.7 655.6 Q 3021.7 655.6 3021.7 651.6 Z" fill="#a7d4e3"/><rect x="3101.8" y="533.3" width="56.7" height="14" rx="3" fill="#9e9e9e"/><rect x="3111.5" y="546.8" width="37.9" height="14" fill="#a7d4e3"/><path d="M 3099.2 571.7 Q 3099.2 560 3110.9 560 L 3149.8 560 Q 3161.4 560 3161.4 571.7 L 3161.4 651.6 Q 3161.4 655.6 3157.4 655.6 L 3103.2 655.6 Q 3099.2 655.6 3099.2 651.6 Z" fill="#a7d4e3"/><rect x="3179.4" y="533.3" width="56.7" height="14" rx="3" fill="#9e9e9e"/><rect x="3189.1" y="546.8" width="37.9" height="14" fill="#a7d4e3"/><path d="M 3176.8 571.7 Q 3176.8 560 3188.5 560 L 3227.3 560 Q 3239 560 3239 571.7 L 3239 651.6 Q 3239 655.6 3235 655.6 L 3180.8 655.6 Q 3176.8 655.6 3176.8 651.6 Z" fill="#a7d4e3"/><rect x="3256.9" y="533.3" width="56.7" height="14" rx="3" fill="#9e9e9e"/><rect x="3266.6" y="546.8" width="37.9" height="14" fill="#a7d4e3"/><path d="M 3254.3 571.7 Q 3254.3 560 3266 560 L 3304.8 560 Q 3316.5 560 3316.5 571.7 L 3316.5 651.6 Q 3316.5 655.6 3312.5 655.6 L 3258.3 655.6 Q 3254.3 655.6 3254.3 651.6 Z" fill="#a7d4e3"/><rect x="3334.5" y="533.3" width="56.7" height="14" rx="3" fill="#9e9e9e"/><rect x="3344.2" y="546.8" width="37.9" height="14" fill="#a7d4e3"/><path d="M 3331.9 571.7 Q 3331.9 560 3343.6 560 L 3382.4 560 Q 3394.1 560 3394.1 571.7 L 3394.1 651.6 Q 3394.1 655.6 3390.1 655.6 L 3335.9 655.6 Q 3331.9 655.6 3331.9 651.6 Z" fill="#a7d4e3"/><rect x="2869.2" y="665" width="56.7" height="14" rx="3" fill="#9e9e9e"/><rect x="2878.9" y="678.5" width="37.9" height="14" fill="#a7d4e3"/><path d="M 2866.6 703.4 Q 2866.6 691.7 2878.3 691.7 L 2917.1 691.7 Q 2928.8 691.7 2928.8 703.4 L 2928.8 783.3 Q 2928.8 787.3 2924.8 787.3 L 2870.6 787.3 Q 2866.6 787.3 2866.6 783.3 Z" fill="#a7d4e3"/><rect x="2946.8" y="665" width="56.7" height="14" rx="3" fill="#9e9e9e"/><rect x="2956.4" y="678.5" width="37.9" height="14" fill="#a7d4e3"/><path d="M 2944.2 703.4 Q 2944.2 691.7 2955.8 691.7 L 2994.7 691.7 Q 3006.3 691.7 3006.3 703.4 L 3006.3 783.3 Q 3006.3 787.3 3002.3 787.3 L 2948.2 787.3 Q 2944.2 787.3 2944.2 783.3 Z" fill="#a7d4e3"/><rect x="3024.3" y="665" width="56.7" height="14" rx="3" fill="#9e9e9e"/><rect x="3034" y="678.5" width="37.9" height="14" fill="#a7d4e3"/><path d="M 3021.7 703.4 Q 3021.7 691.7 3033.4 691.7 L 3072.2 691.7 Q 3083.9 691.7 3083.9 703.4 L 3083.9 783.3 Q 3083.9 787.3 3079.9 787.3 L 3025.7 787.3 Q 3021.7 787.3 3021.7 783.3 Z" fill="#a7d4e3"/><rect x="3101.8" y="665" width="56.7" height="14" rx="3" fill="#9e9e9e"/><rect x="3111.5" y="678.5" width="37.9" height="14" fill="#a7d4e3"/><path d="M 3099.2 703.4 Q 3099.2 691.7 3110.9 691.7 L 3149.8 691.7 Q 3161.4 691.7 3161.4 703.4 L 3161.4 783.3 Q 3161.4 787.3 3157.4 787.3 L 3103.2 787.3 Q 3099.2 787.3 3099.2 783.3 Z" fill="#a7d4e3"/><rect x="3179.4" y="665" width="56.7" height="14" rx="3" fill="#9e9e9e"/><rect x="3189.1" y="678.5" width="37.9" height="14" fill="#a7d4e3"/><path d="M 3176.8 703.4 Q 3176.8 691.7 3188.5 691.7 L 3227.3 691.7 Q 3239 691.7 3239 703.4 L 3239 783.3 Q 3239 787.3 3235 787.3 L 3180.8 787.3 Q 3176.8 787.3 3176.8 783.3 Z" fill="#a7d4e3"/><rect x="3256.9" y="665" width="56.7" height="14" rx="3" fill="#9e9e9e"/><rect x="3266.6" y="678.5" width="37.9" height="14" fill="#a7d4e3"/><path d="M 3254.3 703.4 Q 3254.3 691.7 3266 691.7 L 3304.8 691.7 Q 3316.5 691.7 3316.5 703.4 L 3316.5 783.3 Q 3316.5 787.3 3312.5 787.3 L 3258.3 787.3 Q 3254.3 787.3 3254.3 783.3 Z" fill="#a7d4e3"/><rect x="3334.5" y="665" width="56.7" height="14" rx="3" fill="#9e9e9e"/><rect x="3344.2" y="678.5" width="37.9" height="14" fill="#a7d4e3"/><path d="M 3331.9 703.4 Q 3331.9 691.7 3343.6 691.7 L 3382.4 691.7 Q 3394.1 691.7 3394.1 703.4 L 3394.1 783.3 Q 3394.1 787.3 3390.1 787.3 L 3335.9 787.3 Q 3331.9 787.3 3331.9 783.3 Z" fill="#a7d4e3"/></g>
<g><rect x="2908.8" y="179.9" width="56.7" height="14" rx="3" fill="#b0b0b0"/><rect x="2918.5" y="193.4" width="37.9" height="14" fill="#d4eaf4"/><path d="M 2906.2 218.3 Q 2906.2 206.6 2917.9 206.6 L 2956.7 206.6 Q 2968.4 206.6 2968.4 218.3 L 2968.4 298.2 Q 2968.4 302.2 2964.4 302.2 L 2910.2 302.2 Q 2906.2 302.2 2906.2 298.2 Z" fill="#d4eaf4"/><rect x="2986.4" y="179.9" width="56.7" height="14" rx="3" fill="#b0b0b0"/><rect x="2996.1" y="193.4" width="37.9" height="14" fill="#d4eaf4"/><path d="M 2983.8 218.3 Q 2983.8 206.6 2995.5 206.6 L 3034.3 206.6 Q 3046 206.6 3046 218.3 L 3046 298.2 Q 3046 302.2 3042 302.2 L 2987.8 302.2 Q 2983.8 302.2 2983.8 298.2 Z" fill="#d4eaf4"/><rect x="3063.9" y="179.9" width="56.7" height="14" rx="3" fill="#b0b0b0"/><rect x="3073.6" y="193.4" width="37.9" height="14" fill="#d4eaf4"/><path d="M 3061.3 218.3 Q 3061.3 206.6 3073 206.6 L 3111.8 206.6 Q 3123.5 206.6 3123.5 218.3 L 3123.5 298.2 Q 3123.5 302.2 3119.5 302.2 L 3065.3 302.2 Q 3061.3 302.2 3061.3 298.2 Z" fill="#d4eaf4"/><rect x="3141.5" y="179.9" width="56.7" height="14" rx="3" fill="#b0b0b0"/><rect x="3151.2" y="193.4" width="37.9" height="14" fill="#d4eaf4"/><path d="M 3138.9 218.3 Q 3138.9 206.6 3150.6 206.6 L 3189.4 206.6 Q 3201.1 206.6 3201.1 218.3 L 3201.1 298.2 Q 3201.1 302.2 3197.1 302.2 L 3142.9 302.2 Q 3138.9 302.2 3138.9 298.2 Z" fill="#d4eaf4"/><rect x="3219" y="179.9" width="56.7" height="14" rx="3" fill="#b0b0b0"/><rect x="3228.7" y="193.4" width="37.9" height="14" fill="#d4eaf4"/><path d="M 3216.4 218.3 Q 3216.4 206.6 3228.1 206.6 L 3266.9 206.6 Q 3278.6 206.6 3278.6 218.3 L 3278.6 298.2 Q 3278.6 302.2 3274.6 302.2 L 3220.4 302.2 Q 3216.4 302.2 3216.4 298.2 Z" fill="#d4eaf4"/><rect x="3296.6" y="179.9" width="56.7" height="14" rx="3" fill="#b0b0b0"/><rect x="3306.2" y="193.4" width="37.9" height="14" fill="#d4eaf4"/><path d="M 3294 218.3 Q 3294 206.6 3305.7 206.6 L 3344.5 206.6 Q 3356.2 206.6 3356.2 218.3 L 3356.2 298.2 Q 3356.2 302.2 3352.2 302.2 L 3298 302.2 Q 3294 302.2 3294 298.2 Z" fill="#d4eaf4"/><rect x="3374.1" y="179.9" width="56.7" height="14" rx="3" fill="#b0b0b0"/><rect x="3383.8" y="193.4" width="37.9" height="14" fill="#d4eaf4"/><path d="M 3371.5 218.3 Q 3371.5 206.6 3383.2 206.6 L 3422 206.6 Q 3433.7 206.6 3433.7 218.3 L 3433.7 298.2 Q 3433.7 302.2 3429.7 302.2 L 3375.5 302.2 Q 3371.5 302.2 3371.5 298.2 Z" fill="#d4eaf4"/><rect x="2908.8" y="311.6" width="56.7" height="14" rx="3" fill="#b0b0b0"/><rect x="2918.5" y="325.1" width="37.9" height="14" fill="#d4eaf4"/><path d="M 2906.2 350 Q 2906.2 338.3 2917.9 338.3 L 2956.7 338.3 Q 2968.4 338.3 2968.4 350 L 2968.4 429.9 Q 2968.4 433.9 2964.4 433.9 L 2910.2 433.9 Q 2906.2 433.9 2906.2 429.9 Z" fill="#d4eaf4"/><rect x="2986.4" y="311.6" width="56.7" height="14" rx="3" fill="#b0b0b0"/><rect x="2996.1" y="325.1" width="37.9" height="14" fill="#d4eaf4"/><path d="M 2983.8 350 Q 2983.8 338.3 2995.5 338.3 L 3034.3 338.3 Q 3046 338.3 3046 350 L 3046 429.9 Q 3046 433.9 3042 433.9 L 2987.8 433.9 Q 2983.8 433.9 2983.8 429.9 Z" fill="#d4eaf4"/><rect x="3063.9" y="311.6" width="56.7" height="14" rx="3" fill="#b0b0b0"/><rect x="3073.6" y="325.1" width="37.9" height="14" fill="#d4eaf4"/><path d="M 3061.3 350 Q 3061.3 338.3 3073 338.3 L 3111.8 338.3 Q 3123.5 338.3 3123.5 350 L 3123.5 429.9 Q 3123.5 433.9 3119.5 433.9 L 3065.3 433.9 Q 3061.3 433.9 3061.3 429.9 Z" fill="#d4eaf4"/><rect x="3141.5" y="311.6" width="56.7" height="14" rx="3" fill="#b0b0b0"/><rect x="3151.2" y="325.1" width="37.9" height="14" fill="#d4eaf4"/><path d="M 3138.9 350 Q 3138.9 338.3 3150.6 338.3 L 3189.4 338.3 Q 3201.1 338.3 3201.1 350 L 3201.1 429.9 Q 3201.1 433.9 3197.1 433.9 L 3142.9 433.9 Q 3138.9 433.9 3138.9 429.9 Z" fill="#d4eaf4"/><rect x="3219" y="311.6" width="56.7" height="14" rx="3" fill="#b0b0b0"/><rect x="3228.7" y="325.1" width="37.9" height="14" fill="#d4eaf4"/><path d="M 3216.4 350 Q 3216.4 338.3 3228.1 338.3 L 3266.9 338.3 Q 3278.6 338.3 3278.6 350 L 3278.6 429.9 Q 3278.6 433.9 3274.6 433.9 L 3220.4 433.9 Q 3216.4 433.9 3216.4 429.9 Z" fill="#d4eaf4"/><rect x="3296.6" y="311.6" width="56.7" height="14" rx="3" fill="#b0b0b0"/><rect x="3306.2" y="325.1" width="37.9" height="14" fill="#d4eaf4"/><path d="M 3294 350 Q 3294 338.3 3305.7 338.3 L 3344.5 338.3 Q 3356.2 338.3 3356.2 350 L 3356.2 429.9 Q 3356.2 433.9 3352.2 433.9 L 3298 433.9 Q 3294 433.9 3294 429.9 Z" fill="#d4eaf4"/><rect x="3374.1" y="311.6" width="56.7" height="14" rx="3" fill="#b0b0b0"/><rect x="3383.8" y="325.1" width="37.9" height="14" fill="#d4eaf4"/><path d="M 3371.5 350 Q 3371.5 338.3 3383.2 338.3 L 3422 338.3 Q 3433.7 338.3 3433.7 350 L 3433.7 429.9 Q 3433.7 433.9 3429.7 433.9 L 3375.5 433.9 Q 3371.5 433.9 3371.5 429.9 Z" fill="#d4eaf4"/><rect x="2906.4" y="443.3" width="56.7" height="14" rx="3" fill="#b0b0b0"/><rect x="2916.1" y="456.8" width="37.9" height="14" fill="#d4eaf4"/><path d="M 2903.8 481.7 Q 2903.8 470 2915.5 470 L 2954.3 470 Q 2966 470 2966 481.7 L 2966 561.6 Q 2966 565.6 2962 565.6 L 2907.8 565.6 Q 2903.8 565.6 2903.8 561.6 Z" fill="#d4eaf4"/><rect x="2984" y="443.3" width="56.7" height="14" rx="3" fill="#b0b0b0"/><rect x="2993.7" y="456.8" width="37.9" height="14" fill="#d4eaf4"/><path d="M 2981.4 481.7 Q 2981.4 470 2993.1 470 L 3031.9 470 Q 3043.6 470 3043.6 481.7 L 3043.6 561.6 Q 3043.6 565.6 3039.6 565.6 L 2985.4 565.6 Q 2981.4 565.6 2981.4 561.6 Z" fill="#d4eaf4"/><rect x="3061.5" y="443.3" width="56.7" height="14" rx="3" fill="#b0b0b0"/><rect x="3071.2" y="456.8" width="37.9" height="14" fill="#d4eaf4"/><path d="M 3058.9 481.7 Q 3058.9 470 3070.6 470 L 3109.4 470 Q 3121.1 470 3121.1 481.7 L 3121.1 561.6 Q 3121.1 565.6 3117.1 565.6 L 3062.9 565.6 Q 3058.9 565.6 3058.9 561.6 Z" fill="#d4eaf4"/><rect x="3139.1" y="443.3" width="56.7" height="14" rx="3" fill="#b0b0b0"/><rect x="3148.8" y="456.8" width="37.9" height="14" fill="#d4eaf4"/><path d="M 3136.5 481.7 Q 3136.5 470 3148.2 470 L 3187 470 Q 3198.7 470 3198.7 481.7 L 3198.7 561.6 Q 3198.7 565.6 3194.7 565.6 L 3140.5 565.6 Q 3136.5 565.6 3136.5 561.6 Z" fill="#d4eaf4"/><rect x="3216.6" y="443.3" width="56.7" height="14" rx="3" fill="#b0b0b0"/><rect x="3226.3" y="456.8" width="37.9" height="14" fill="#d4eaf4"/><path d="M 3214 481.7 Q 3214 470 3225.7 470 L 3264.5 470 Q 3276.2 470 3276.2 481.7 L 3276.2 561.6 Q 3276.2 565.6 3272.2 565.6 L 3218 565.6 Q 3214 565.6 3214 561.6 Z" fill="#d4eaf4"/><rect x="3294.2" y="443.3" width="56.7" height="14" rx="3" fill="#b0b0b0"/><rect x="3303.8" y="456.8" width="37.9" height="14" fill="#d4eaf4"/><path d="M 3291.6 481.7 Q 3291.6 470 3303.2 470 L 3342.1 470 Q 3353.8 470 3353.8 481.7 L 3353.8 561.6 Q 3353.8 565.6 3349.8 565.6 L 3295.6 565.6 Q 3291.6 565.6 3291.6 561.6 Z" fill="#d4eaf4"/><rect x="3371.7" y="443.3" width="56.7" height="14" rx="3" fill="#b0b0b0"/><rect x="3381.4" y="456.8" width="37.9" height="14" fill="#d4eaf4"/><path d="M 3369.1 481.7 Q 3369.1 470 3380.8 470 L 3419.6 470 Q 3431.3 470 3431.3 481.7 L 3431.3 561.6 Q 3431.3 565.6 3427.3 565.6 L 3373.1 565.6 Q 3369.1 565.6 3369.1 561.6 Z" fill="#d4eaf4"/><rect x="2911" y="575" width="56.7" height="14" rx="3" fill="#b0b0b0"/><rect x="2920.7" y="588.5" width="37.9" height="14" fill="#d4eaf4"/><path d="M 2908.4 613.4 Q 2908.4 601.7 2920.1 601.7 L 2958.9 601.7 Q 2970.6 601.7 2970.6 613.4 L 2970.6 693.3 Q 2970.6 697.3 2966.6 697.3 L 2912.4 697.3 Q 2908.4 697.3 2908.4 693.3 Z" fill="#d4eaf4"/><rect x="2988.6" y="575" width="56.7" height="14" rx="3" fill="#b0b0b0"/><rect x="2998.2" y="588.5" width="37.9" height="14" fill="#d4eaf4"/><path d="M 2986 613.4 Q 2986 601.7 2997.7 601.7 L 3036.5 601.7 Q 3048.2 601.7 3048.2 613.4 L 3048.2 693.3 Q 3048.2 697.3 3044.2 697.3 L 2990 697.3 Q 2986 697.3 2986 693.3 Z" fill="#d4eaf4"/><rect x="3066.1" y="575" width="56.7" height="14" rx="3" fill="#b0b0b0"/><rect x="3075.8" y="588.5" width="37.9" height="14" fill="#d4eaf4"/><path d="M 3063.5 613.4 Q 3063.5 601.7 3075.2 601.7 L 3114 601.7 Q 3125.7 601.7 3125.7 613.4 L 3125.7 693.3 Q 3125.7 697.3 3121.7 697.3 L 3067.5 697.3 Q 3063.5 697.3 3063.5 693.3 Z" fill="#d4eaf4"/><rect x="3143.7" y="575" width="56.7" height="14" rx="3" fill="#b0b0b0"/><rect x="3153.3" y="588.5" width="37.9" height="14" fill="#d4eaf4"/><path d="M 3141.1 613.4 Q 3141.1 601.7 3152.8 601.7 L 3191.6 601.7 Q 3203.2 601.7 3203.2 613.4 L 3203.2 693.3 Q 3203.2 697.3 3199.2 697.3 L 3145.1 697.3 Q 3141.1 697.3 3141.1 693.3 Z" fill="#d4eaf4"/><rect x="3221.2" y="575" width="56.7" height="14" rx="3" fill="#b0b0b0"/><rect x="3230.9" y="588.5" width="37.9" height="14" fill="#d4eaf4"/><path d="M 3218.6 613.4 Q 3218.6 601.7 3230.3 601.7 L 3269.1 601.7 Q 3280.8 601.7 3280.8 613.4 L 3280.8 693.3 Q 3280.8 697.3 3276.8 697.3 L 3222.6 697.3 Q 3218.6 697.3 3218.6 693.3 Z" fill="#d4eaf4"/><rect x="3298.8" y="575" width="56.7" height="14" rx="3" fill="#b0b0b0"/><rect x="3308.4" y="588.5" width="37.9" height="14" fill="#d4eaf4"/><path d="M 3296.2 613.4 Q 3296.2 601.7 3307.8 601.7 L 3346.7 601.7 Q 3358.3 601.7 3358.3 613.4 L 3358.3 693.3 Q 3358.3 697.3 3354.3 697.3 L 3300.2 697.3 Q 3296.2 697.3 3296.2 693.3 Z" fill="#d4eaf4"/><rect x="3376.3" y="575" width="56.7" height="14" rx="3" fill="#b0b0b0"/><rect x="3386" y="588.5" width="37.9" height="14" fill="#d4eaf4"/><path d="M 3373.7 613.4 Q 3373.7 601.7 3385.4 601.7 L 3424.2 601.7 Q 3435.9 601.7 3435.9 613.4 L 3435.9 693.3 Q 3435.9 697.3 3431.9 697.3 L 3377.7 697.3 Q 3373.7 697.3 3373.7 693.3 Z" fill="#d4eaf4"/><rect x="2911" y="706.7" width="56.7" height="14" rx="3" fill="#b0b0b0"/><rect x="2920.7" y="720.2" width="37.9" height="14" fill="#d4eaf4"/><path d="M 2908.4 745.1 Q 2908.4 733.4 2920.1 733.4 L 2958.9 733.4 Q 2970.6 733.4 2970.6 745.1 L 2970.6 825 Q 2970.6 829 2966.6 829 L 2912.4 829 Q 2908.4 829 2908.4 825 Z" fill="#d4eaf4"/><rect x="2988.6" y="706.7" width="56.7" height="14" rx="3" fill="#b0b0b0"/><rect x="2998.2" y="720.2" width="37.9" height="14" fill="#d4eaf4"/><path d="M 2986 745.1 Q 2986 733.4 2997.7 733.4 L 3036.5 733.4 Q 3048.2 733.4 3048.2 745.1 L 3048.2 825 Q 3048.2 829 3044.2 829 L 2990 829 Q 2986 829 2986 825 Z" fill="#d4eaf4"/><rect x="3066.1" y="706.7" width="56.7" height="14" rx="3" fill="#b0b0b0"/><rect x="3075.8" y="720.2" width="37.9" height="14" fill="#d4eaf4"/><path d="M 3063.5 745.1 Q 3063.5 733.4 3075.2 733.4 L 3114 733.4 Q 3125.7 733.4 3125.7 745.1 L 3125.7 825 Q 3125.7 829 3121.7 829 L 3067.5 829 Q 3063.5 829 3063.5 825 Z" fill="#d4eaf4"/><rect x="3143.7" y="706.7" width="56.7" height="14" rx="3" fill="#b0b0b0"/><rect x="3153.3" y="720.2" width="37.9" height="14" fill="#d4eaf4"/><path d="M 3141.1 745.1 Q 3141.1 733.4 3152.8 733.4 L 3191.6 733.4 Q 3203.2 733.4 3203.2 745.1 L 3203.2 825 Q 3203.2 829 3199.2 829 L 3145.1 829 Q 3141.1 829 3141.1 825 Z" fill="#d4eaf4"/><rect x="3221.2" y="706.7" width="56.7" height="14" rx="3" fill="#b0b0b0"/><rect x="3230.9" y="720.2" width="37.9" height="14" fill="#d4eaf4"/><path d="M 3218.6 745.1 Q 3218.6 733.4 3230.3 733.4 L 3269.1 733.4 Q 3280.8 733.4 3280.8 745.1 L 3280.8 825 Q 3280.8 829 3276.8 829 L 3222.6 829 Q 3218.6 829 3218.6 825 Z" fill="#d4eaf4"/><rect x="3298.8" y="706.7" width="56.7" height="14" rx="3" fill="#b0b0b0"/><rect x="3308.4" y="720.2" width="37.9" height="14" fill="#d4eaf4"/><path d="M 3296.2 745.1 Q 3296.2 733.4 3307.8 733.4 L 3346.7 733.4 Q 3358.3 733.4 3358.3 745.1 L 3358.3 825 Q 3358.3 829 3354.3 829 L 3300.2 829 Q 3296.2 829 3296.2 825 Z" fill="#d4eaf4"/><rect x="3376.3" y="706.7" width="56.7" height="14" rx="3" fill="#b0b0b0"/><rect x="3386" y="720.2" width="37.9" height="14" fill="#d4eaf4"/><path d="M 3373.7 745.1 Q 3373.7 733.4 3385.4 733.4 L 3424.2 733.4 Q 3435.9 733.4 3435.9 745.1 L 3435.9 825 Q 3435.9 829 3431.9 829 L 3377.7 829 Q 3373.7 829 3373.7 825 Z" fill="#d4eaf4"/></g>
<rect x="3576.4" y="267.2" width="104.8" height="25.7" rx="5" fill="#b0b0b0"/>
<rect x="3593.6" y="292" width="70.2" height="25" fill="#d4eaf4"/>
<path d="M 3571.4 337.7 Q 3571.4 315.7 3593.4 315.7 L 3664.2 315.7 Q 3686.2 315.7 3686.2 337.7 L 3686.2 481.7 Q 3686.2 491.7 3676.2 491.7 L 3581.4 491.7 Q 3571.4 491.7 3571.4 481.7 Z" fill="#d4eaf4"/>
<text x="3592.5" y="424" font-size="50" font-weight="bold" fill="#289bca" stroke="#289bca" stroke-width="1.4" textLength="79" lengthAdjust="spacingAndGlyphs">NK</text>
<path d="M 3143.5 854.3 L 3143.5 1075 Q 3143.5 1099 3167.5 1099 L 3187 1099" fill="none" stroke="#289bca" stroke-width="12.7"/>
<path d="M 3184.9 1082.3 L 3214.2 1098.8 L 3184.9 1115.7 Z" fill="#289bca"/>
<path d="M 3266.8 1205 L 3266.8 1236.5 Q 3266.8 1242.3 3272.5 1242.3 Q 3278.3 1242.3 3278.3 1236.5 L 3278.3 1205 Z" fill="#000"/>
<path d="M 3413.8 1205 L 3413.8 1236.5 Q 3413.8 1242.3 3419.7 1242.3 Q 3425.6 1242.3 3425.6 1236.5 L 3425.6 1205 Z" fill="#000"/>
<path d="M 3272 996 L 3272 968 Q 3272 960.5 3279.5 960.5 L 3305 960.5" fill="none" stroke="#888888" stroke-width="4"/>
<rect x="3419.2" y="952" width="14.4" height="56" fill="#c5c5c5"/>
<rect x="3419.2" y="930.2" width="51" height="30.9" rx="8" fill="#888888"/>
<rect x="3325.8" y="930.9" width="44" height="20" rx="8" fill="#888888"/>
<rect x="3303.5" y="946" width="89.3" height="30" fill="#888888"/>
<path d="M 3297 948.1 L 3398.5 948.1 M 3297 971.1 L 3398.5 971.1" stroke="#289bca" stroke-width="10.3" stroke-linecap="round"/>
<path d="M 3250.3 1048 C 3251 996, 3288 971.5, 3347.8 971.5 C 3407 971.5, 3444 996, 3445.4 1048 L 3445.4 1203.5 Q 3445.4 1222.5 3426.4 1222.5 L 3269.3 1222.5 Q 3250.3 1222.5 3250.3 1203.5 Z" fill="#c5c5c5"/>
<path d="M 3251.8 1097.4 L 3443.8 1097.4" stroke="#888888" stroke-width="11.2" stroke-linecap="round"/>
<path d="M 3588 1075 L 3632 908 Q 3642 876.8 3675 876.8 L 3900 876.8 L 3920.9 933.2 L 3700 985 L 3670.5 1095.6 A 41.5 41.5 0 0 1 3588 1075 Z" fill="#289bca"/>
<path d="M 3871.3 741.7 A 43 43 0 0 1 3957 741.7 L 3920.9 933.2 L 3840 933.2 Z" fill="#289bca"/>
<ellipse cx="3910.5" cy="642.2" rx="43" ry="48" fill="#289bca"/>
<path d="M 3981.8 621.9 A 41.5 41.5 0 0 1 4063 637.7 L 3995.3 990 Q 3988 1018 3962 1018 L 3736 1018 A 42.4 42.4 0 0 1 3736 933.2 L 3920.9 933.2 Z" fill="#0c3399"/>
<path d="M 3794.6 1017 L 3887 1017 L 3926.3 1112 Q 3930 1124.9 3918 1124.9 L 3764 1124.9 Q 3752 1124.9 3756.2 1112 Z" fill="#0c3399"/>
<path d="M 3731.4 853 L 3838.5 853 L 3889.3 802.3" fill="none" stroke="#0c3399" stroke-width="47.4" stroke-linecap="round" stroke-linejoin="round"/>
<rect x="337" y="1358.2" width="3474" height="20.4" fill="#289bca"/>
<circle cx="336.7" cy="1370" r="53.7" fill="#289bca"/>
<path d="M 326.6 1352 L 344.2 1352 L 344.2 1388 L 333.7 1388 L 333.7 1359.6 L 326.6 1359.6 Z" fill="#fff"/>
<circle cx="1038.4" cy="1370" r="53.7" fill="#289bca"/>
<text x="1021.2" y="1388.6" font-size="52.5" font-weight="bold" fill="#fff" stroke="#fff" stroke-width="1" textLength="32.8" lengthAdjust="spacingAndGlyphs">2</text>
<circle cx="1734.3" cy="1370" r="53.7" fill="#289bca"/>
<text x="1718.1" y="1388.6" font-size="52.5" font-weight="bold" fill="#fff" stroke="#fff" stroke-width="1" textLength="30.6" lengthAdjust="spacingAndGlyphs">3</text>
<circle cx="2430.2" cy="1370" r="53.7" fill="#289bca"/>
<text x="2413.7" y="1388.6" font-size="52.5" font-weight="bold" fill="#fff" stroke="#fff" stroke-width="1" textLength="34.3" lengthAdjust="spacingAndGlyphs">4</text>
<circle cx="3123.2" cy="1370" r="53.7" fill="#289bca"/>
<text x="3107.6" y="1388.6" font-size="52.5" font-weight="bold" fill="#fff" stroke="#fff" stroke-width="1" textLength="31.1" lengthAdjust="spacingAndGlyphs">5</text>
<circle cx="3810.5" cy="1370" r="53.7" fill="#289bca"/>
<text x="3793.9" y="1388.6" font-size="52.5" font-weight="bold" fill="#fff" stroke="#fff" stroke-width="1" textLength="32" lengthAdjust="spacingAndGlyphs">6</text>
<text x="217.3" y="1503.2" font-size="50.5" font-weight="bold" fill="#0c3399" stroke="#0c3399" stroke-width="1.3" textLength="240.4" lengthAdjust="spacingAndGlyphs">COLLECT</text>
<text x="199.1" y="1563.4" font-size="50.5" font-weight="bold" fill="#0c3399" stroke="#0c3399" stroke-width="1.3" textLength="277.2" lengthAdjust="spacingAndGlyphs">&amp; ISOLATE</text>
<text x="907.3" y="1533.1" font-size="50.5" font-weight="bold" fill="#0c3399" stroke="#0c3399" stroke-width="1.3" textLength="263.3" lengthAdjust="spacingAndGlyphs">ACTIVATE</text>
<text x="1600.5" y="1520.2" font-size="50.5" font-weight="bold" fill="#0c3399" stroke="#0c3399" stroke-width="1.3" textLength="272.4" lengthAdjust="spacingAndGlyphs">ENGINEER</text>
<text x="2308.2" y="1533.1" font-size="50.5" font-weight="bold" fill="#0c3399" stroke="#0c3399" stroke-width="1.3" textLength="223.7" lengthAdjust="spacingAndGlyphs">EXPAND</text>
<text x="2907.4" y="1533.1" font-size="50.5" font-weight="bold" fill="#0c3399" stroke="#0c3399" stroke-width="1.3" textLength="428.9" lengthAdjust="spacingAndGlyphs">CRYOPRESERVE</text>
<text x="3733.8" y="1527.2" font-size="50.5" font-weight="bold" fill="#0c3399" stroke="#0c3399" stroke-width="1.3" textLength="165.8" lengthAdjust="spacingAndGlyphs">THAW</text>
<text x="3624.2" y="1586.9" font-size="50.5" font-weight="bold" fill="#0c3399" stroke="#0c3399" stroke-width="1.3" textLength="387.5" lengthAdjust="spacingAndGlyphs">&amp; ADMINISTER</text>
<text x="100.8" y="1673.1" font-size="52" font-weight="bold" fill="#289bca" stroke="#289bca" stroke-width="1.3" textLength="473.3" lengthAdjust="spacingAndGlyphs">NK cells collected</text>
<text x="62.4" y="1733.3" font-size="52" font-weight="bold" fill="#289bca" stroke="#289bca" stroke-width="1.3" textLength="550.7" lengthAdjust="spacingAndGlyphs">from healthy donors</text>
<text x="102.8" y="1793" font-size="52" font-weight="bold" fill="#289bca" stroke="#289bca" stroke-width="1.3" textLength="470.2" lengthAdjust="spacingAndGlyphs">by leukapheresis.</text>
<text x="800.8" y="1673.1" font-size="52" font-weight="bold" fill="#289bca" stroke="#289bca" stroke-width="1.3" textLength="475.3" lengthAdjust="spacingAndGlyphs">NK cell expansion</text>
<text x="805" y="1733.2" font-size="52" font-weight="bold" fill="#289bca" stroke="#289bca" stroke-width="1.3" textLength="465.2" lengthAdjust="spacingAndGlyphs">using proprietary</text>
<text x="809.8" y="1792" font-size="52" font-weight="bold" fill="#289bca" stroke="#289bca" stroke-width="1.3" textLength="458.8" lengthAdjust="spacingAndGlyphs">stimulatory cells.</text>
<text x="1490.4" y="1668.2" font-size="52" font-weight="bold" fill="#289bca" stroke="#289bca" stroke-width="1.3" textLength="497.2" lengthAdjust="spacingAndGlyphs">Expanded NK cells</text>
<text x="1502.2" y="1729.2" font-size="52" font-weight="bold" fill="#289bca" stroke="#289bca" stroke-width="1.3" textLength="473" lengthAdjust="spacingAndGlyphs">are transduced to</text>
<text x="1469.2" y="1788" font-size="52" font-weight="bold" fill="#289bca" stroke="#289bca" stroke-width="1.3" textLength="540.6" lengthAdjust="spacingAndGlyphs">express mbIL-15 and</text>
<text x="1676" y="1848.4" font-size="52" font-weight="bold" fill="#289bca" stroke="#289bca" stroke-width="1.3" textLength="128" lengthAdjust="spacingAndGlyphs">CAR.</text>
<text x="2136.2" y="1673.1" font-size="52" font-weight="bold" fill="#289bca" stroke="#289bca" stroke-width="1.3" textLength="568.4" lengthAdjust="spacingAndGlyphs">Continued expansion</text>
<text x="2179" y="1732.7" font-size="52" font-weight="bold" fill="#289bca" stroke="#289bca" stroke-width="1.3" textLength="483.6" lengthAdjust="spacingAndGlyphs">driven by mbIL-15.</text>
<text x="2916.6" y="1673.1" font-size="52" font-weight="bold" fill="#289bca" stroke="#289bca" stroke-width="1.3" textLength="409.7" lengthAdjust="spacingAndGlyphs">Harvesting and</text>
<text x="2859.8" y="1732.8" font-size="52" font-weight="bold" fill="#289bca" stroke="#289bca" stroke-width="1.3" textLength="523.5" lengthAdjust="spacingAndGlyphs">cryopreservation of</text>
<text x="2886" y="1792.1" font-size="52" font-weight="bold" fill="#289bca" stroke="#289bca" stroke-width="1.3" textLength="472.8" lengthAdjust="spacingAndGlyphs">final cell product.</text>
<text x="3665.5" y="1672.7" font-size="52" font-weight="bold" fill="#289bca" stroke="#289bca" stroke-width="1.3" textLength="303.4" lengthAdjust="spacingAndGlyphs">NK product</text>
<text x="3548.9" y="1732.4" font-size="52" font-weight="bold" fill="#289bca" stroke="#289bca" stroke-width="1.3" textLength="540.5" lengthAdjust="spacingAndGlyphs">candidate is thawed</text>
<text x="3607.7" y="1791.3" font-size="52" font-weight="bold" fill="#289bca" stroke="#289bca" stroke-width="1.3" textLength="421.7" lengthAdjust="spacingAndGlyphs">for off-the-shelf</text>
<text x="3586.2" y="1851.8" font-size="52" font-weight="bold" fill="#289bca" stroke="#289bca" stroke-width="1.3" textLength="463.9" lengthAdjust="spacingAndGlyphs">administration to</text>
<text x="3699.8" y="1909.6" font-size="52" font-weight="bold" fill="#289bca" stroke="#289bca" stroke-width="1.3" textLength="237.4" lengthAdjust="spacingAndGlyphs">patients.</text>
<text x="784.7" y="1193.6" font-size="49.5" fill="#878787" stroke="#878787" stroke-width="0.7" textLength="512.5" lengthAdjust="spacingAndGlyphs">Stimulatory cell line</text>
<text x="1579.1" y="1188.6" font-size="49.5" fill="#878787" stroke="#878787" stroke-width="0.7" textLength="317.6" lengthAdjust="spacingAndGlyphs">y-retro-virus</text>
</svg></body></html>
